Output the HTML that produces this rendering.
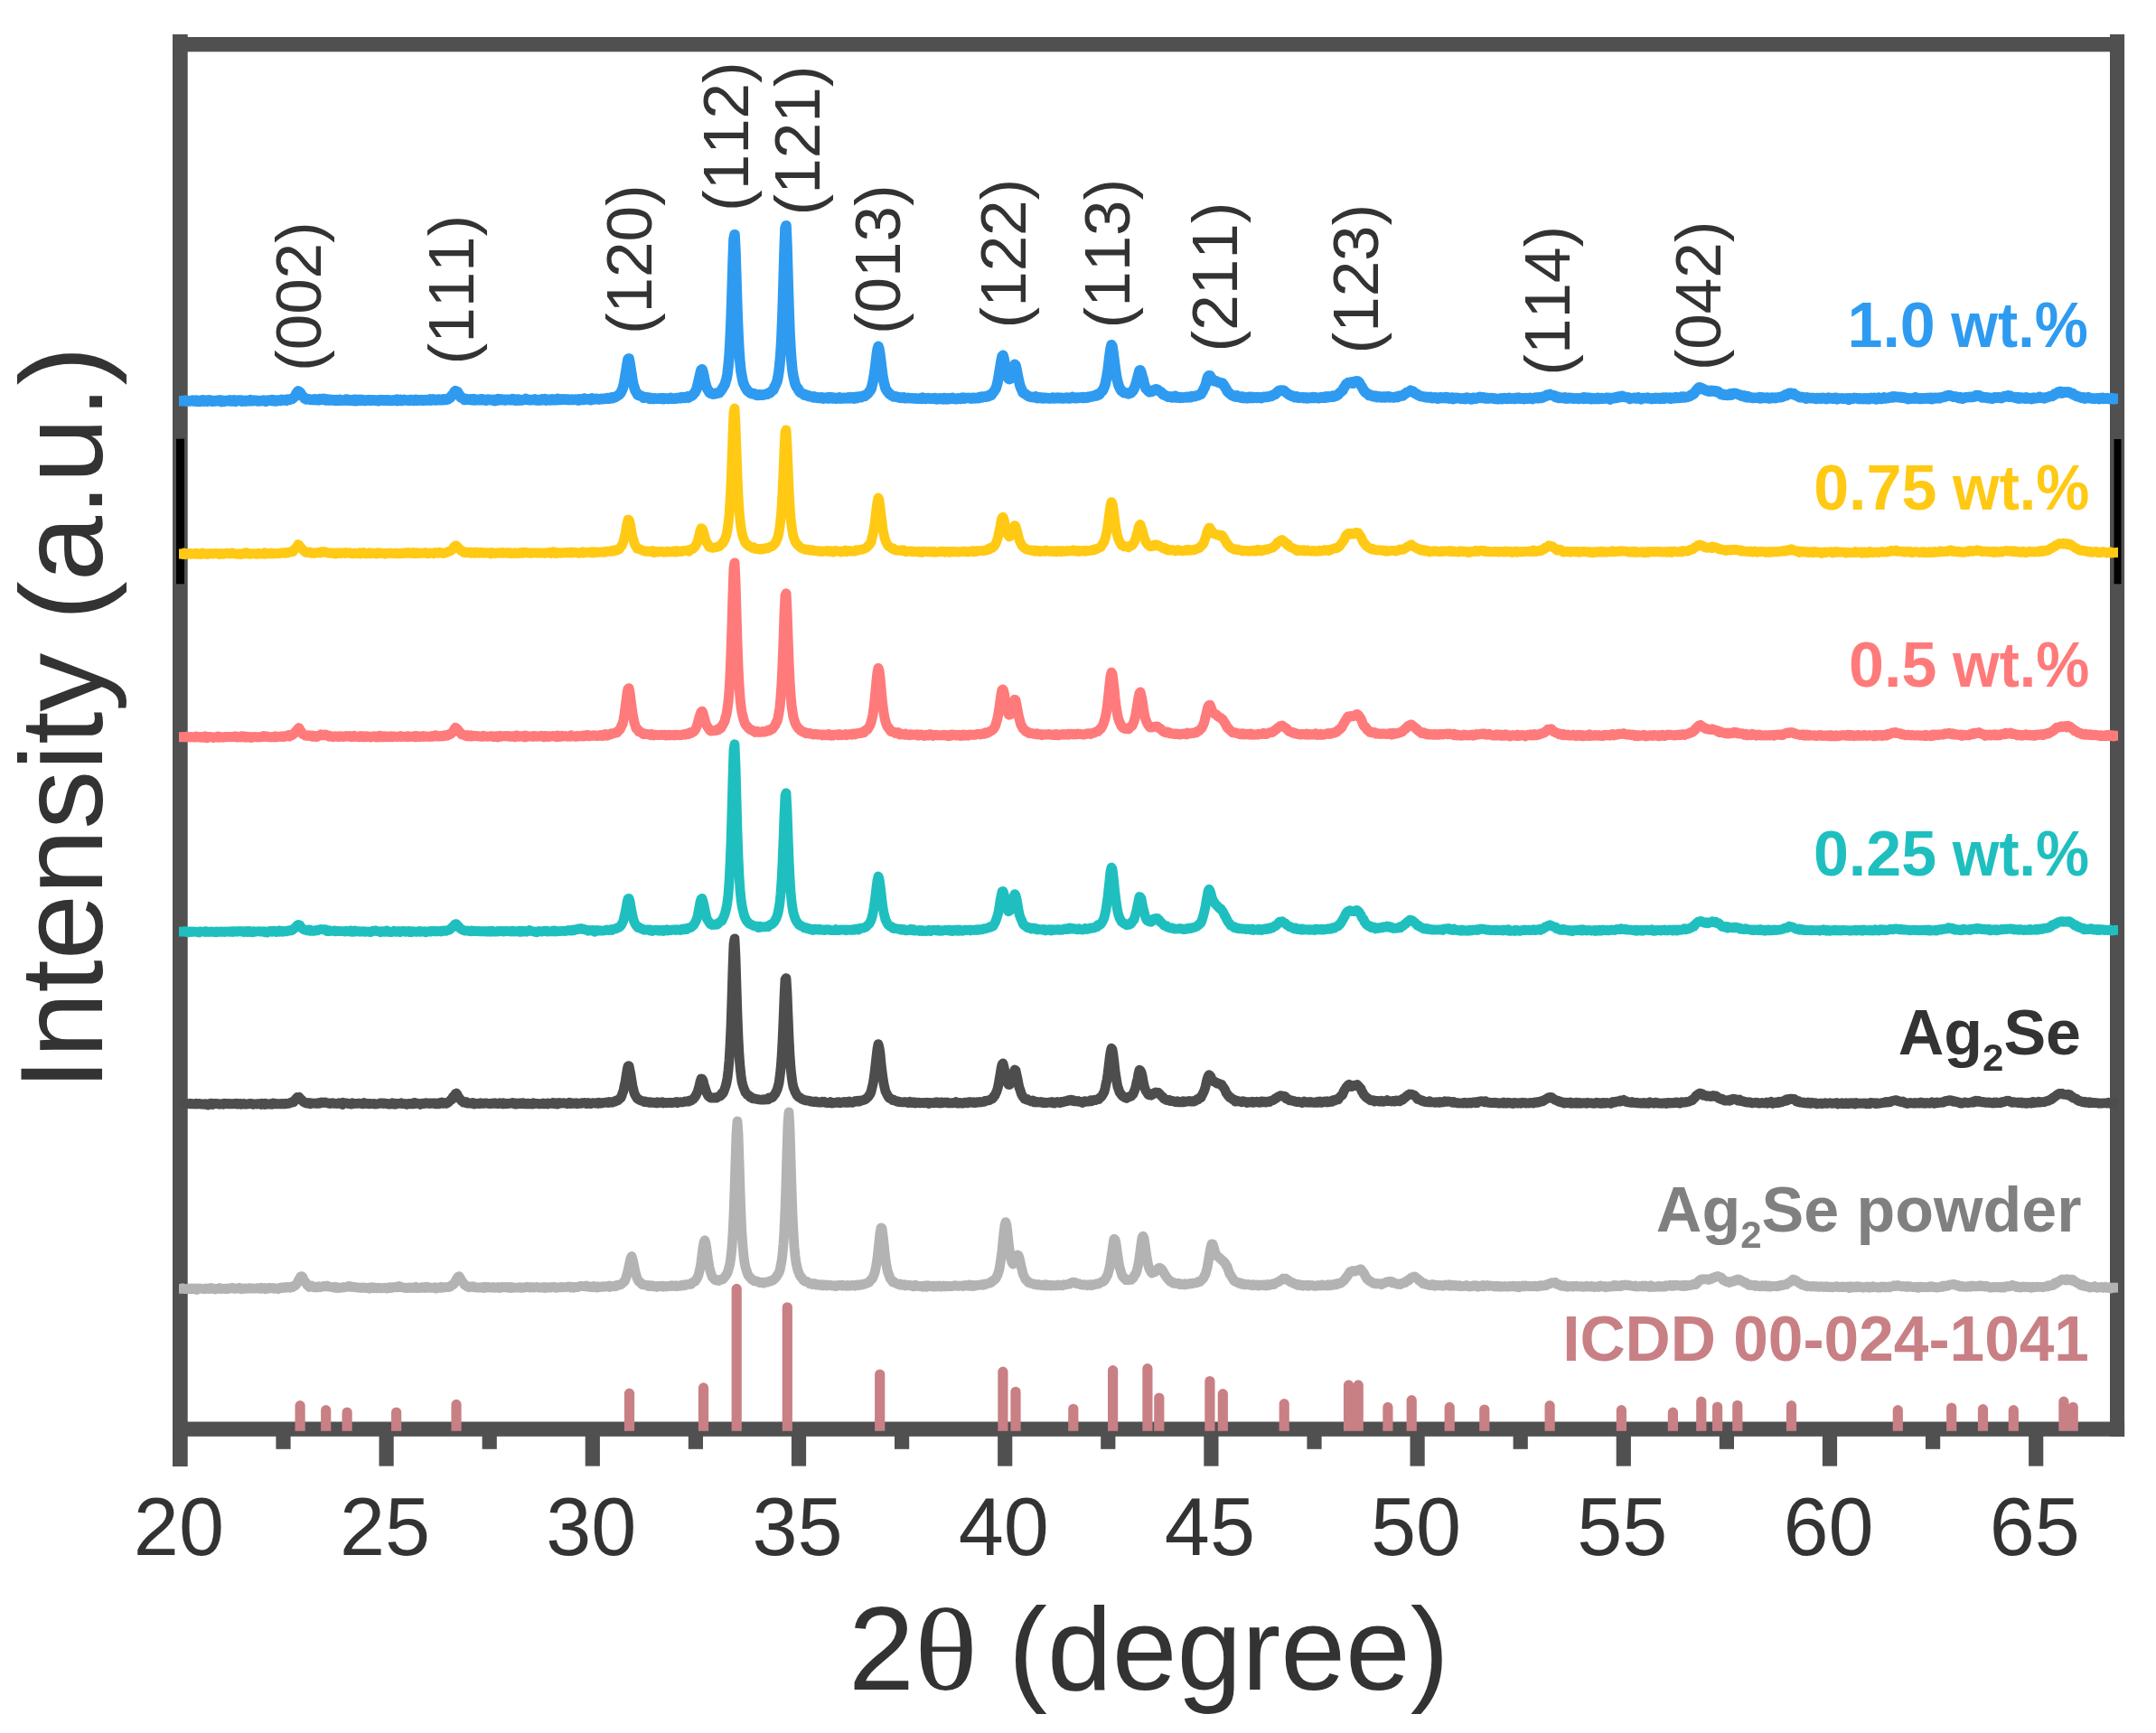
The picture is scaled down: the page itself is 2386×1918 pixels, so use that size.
<!DOCTYPE html>
<html><head><meta charset="utf-8"><title>XRD</title>
<style>html,body{margin:0;padding:0;background:#fff}svg{display:block;filter:blur(0.55px)}text{font-kerning:none}</style></head>
<body>
<svg width="2386" height="1918" viewBox="0 0 2386 1918">
<rect width="2386" height="1918" fill="#fff"/>
<rect x="191" y="38" width="16.7" height="1585" fill="#505050"/>
<rect x="2335" y="38" width="16.1" height="1552" fill="#505050"/>
<rect x="191" y="41" width="2160" height="16.3" fill="#505050"/>
<rect x="191" y="1573.5" width="2160.1" height="16.3" fill="#505050"/>
<rect x="419.5" y="1589" width="16.2" height="33.6" fill="#505050"/>
<rect x="647.7" y="1589" width="16.2" height="33.6" fill="#505050"/>
<rect x="875.9" y="1589" width="16.2" height="33.6" fill="#505050"/>
<rect x="1104.1" y="1589" width="16.2" height="33.6" fill="#505050"/>
<rect x="1332.3" y="1589" width="16.2" height="33.6" fill="#505050"/>
<rect x="1560.5" y="1589" width="16.2" height="33.6" fill="#505050"/>
<rect x="1788.7" y="1589" width="16.2" height="33.6" fill="#505050"/>
<rect x="2016.9" y="1589" width="16.2" height="33.6" fill="#505050"/>
<rect x="2245.1" y="1589" width="16.2" height="33.6" fill="#505050"/>
<rect x="305.4" y="1589" width="16.2" height="14.8" fill="#505050"/>
<rect x="533.6" y="1589" width="16.2" height="14.8" fill="#505050"/>
<rect x="761.8" y="1589" width="16.2" height="14.8" fill="#505050"/>
<rect x="990.0" y="1589" width="16.2" height="14.8" fill="#505050"/>
<rect x="1218.2" y="1589" width="16.2" height="14.8" fill="#505050"/>
<rect x="1446.4" y="1589" width="16.2" height="14.8" fill="#505050"/>
<rect x="1674.6" y="1589" width="16.2" height="14.8" fill="#505050"/>
<rect x="1902.8" y="1589" width="16.2" height="14.8" fill="#505050"/>
<rect x="2131.0" y="1589" width="16.2" height="14.8" fill="#505050"/>
<rect x="195" y="485.7" width="9" height="160.6" fill="#000"/>
<rect x="2339.5" y="486" width="8" height="160.3" fill="#000"/>
<path d="M326.5 1583.8 V1555.6 A5.6 5.6 0 0 1 337.7 1555.6 V1583.8 Z M355.1 1583.8 V1560.7 A5.6 5.6 0 0 1 366.3 1560.7 V1583.8 Z M378.5 1583.8 V1563.0 A5.6 5.6 0 0 1 389.7 1563.0 V1583.8 Z M433.0 1583.8 V1563.0 A5.6 5.6 0 0 1 444.2 1563.0 V1583.8 Z M499.4 1583.8 V1554.4 A5.6 5.6 0 0 1 510.6 1554.4 V1583.8 Z M690.9 1583.8 V1542.2 A5.6 5.6 0 0 1 702.1 1542.2 V1583.8 Z M772.9 1583.8 V1535.9 A5.6 5.6 0 0 1 784.1 1535.9 V1583.8 Z M809.6 1583.8 V1426.4 A5.6 5.6 0 0 1 820.8 1426.4 V1583.8 Z M865.7 1583.8 V1446.8 A5.6 5.6 0 0 1 876.9 1446.8 V1583.8 Z M968.1 1583.8 V1521.0 A5.6 5.6 0 0 1 979.3 1521.0 V1583.8 Z M1104.3 1583.8 V1518.1 A5.6 5.6 0 0 1 1115.5 1518.1 V1583.8 Z M1118.4 1583.8 V1540.3 A5.6 5.6 0 0 1 1129.6 1540.3 V1583.8 Z M1182.2 1583.8 V1559.3 A5.6 5.6 0 0 1 1193.4 1559.3 V1583.8 Z M1226.0 1583.8 V1516.6 A5.6 5.6 0 0 1 1237.2 1516.6 V1583.8 Z M1264.3 1583.8 V1514.7 A5.6 5.6 0 0 1 1275.5 1514.7 V1583.8 Z M1277.2 1583.8 V1547.0 A5.6 5.6 0 0 1 1288.4 1547.0 V1583.8 Z M1333.3 1583.8 V1528.5 A5.6 5.6 0 0 1 1344.5 1528.5 V1583.8 Z M1347.7 1583.8 V1542.6 A5.6 5.6 0 0 1 1358.9 1542.6 V1583.8 Z M1415.6 1583.8 V1553.7 A5.6 5.6 0 0 1 1426.8 1553.7 V1583.8 Z M1486.9 1583.8 V1532.9 A5.6 5.6 0 0 1 1498.1 1532.9 V1583.8 Z M1497.6 1583.8 V1532.9 A5.6 5.6 0 0 1 1508.8 1532.9 V1583.8 Z M1530.3 1583.8 V1557.4 A5.6 5.6 0 0 1 1541.5 1557.4 V1583.8 Z M1556.6 1583.8 V1549.6 A5.6 5.6 0 0 1 1567.8 1549.6 V1583.8 Z M1598.6 1583.8 V1557.4 A5.6 5.6 0 0 1 1609.8 1557.4 V1583.8 Z M1637.2 1583.8 V1560.0 A5.6 5.6 0 0 1 1648.4 1560.0 V1583.8 Z M1709.5 1583.8 V1555.6 A5.6 5.6 0 0 1 1720.7 1555.6 V1583.8 Z M1788.8 1583.8 V1560.7 A5.6 5.6 0 0 1 1800.0 1560.7 V1583.8 Z M1845.8 1583.8 V1563.1 A5.6 5.6 0 0 1 1857.0 1563.1 V1583.8 Z M1877.2 1583.8 V1551.2 A5.6 5.6 0 0 1 1888.4 1551.2 V1583.8 Z M1895.0 1583.8 V1557.0 A5.6 5.6 0 0 1 1906.2 1557.0 V1583.8 Z M1917.2 1583.8 V1555.3 A5.6 5.6 0 0 1 1928.4 1555.3 V1583.8 Z M1976.9 1583.8 V1555.6 A5.6 5.6 0 0 1 1988.1 1555.6 V1583.8 Z M2094.7 1583.8 V1560.7 A5.6 5.6 0 0 1 2105.9 1560.7 V1583.8 Z M2154.1 1583.8 V1558.0 A5.6 5.6 0 0 1 2165.3 1558.0 V1583.8 Z M2188.9 1583.8 V1559.7 A5.6 5.6 0 0 1 2200.1 1559.7 V1583.8 Z M2222.7 1583.8 V1560.7 A5.6 5.6 0 0 1 2233.9 1560.7 V1583.8 Z M2278.3 1583.8 V1551.2 A5.6 5.6 0 0 1 2289.5 1551.2 V1583.8 Z M2288.6 1583.8 V1557.3 A5.6 5.6 0 0 1 2299.8 1557.3 V1583.8 Z" fill="#C88085"/>
<path d="M198.0 1426.4 L199.0 1426.4 L200.0 1426.4 L201.0 1426.3 L202.0 1425.7 L203.0 1426.3 L204.0 1426.6 L205.0 1426.7 L206.0 1426.6 L207.0 1426.5 L208.0 1426.0 L209.0 1425.8 L210.0 1426.8 L211.0 1425.8 L212.0 1425.9 L213.0 1426.6 L214.0 1426.3 L215.0 1426.8 L216.0 1426.1 L217.0 1426.7 L218.0 1427.3 L219.0 1426.0 L220.0 1426.2 L221.0 1426.0 L222.0 1426.2 L223.0 1426.1 L224.0 1426.5 L225.0 1426.6 L226.0 1426.3 L227.0 1426.5 L228.0 1425.9 L229.0 1426.4 L230.0 1426.0 L231.0 1426.6 L232.0 1426.4 L233.0 1425.5 L234.0 1426.2 L235.0 1425.7 L236.0 1426.1 L237.0 1426.6 L238.0 1427.0 L239.0 1426.4 L240.0 1426.4 L241.0 1426.4 L242.0 1426.1 L243.0 1425.5 L244.0 1426.5 L245.0 1426.2 L246.0 1426.2 L247.0 1426.3 L248.0 1426.3 L249.0 1426.2 L250.0 1426.5 L251.0 1426.1 L252.0 1426.6 L253.0 1426.0 L254.0 1426.0 L255.0 1425.7 L256.0 1425.8 L257.0 1425.2 L258.0 1425.6 L259.0 1426.0 L260.0 1426.4 L261.0 1425.8 L262.0 1426.0 L263.0 1426.0 L264.0 1426.0 L265.0 1425.3 L266.0 1425.9 L267.0 1426.8 L268.0 1426.4 L269.0 1425.8 L270.0 1426.1 L271.0 1426.4 L272.0 1425.9 L273.0 1426.2 L274.0 1426.1 L275.0 1425.7 L276.0 1426.0 L277.0 1425.6 L278.0 1426.0 L279.0 1426.1 L280.0 1425.8 L281.0 1426.1 L282.0 1426.1 L283.0 1426.0 L284.0 1425.8 L285.0 1425.6 L286.0 1426.0 L287.0 1426.0 L288.0 1426.3 L289.0 1425.2 L290.0 1426.0 L291.0 1425.8 L292.0 1425.7 L293.0 1425.4 L294.0 1426.7 L295.0 1426.1 L296.0 1425.9 L297.0 1426.0 L298.0 1425.2 L299.0 1425.8 L300.0 1425.9 L301.0 1425.8 L302.0 1425.3 L303.0 1425.6 L304.0 1426.4 L305.0 1426.1 L306.0 1425.9 L307.0 1425.9 L308.0 1426.6 L309.0 1425.8 L310.0 1425.4 L311.0 1424.9 L312.0 1425.6 L313.0 1425.5 L314.0 1424.7 L315.0 1425.2 L316.0 1425.3 L317.0 1425.1 L318.0 1424.3 L319.0 1424.6 L320.0 1424.5 L321.0 1425.3 L322.0 1424.6 L323.0 1424.0 L324.0 1424.4 L325.0 1423.1 L326.0 1423.1 L327.0 1422.7 L328.0 1421.1 L329.0 1419.8 L330.0 1417.7 L331.0 1415.9 L332.0 1414.3 L333.0 1412.6 L334.0 1412.7 L335.0 1413.4 L336.0 1416.7 L337.0 1417.3 L338.0 1419.4 L339.0 1420.3 L340.0 1422.3 L341.0 1423.0 L342.0 1424.3 L343.0 1423.7 L344.0 1424.0 L345.0 1423.0 L346.0 1423.6 L347.0 1424.6 L348.0 1424.3 L349.0 1424.9 L350.0 1424.3 L351.0 1424.8 L352.0 1424.7 L353.0 1423.9 L354.0 1424.6 L355.0 1424.6 L356.0 1424.0 L357.0 1424.0 L358.0 1423.7 L359.0 1423.2 L360.0 1423.4 L361.0 1423.9 L362.0 1423.0 L363.0 1423.8 L364.0 1423.8 L365.0 1424.2 L366.0 1424.3 L367.0 1424.4 L368.0 1424.8 L369.0 1424.6 L370.0 1425.1 L371.0 1424.2 L372.0 1425.4 L373.0 1424.8 L374.0 1424.8 L375.0 1425.5 L376.0 1425.3 L377.0 1425.2 L378.0 1425.2 L379.0 1424.9 L380.0 1424.4 L381.0 1424.8 L382.0 1424.6 L383.0 1424.5 L384.0 1424.0 L385.0 1423.8 L386.0 1423.5 L387.0 1424.3 L388.0 1423.7 L389.0 1424.3 L390.0 1424.2 L391.0 1424.1 L392.0 1424.6 L393.0 1424.3 L394.0 1424.8 L395.0 1425.0 L396.0 1424.8 L397.0 1425.1 L398.0 1425.3 L399.0 1425.3 L400.0 1424.9 L401.0 1425.4 L402.0 1425.1 L403.0 1425.0 L404.0 1425.3 L405.0 1425.2 L406.0 1425.7 L407.0 1425.4 L408.0 1425.2 L409.0 1426.2 L410.0 1425.9 L411.0 1424.6 L412.0 1424.8 L413.0 1425.0 L414.0 1425.8 L415.0 1425.0 L416.0 1425.4 L417.0 1425.3 L418.0 1425.8 L419.0 1425.2 L420.0 1425.5 L421.0 1425.3 L422.0 1425.9 L423.0 1425.6 L424.0 1425.6 L425.0 1425.2 L426.0 1425.3 L427.0 1425.7 L428.0 1426.0 L429.0 1425.2 L430.0 1425.4 L431.0 1424.8 L432.0 1425.7 L433.0 1424.7 L434.0 1425.2 L435.0 1425.1 L436.0 1424.6 L437.0 1424.3 L438.0 1424.6 L439.0 1424.9 L440.0 1424.0 L441.0 1424.4 L442.0 1423.6 L443.0 1424.6 L444.0 1424.3 L445.0 1424.7 L446.0 1424.9 L447.0 1424.8 L448.0 1425.4 L449.0 1425.6 L450.0 1425.6 L451.0 1425.1 L452.0 1425.0 L453.0 1425.5 L454.0 1425.6 L455.0 1425.0 L456.0 1425.2 L457.0 1425.2 L458.0 1425.5 L459.0 1425.1 L460.0 1424.4 L461.0 1425.5 L462.0 1425.6 L463.0 1425.3 L464.0 1425.6 L465.0 1425.2 L466.0 1424.8 L467.0 1425.4 L468.0 1425.0 L469.0 1424.7 L470.0 1425.6 L471.0 1425.2 L472.0 1424.1 L473.0 1425.4 L474.0 1425.2 L475.0 1425.0 L476.0 1425.0 L477.0 1425.3 L478.0 1425.4 L479.0 1425.4 L480.0 1425.5 L481.0 1424.8 L482.0 1425.7 L483.0 1426.0 L484.0 1425.0 L485.0 1425.1 L486.0 1425.1 L487.0 1425.4 L488.0 1424.4 L489.0 1425.2 L490.0 1424.6 L491.0 1424.7 L492.0 1424.8 L493.0 1424.8 L494.0 1424.4 L495.0 1424.5 L496.0 1424.6 L497.0 1424.1 L498.0 1424.2 L499.0 1423.3 L500.0 1422.1 L501.0 1422.2 L502.0 1421.3 L503.0 1420.1 L504.0 1418.0 L505.0 1416.2 L506.0 1414.6 L507.0 1413.2 L508.0 1412.6 L509.0 1414.1 L510.0 1415.7 L511.0 1417.6 L512.0 1419.1 L513.0 1420.0 L514.0 1421.8 L515.0 1422.3 L516.0 1423.2 L517.0 1424.1 L518.0 1423.7 L519.0 1424.7 L520.0 1423.9 L521.0 1424.0 L522.0 1424.0 L523.0 1424.5 L524.0 1423.8 L525.0 1424.7 L526.0 1424.8 L527.0 1425.0 L528.0 1424.9 L529.0 1425.1 L530.0 1425.1 L531.0 1424.9 L532.0 1425.0 L533.0 1424.7 L534.0 1424.8 L535.0 1425.5 L536.0 1424.5 L537.0 1425.3 L538.0 1425.2 L539.0 1424.4 L540.0 1424.3 L541.0 1424.7 L542.0 1425.1 L543.0 1424.8 L544.0 1425.2 L545.0 1424.9 L546.0 1424.5 L547.0 1425.2 L548.0 1425.3 L549.0 1424.9 L550.0 1424.9 L551.0 1424.5 L552.0 1425.3 L553.0 1425.6 L554.0 1425.0 L555.0 1424.4 L556.0 1424.5 L557.0 1424.9 L558.0 1424.5 L559.0 1424.8 L560.0 1424.5 L561.0 1425.0 L562.0 1424.5 L563.0 1425.3 L564.0 1425.5 L565.0 1425.5 L566.0 1424.4 L567.0 1425.4 L568.0 1425.1 L569.0 1425.2 L570.0 1425.1 L571.0 1425.2 L572.0 1425.1 L573.0 1425.0 L574.0 1424.9 L575.0 1424.7 L576.0 1425.4 L577.0 1424.9 L578.0 1424.8 L579.0 1425.3 L580.0 1425.1 L581.0 1424.9 L582.0 1424.9 L583.0 1424.2 L584.0 1424.5 L585.0 1424.8 L586.0 1425.0 L587.0 1425.0 L588.0 1424.4 L589.0 1424.7 L590.0 1425.0 L591.0 1425.2 L592.0 1424.6 L593.0 1424.5 L594.0 1424.4 L595.0 1424.8 L596.0 1425.0 L597.0 1425.2 L598.0 1424.8 L599.0 1425.2 L600.0 1424.9 L601.0 1424.9 L602.0 1424.4 L603.0 1425.5 L604.0 1424.7 L605.0 1425.3 L606.0 1425.1 L607.0 1424.7 L608.0 1424.6 L609.0 1425.1 L610.0 1424.6 L611.0 1424.5 L612.0 1424.5 L613.0 1424.5 L614.0 1424.5 L615.0 1425.3 L616.0 1424.8 L617.0 1425.2 L618.0 1424.9 L619.0 1424.7 L620.0 1424.6 L621.0 1424.3 L622.0 1424.8 L623.0 1424.7 L624.0 1424.7 L625.0 1424.6 L626.0 1424.8 L627.0 1424.4 L628.0 1424.1 L629.0 1424.4 L630.0 1423.9 L631.0 1424.6 L632.0 1425.1 L633.0 1424.3 L634.0 1424.8 L635.0 1425.2 L636.0 1424.3 L637.0 1424.5 L638.0 1424.5 L639.0 1424.7 L640.0 1424.2 L641.0 1423.6 L642.0 1423.5 L643.0 1423.3 L644.0 1423.4 L645.0 1423.7 L646.0 1423.7 L647.0 1423.3 L648.0 1423.8 L649.0 1423.1 L650.0 1423.8 L651.0 1424.4 L652.0 1424.0 L653.0 1423.9 L654.0 1424.6 L655.0 1424.7 L656.0 1424.2 L657.0 1423.5 L658.0 1424.5 L659.0 1424.9 L660.0 1423.9 L661.0 1425.1 L662.0 1423.9 L663.0 1424.6 L664.0 1424.6 L665.0 1424.5 L666.0 1423.9 L667.0 1424.4 L668.0 1423.6 L669.0 1424.1 L670.0 1424.0 L671.0 1424.0 L672.0 1423.5 L673.0 1423.6 L674.0 1423.1 L675.0 1424.4 L676.0 1423.8 L677.0 1423.3 L678.0 1423.6 L679.0 1423.4 L680.0 1423.8 L681.0 1422.9 L682.0 1423.4 L683.0 1422.2 L684.0 1422.4 L685.0 1422.4 L686.0 1421.8 L687.0 1421.8 L688.0 1420.9 L689.0 1419.9 L690.0 1419.0 L691.0 1418.4 L692.0 1416.2 L693.0 1413.7 L694.0 1410.0 L695.0 1406.0 L696.0 1401.3 L697.0 1396.6 L698.0 1392.6 L699.0 1390.5 L700.0 1393.6 L701.0 1397.5 L702.0 1402.7 L703.0 1407.5 L704.0 1410.9 L705.0 1414.6 L706.0 1416.5 L707.0 1418.3 L708.0 1418.7 L709.0 1419.6 L710.0 1421.1 L711.0 1421.9 L712.0 1421.6 L713.0 1421.9 L714.0 1422.3 L715.0 1422.3 L716.0 1422.3 L717.0 1422.4 L718.0 1423.5 L719.0 1422.9 L720.0 1423.4 L721.0 1422.7 L722.0 1423.5 L723.0 1423.8 L724.0 1423.3 L725.0 1423.8 L726.0 1423.6 L727.0 1424.4 L728.0 1423.4 L729.0 1423.5 L730.0 1423.2 L731.0 1423.5 L732.0 1423.8 L733.0 1423.3 L734.0 1424.1 L735.0 1423.3 L736.0 1423.6 L737.0 1424.0 L738.0 1423.3 L739.0 1423.6 L740.0 1423.4 L741.0 1423.2 L742.0 1423.6 L743.0 1422.6 L744.0 1423.0 L745.0 1423.3 L746.0 1423.4 L747.0 1422.9 L748.0 1422.7 L749.0 1423.7 L750.0 1423.3 L751.0 1423.2 L752.0 1423.0 L753.0 1423.3 L754.0 1422.9 L755.0 1422.2 L756.0 1422.5 L757.0 1422.8 L758.0 1421.7 L759.0 1421.9 L760.0 1422.0 L761.0 1421.7 L762.0 1421.2 L763.0 1421.3 L764.0 1421.0 L765.0 1421.2 L766.0 1419.7 L767.0 1419.4 L768.0 1418.4 L769.0 1418.3 L770.0 1416.9 L771.0 1415.5 L772.0 1413.5 L773.0 1411.3 L774.0 1406.9 L775.0 1402.4 L776.0 1396.3 L777.0 1388.4 L778.0 1380.5 L779.0 1375.1 L780.0 1372.7 L781.0 1376.0 L782.0 1382.2 L783.0 1389.7 L784.0 1396.7 L785.0 1402.5 L786.0 1406.6 L787.0 1409.8 L788.0 1412.7 L789.0 1414.3 L790.0 1415.0 L791.0 1416.5 L792.0 1416.2 L793.0 1417.1 L794.0 1417.3 L795.0 1416.8 L796.0 1417.5 L797.0 1416.2 L798.0 1416.3 L799.0 1415.7 L800.0 1415.8 L801.0 1414.6 L802.0 1413.2 L803.0 1412.2 L804.0 1410.4 L805.0 1409.0 L806.0 1405.6 L807.0 1402.1 L808.0 1397.6 L809.0 1390.2 L810.0 1380.3 L811.0 1365.6 L812.0 1344.7 L813.0 1316.9 L814.0 1283.8 L815.0 1254.1 L816.0 1240.8 L817.0 1254.3 L818.0 1284.6 L819.0 1317.4 L820.0 1344.8 L821.0 1365.9 L822.0 1379.1 L823.0 1389.9 L824.0 1397.7 L825.0 1402.5 L826.0 1405.8 L827.0 1408.7 L828.0 1411.2 L829.0 1412.7 L830.0 1414.0 L831.0 1414.3 L832.0 1416.2 L833.0 1416.3 L834.0 1417.4 L835.0 1417.9 L836.0 1417.5 L837.0 1417.9 L838.0 1418.1 L839.0 1418.6 L840.0 1419.3 L841.0 1419.7 L842.0 1419.4 L843.0 1419.3 L844.0 1419.2 L845.0 1420.0 L846.0 1419.4 L847.0 1419.0 L848.0 1419.2 L849.0 1419.2 L850.0 1418.7 L851.0 1418.4 L852.0 1417.7 L853.0 1418.1 L854.0 1417.2 L855.0 1417.2 L856.0 1416.3 L857.0 1415.6 L858.0 1414.3 L859.0 1413.6 L860.0 1411.6 L861.0 1410.3 L862.0 1408.5 L863.0 1405.9 L864.0 1400.7 L865.0 1395.9 L866.0 1388.0 L867.0 1376.6 L868.0 1361.0 L869.0 1337.7 L870.0 1308.6 L871.0 1273.0 L872.0 1242.7 L873.0 1231.0 L874.0 1248.4 L875.0 1281.0 L876.0 1315.1 L877.0 1342.9 L878.0 1363.7 L879.0 1379.7 L880.0 1389.9 L881.0 1397.6 L882.0 1402.0 L883.0 1406.1 L884.0 1408.6 L885.0 1411.2 L886.0 1413.0 L887.0 1413.7 L888.0 1415.4 L889.0 1416.8 L890.0 1417.3 L891.0 1418.4 L892.0 1418.2 L893.0 1418.3 L894.0 1419.1 L895.0 1419.4 L896.0 1420.8 L897.0 1420.5 L898.0 1421.0 L899.0 1421.5 L900.0 1421.2 L901.0 1420.5 L902.0 1420.6 L903.0 1421.9 L904.0 1422.1 L905.0 1421.5 L906.0 1422.2 L907.0 1422.3 L908.0 1422.2 L909.0 1421.8 L910.0 1422.8 L911.0 1422.0 L912.0 1422.7 L913.0 1422.0 L914.0 1422.3 L915.0 1423.0 L916.0 1422.3 L917.0 1422.1 L918.0 1422.7 L919.0 1422.7 L920.0 1422.4 L921.0 1423.0 L922.0 1423.1 L923.0 1423.0 L924.0 1423.5 L925.0 1422.7 L926.0 1423.4 L927.0 1422.9 L928.0 1422.4 L929.0 1422.5 L930.0 1422.4 L931.0 1422.2 L932.0 1423.1 L933.0 1422.3 L934.0 1422.8 L935.0 1423.0 L936.0 1422.8 L937.0 1423.2 L938.0 1422.4 L939.0 1422.5 L940.0 1423.2 L941.0 1423.2 L942.0 1422.7 L943.0 1422.3 L944.0 1422.3 L945.0 1422.8 L946.0 1423.2 L947.0 1422.2 L948.0 1422.3 L949.0 1421.9 L950.0 1422.6 L951.0 1422.1 L952.0 1422.1 L953.0 1421.5 L954.0 1422.0 L955.0 1421.6 L956.0 1421.5 L957.0 1420.8 L958.0 1420.3 L959.0 1420.3 L960.0 1419.8 L961.0 1419.7 L962.0 1419.0 L963.0 1417.3 L964.0 1416.1 L965.0 1415.9 L966.0 1413.6 L967.0 1411.4 L968.0 1408.7 L969.0 1404.4 L970.0 1398.9 L971.0 1392.0 L972.0 1383.0 L973.0 1373.3 L974.0 1364.1 L975.0 1358.9 L976.0 1359.3 L977.0 1366.5 L978.0 1375.5 L979.0 1385.0 L980.0 1393.7 L981.0 1400.2 L982.0 1405.6 L983.0 1409.4 L984.0 1411.6 L985.0 1414.7 L986.0 1416.2 L987.0 1416.9 L988.0 1419.0 L989.0 1418.3 L990.0 1419.8 L991.0 1419.8 L992.0 1420.3 L993.0 1421.1 L994.0 1421.4 L995.0 1421.6 L996.0 1421.0 L997.0 1422.2 L998.0 1421.7 L999.0 1422.0 L1000.0 1422.3 L1001.0 1421.8 L1002.0 1422.9 L1003.0 1422.5 L1004.0 1422.2 L1005.0 1422.5 L1006.0 1422.3 L1007.0 1422.4 L1008.0 1423.0 L1009.0 1423.1 L1010.0 1423.5 L1011.0 1423.9 L1012.0 1423.4 L1013.0 1422.2 L1014.0 1423.4 L1015.0 1423.3 L1016.0 1423.5 L1017.0 1423.6 L1018.0 1423.4 L1019.0 1423.7 L1020.0 1423.6 L1021.0 1424.2 L1022.0 1423.1 L1023.0 1423.0 L1024.0 1423.3 L1025.0 1424.4 L1026.0 1422.7 L1027.0 1423.3 L1028.0 1423.0 L1029.0 1423.4 L1030.0 1423.6 L1031.0 1423.1 L1032.0 1423.9 L1033.0 1424.2 L1034.0 1423.3 L1035.0 1423.8 L1036.0 1423.1 L1037.0 1423.1 L1038.0 1423.8 L1039.0 1423.8 L1040.0 1423.1 L1041.0 1423.7 L1042.0 1424.0 L1043.0 1423.3 L1044.0 1422.9 L1045.0 1423.6 L1046.0 1423.9 L1047.0 1423.5 L1048.0 1423.7 L1049.0 1423.2 L1050.0 1423.5 L1051.0 1423.3 L1052.0 1423.5 L1053.0 1423.7 L1054.0 1423.4 L1055.0 1423.4 L1056.0 1422.8 L1057.0 1422.7 L1058.0 1423.1 L1059.0 1423.3 L1060.0 1423.2 L1061.0 1423.3 L1062.0 1423.2 L1063.0 1423.1 L1064.0 1423.0 L1065.0 1423.2 L1066.0 1423.5 L1067.0 1423.1 L1068.0 1422.5 L1069.0 1422.8 L1070.0 1422.8 L1071.0 1423.1 L1072.0 1423.4 L1073.0 1421.9 L1074.0 1422.7 L1075.0 1422.6 L1076.0 1423.7 L1077.0 1422.5 L1078.0 1422.9 L1079.0 1423.3 L1080.0 1422.4 L1081.0 1422.5 L1082.0 1422.4 L1083.0 1422.4 L1084.0 1422.0 L1085.0 1422.2 L1086.0 1421.8 L1087.0 1421.6 L1088.0 1422.3 L1089.0 1421.0 L1090.0 1421.8 L1091.0 1421.1 L1092.0 1421.0 L1093.0 1420.5 L1094.0 1420.5 L1095.0 1420.3 L1096.0 1419.2 L1097.0 1419.4 L1098.0 1417.8 L1099.0 1417.6 L1100.0 1416.6 L1101.0 1416.0 L1102.0 1415.0 L1103.0 1412.8 L1104.0 1411.0 L1105.0 1407.9 L1106.0 1404.6 L1107.0 1398.2 L1108.0 1391.6 L1109.0 1383.7 L1110.0 1373.3 L1111.0 1363.9 L1112.0 1355.9 L1113.0 1352.6 L1114.0 1356.1 L1115.0 1364.5 L1116.0 1374.0 L1117.0 1382.5 L1118.0 1389.7 L1119.0 1394.1 L1120.0 1397.4 L1121.0 1399.0 L1122.0 1398.6 L1123.0 1396.1 L1124.0 1393.4 L1125.0 1390.4 L1126.0 1388.9 L1127.0 1389.5 L1128.0 1391.8 L1129.0 1396.3 L1130.0 1401.6 L1131.0 1404.9 L1132.0 1409.6 L1133.0 1412.0 L1134.0 1413.8 L1135.0 1416.1 L1136.0 1417.0 L1137.0 1417.7 L1138.0 1419.5 L1139.0 1419.3 L1140.0 1419.8 L1141.0 1420.3 L1142.0 1420.5 L1143.0 1421.0 L1144.0 1420.8 L1145.0 1421.6 L1146.0 1421.5 L1147.0 1421.6 L1148.0 1422.1 L1149.0 1421.4 L1150.0 1422.0 L1151.0 1422.3 L1152.0 1422.5 L1153.0 1422.1 L1154.0 1422.1 L1155.0 1422.7 L1156.0 1421.7 L1157.0 1422.9 L1158.0 1421.8 L1159.0 1422.2 L1160.0 1422.9 L1161.0 1422.6 L1162.0 1422.3 L1163.0 1423.1 L1164.0 1422.8 L1165.0 1422.4 L1166.0 1422.9 L1167.0 1422.8 L1168.0 1422.6 L1169.0 1422.9 L1170.0 1422.8 L1171.0 1422.1 L1172.0 1422.7 L1173.0 1422.7 L1174.0 1422.7 L1175.0 1422.1 L1176.0 1422.7 L1177.0 1421.7 L1178.0 1421.9 L1179.0 1421.8 L1180.0 1421.7 L1181.0 1421.3 L1182.0 1421.2 L1183.0 1420.9 L1184.0 1421.1 L1185.0 1419.8 L1186.0 1419.8 L1187.0 1419.2 L1188.0 1419.2 L1189.0 1419.1 L1190.0 1419.5 L1191.0 1420.5 L1192.0 1420.4 L1193.0 1420.8 L1194.0 1420.6 L1195.0 1421.5 L1196.0 1421.7 L1197.0 1421.8 L1198.0 1422.2 L1199.0 1421.9 L1200.0 1421.7 L1201.0 1422.2 L1202.0 1422.2 L1203.0 1422.7 L1204.0 1421.8 L1205.0 1422.0 L1206.0 1422.4 L1207.0 1421.8 L1208.0 1422.6 L1209.0 1422.5 L1210.0 1421.6 L1211.0 1421.7 L1212.0 1421.6 L1213.0 1420.9 L1214.0 1420.6 L1215.0 1421.1 L1216.0 1420.8 L1217.0 1419.9 L1218.0 1419.5 L1219.0 1418.8 L1220.0 1418.2 L1221.0 1418.4 L1222.0 1417.3 L1223.0 1416.1 L1224.0 1414.2 L1225.0 1412.6 L1226.0 1410.5 L1227.0 1406.7 L1228.0 1402.9 L1229.0 1397.2 L1230.0 1389.8 L1231.0 1383.6 L1232.0 1376.1 L1233.0 1371.2 L1234.0 1371.8 L1235.0 1375.7 L1236.0 1383.4 L1237.0 1390.1 L1238.0 1396.7 L1239.0 1402.5 L1240.0 1405.6 L1241.0 1409.4 L1242.0 1412.0 L1243.0 1413.5 L1244.0 1414.1 L1245.0 1415.4 L1246.0 1416.5 L1247.0 1415.9 L1248.0 1416.2 L1249.0 1416.7 L1250.0 1416.4 L1251.0 1416.1 L1252.0 1416.4 L1253.0 1414.9 L1254.0 1414.7 L1255.0 1412.7 L1256.0 1410.6 L1257.0 1409.5 L1258.0 1406.9 L1259.0 1402.6 L1260.0 1398.3 L1261.0 1391.4 L1262.0 1384.3 L1263.0 1376.5 L1264.0 1369.8 L1265.0 1368.1 L1266.0 1370.4 L1267.0 1376.4 L1268.0 1383.7 L1269.0 1390.8 L1270.0 1396.5 L1271.0 1401.3 L1272.0 1404.3 L1273.0 1406.1 L1274.0 1408.0 L1275.0 1408.9 L1276.0 1408.3 L1277.0 1408.2 L1278.0 1407.9 L1279.0 1406.3 L1280.0 1406.3 L1281.0 1404.3 L1282.0 1403.7 L1283.0 1403.1 L1284.0 1403.5 L1285.0 1404.1 L1286.0 1405.2 L1287.0 1406.7 L1288.0 1408.5 L1289.0 1410.5 L1290.0 1411.7 L1291.0 1413.8 L1292.0 1414.8 L1293.0 1416.0 L1294.0 1416.8 L1295.0 1418.1 L1296.0 1418.2 L1297.0 1418.6 L1298.0 1420.0 L1299.0 1419.6 L1300.0 1420.5 L1301.0 1420.1 L1302.0 1420.4 L1303.0 1420.7 L1304.0 1420.2 L1305.0 1421.4 L1306.0 1421.6 L1307.0 1420.9 L1308.0 1421.5 L1309.0 1421.2 L1310.0 1421.0 L1311.0 1421.8 L1312.0 1420.8 L1313.0 1421.1 L1314.0 1421.5 L1315.0 1421.0 L1316.0 1421.2 L1317.0 1420.5 L1318.0 1420.8 L1319.0 1420.8 L1320.0 1420.1 L1321.0 1420.1 L1322.0 1420.0 L1323.0 1419.9 L1324.0 1419.8 L1325.0 1419.3 L1326.0 1418.4 L1327.0 1418.6 L1328.0 1418.6 L1329.0 1417.4 L1330.0 1416.4 L1331.0 1415.5 L1332.0 1414.3 L1333.0 1411.7 L1334.0 1410.4 L1335.0 1406.6 L1336.0 1403.4 L1337.0 1397.4 L1338.0 1391.3 L1339.0 1385.4 L1340.0 1380.2 L1341.0 1376.8 L1342.0 1376.8 L1343.0 1379.6 L1344.0 1383.2 L1345.0 1386.8 L1346.0 1388.7 L1347.0 1390.3 L1348.0 1390.7 L1349.0 1391.6 L1350.0 1392.3 L1351.0 1393.6 L1352.0 1394.5 L1353.0 1394.9 L1354.0 1396.4 L1355.0 1397.0 L1356.0 1398.2 L1357.0 1400.7 L1358.0 1401.3 L1359.0 1404.8 L1360.0 1407.3 L1361.0 1410.0 L1362.0 1411.4 L1363.0 1413.2 L1364.0 1414.5 L1365.0 1416.4 L1366.0 1417.8 L1367.0 1417.7 L1368.0 1418.7 L1369.0 1419.3 L1370.0 1419.4 L1371.0 1419.3 L1372.0 1420.7 L1373.0 1420.0 L1374.0 1421.3 L1375.0 1420.6 L1376.0 1421.6 L1377.0 1421.9 L1378.0 1421.4 L1379.0 1421.2 L1380.0 1421.7 L1381.0 1421.9 L1382.0 1421.5 L1383.0 1421.9 L1384.0 1422.4 L1385.0 1422.4 L1386.0 1422.7 L1387.0 1421.7 L1388.0 1422.0 L1389.0 1422.3 L1390.0 1422.3 L1391.0 1422.7 L1392.0 1421.9 L1393.0 1423.0 L1394.0 1422.8 L1395.0 1422.7 L1396.0 1422.3 L1397.0 1421.8 L1398.0 1421.8 L1399.0 1422.7 L1400.0 1422.2 L1401.0 1422.9 L1402.0 1422.3 L1403.0 1421.6 L1404.0 1422.5 L1405.0 1421.9 L1406.0 1421.8 L1407.0 1421.9 L1408.0 1420.9 L1409.0 1420.8 L1410.0 1421.5 L1411.0 1420.1 L1412.0 1419.8 L1413.0 1419.3 L1414.0 1418.8 L1415.0 1418.6 L1416.0 1417.9 L1417.0 1417.1 L1418.0 1416.6 L1419.0 1416.4 L1420.0 1415.0 L1421.0 1415.4 L1422.0 1415.4 L1423.0 1415.0 L1424.0 1416.5 L1425.0 1416.7 L1426.0 1417.2 L1427.0 1418.1 L1428.0 1418.7 L1429.0 1419.1 L1430.0 1419.6 L1431.0 1419.7 L1432.0 1420.7 L1433.0 1421.0 L1434.0 1420.8 L1435.0 1421.7 L1436.0 1422.3 L1437.0 1421.4 L1438.0 1422.7 L1439.0 1422.6 L1440.0 1422.7 L1441.0 1422.3 L1442.0 1423.1 L1443.0 1422.4 L1444.0 1422.8 L1445.0 1422.4 L1446.0 1422.2 L1447.0 1423.0 L1448.0 1423.3 L1449.0 1422.3 L1450.0 1422.8 L1451.0 1422.6 L1452.0 1422.5 L1453.0 1422.7 L1454.0 1423.2 L1455.0 1423.4 L1456.0 1423.0 L1457.0 1422.9 L1458.0 1423.1 L1459.0 1422.5 L1460.0 1422.9 L1461.0 1422.6 L1462.0 1422.9 L1463.0 1422.1 L1464.0 1422.9 L1465.0 1422.6 L1466.0 1422.7 L1467.0 1422.7 L1468.0 1423.1 L1469.0 1422.4 L1470.0 1421.8 L1471.0 1422.8 L1472.0 1422.6 L1473.0 1422.0 L1474.0 1422.5 L1475.0 1422.4 L1476.0 1421.4 L1477.0 1421.3 L1478.0 1421.0 L1479.0 1421.9 L1480.0 1420.4 L1481.0 1420.4 L1482.0 1420.6 L1483.0 1420.4 L1484.0 1419.9 L1485.0 1419.0 L1486.0 1418.4 L1487.0 1417.7 L1488.0 1416.4 L1489.0 1414.9 L1490.0 1413.7 L1491.0 1412.4 L1492.0 1410.9 L1493.0 1409.3 L1494.0 1407.7 L1495.0 1407.2 L1496.0 1407.0 L1497.0 1406.3 L1498.0 1406.5 L1499.0 1407.0 L1500.0 1407.0 L1501.0 1406.5 L1502.0 1406.1 L1503.0 1405.8 L1504.0 1405.2 L1505.0 1404.9 L1506.0 1404.6 L1507.0 1405.9 L1508.0 1407.8 L1509.0 1408.4 L1510.0 1410.2 L1511.0 1412.3 L1512.0 1413.9 L1513.0 1415.9 L1514.0 1416.0 L1515.0 1417.4 L1516.0 1417.6 L1517.0 1418.4 L1518.0 1419.0 L1519.0 1419.7 L1520.0 1420.3 L1521.0 1420.5 L1522.0 1420.3 L1523.0 1420.8 L1524.0 1420.5 L1525.0 1420.8 L1526.0 1420.6 L1527.0 1420.9 L1528.0 1421.1 L1529.0 1421.6 L1530.0 1420.4 L1531.0 1420.6 L1532.0 1420.2 L1533.0 1419.7 L1534.0 1419.2 L1535.0 1418.6 L1536.0 1418.8 L1537.0 1418.2 L1538.0 1418.4 L1539.0 1418.9 L1540.0 1418.2 L1541.0 1419.7 L1542.0 1419.3 L1543.0 1420.2 L1544.0 1420.4 L1545.0 1420.4 L1546.0 1420.8 L1547.0 1421.3 L1548.0 1420.8 L1549.0 1421.2 L1550.0 1421.5 L1551.0 1420.6 L1552.0 1420.1 L1553.0 1419.9 L1554.0 1419.9 L1555.0 1419.6 L1556.0 1418.0 L1557.0 1418.0 L1558.0 1417.1 L1559.0 1417.2 L1560.0 1415.3 L1561.0 1415.0 L1562.0 1414.0 L1563.0 1413.7 L1564.0 1413.6 L1565.0 1412.9 L1566.0 1412.8 L1567.0 1414.4 L1568.0 1414.5 L1569.0 1415.7 L1570.0 1416.8 L1571.0 1416.9 L1572.0 1418.0 L1573.0 1419.1 L1574.0 1419.4 L1575.0 1420.8 L1576.0 1420.1 L1577.0 1421.3 L1578.0 1421.1 L1579.0 1421.6 L1580.0 1421.6 L1581.0 1422.2 L1582.0 1422.6 L1583.0 1422.5 L1584.0 1422.4 L1585.0 1421.7 L1586.0 1422.7 L1587.0 1422.0 L1588.0 1423.1 L1589.0 1422.4 L1590.0 1422.2 L1591.0 1422.3 L1592.0 1422.9 L1593.0 1422.6 L1594.0 1422.9 L1595.0 1422.4 L1596.0 1423.1 L1597.0 1423.3 L1598.0 1422.7 L1599.0 1422.2 L1600.0 1422.0 L1601.0 1422.1 L1602.0 1422.7 L1603.0 1421.9 L1604.0 1421.6 L1605.0 1423.2 L1606.0 1422.9 L1607.0 1423.0 L1608.0 1422.3 L1609.0 1423.0 L1610.0 1422.5 L1611.0 1422.8 L1612.0 1423.3 L1613.0 1422.7 L1614.0 1423.2 L1615.0 1422.8 L1616.0 1423.7 L1617.0 1423.2 L1618.0 1423.5 L1619.0 1423.5 L1620.0 1423.2 L1621.0 1423.3 L1622.0 1423.2 L1623.0 1422.6 L1624.0 1423.6 L1625.0 1423.9 L1626.0 1424.0 L1627.0 1423.5 L1628.0 1423.8 L1629.0 1423.2 L1630.0 1423.4 L1631.0 1422.8 L1632.0 1423.2 L1633.0 1423.6 L1634.0 1422.8 L1635.0 1423.3 L1636.0 1424.2 L1637.0 1423.5 L1638.0 1423.1 L1639.0 1423.5 L1640.0 1423.2 L1641.0 1422.6 L1642.0 1423.8 L1643.0 1423.0 L1644.0 1423.0 L1645.0 1423.1 L1646.0 1422.4 L1647.0 1422.8 L1648.0 1423.3 L1649.0 1423.0 L1650.0 1423.2 L1651.0 1423.1 L1652.0 1423.2 L1653.0 1423.9 L1654.0 1423.4 L1655.0 1424.1 L1656.0 1423.9 L1657.0 1423.1 L1658.0 1423.4 L1659.0 1423.4 L1660.0 1424.2 L1661.0 1423.6 L1662.0 1424.1 L1663.0 1424.2 L1664.0 1423.9 L1665.0 1423.5 L1666.0 1423.8 L1667.0 1424.1 L1668.0 1423.8 L1669.0 1424.1 L1670.0 1423.6 L1671.0 1423.3 L1672.0 1423.6 L1673.0 1423.9 L1674.0 1423.2 L1675.0 1423.9 L1676.0 1423.6 L1677.0 1423.3 L1678.0 1423.9 L1679.0 1424.4 L1680.0 1423.3 L1681.0 1424.8 L1682.0 1423.9 L1683.0 1423.5 L1684.0 1423.9 L1685.0 1423.1 L1686.0 1423.9 L1687.0 1423.8 L1688.0 1422.9 L1689.0 1423.0 L1690.0 1423.3 L1691.0 1423.6 L1692.0 1423.8 L1693.0 1423.6 L1694.0 1423.3 L1695.0 1423.9 L1696.0 1423.8 L1697.0 1423.6 L1698.0 1423.4 L1699.0 1423.1 L1700.0 1423.5 L1701.0 1424.1 L1702.0 1423.7 L1703.0 1423.8 L1704.0 1422.8 L1705.0 1423.3 L1706.0 1422.7 L1707.0 1423.2 L1708.0 1423.0 L1709.0 1422.8 L1710.0 1422.9 L1711.0 1422.0 L1712.0 1422.3 L1713.0 1421.5 L1714.0 1420.8 L1715.0 1420.5 L1716.0 1420.5 L1717.0 1419.7 L1718.0 1419.9 L1719.0 1419.8 L1720.0 1419.6 L1721.0 1419.2 L1722.0 1420.6 L1723.0 1421.4 L1724.0 1421.2 L1725.0 1422.1 L1726.0 1421.8 L1727.0 1422.9 L1728.0 1423.3 L1729.0 1423.0 L1730.0 1423.2 L1731.0 1422.7 L1732.0 1423.9 L1733.0 1423.1 L1734.0 1423.7 L1735.0 1424.3 L1736.0 1423.7 L1737.0 1423.7 L1738.0 1423.9 L1739.0 1423.5 L1740.0 1423.5 L1741.0 1424.2 L1742.0 1423.5 L1743.0 1423.7 L1744.0 1423.3 L1745.0 1423.9 L1746.0 1423.5 L1747.0 1423.8 L1748.0 1423.8 L1749.0 1423.9 L1750.0 1423.6 L1751.0 1423.8 L1752.0 1424.3 L1753.0 1424.3 L1754.0 1424.1 L1755.0 1424.1 L1756.0 1423.3 L1757.0 1423.9 L1758.0 1424.0 L1759.0 1424.0 L1760.0 1424.2 L1761.0 1423.5 L1762.0 1424.1 L1763.0 1423.7 L1764.0 1424.1 L1765.0 1424.6 L1766.0 1424.2 L1767.0 1423.9 L1768.0 1423.6 L1769.0 1424.3 L1770.0 1423.2 L1771.0 1423.6 L1772.0 1423.0 L1773.0 1423.9 L1774.0 1423.6 L1775.0 1423.7 L1776.0 1423.5 L1777.0 1424.7 L1778.0 1424.2 L1779.0 1424.2 L1780.0 1423.6 L1781.0 1424.2 L1782.0 1423.8 L1783.0 1423.7 L1784.0 1423.2 L1785.0 1423.8 L1786.0 1422.7 L1787.0 1423.4 L1788.0 1422.7 L1789.0 1423.7 L1790.0 1423.6 L1791.0 1423.6 L1792.0 1422.7 L1793.0 1423.4 L1794.0 1423.6 L1795.0 1422.5 L1796.0 1422.2 L1797.0 1422.1 L1798.0 1422.0 L1799.0 1422.6 L1800.0 1422.1 L1801.0 1422.6 L1802.0 1422.6 L1803.0 1422.4 L1804.0 1422.9 L1805.0 1423.1 L1806.0 1423.3 L1807.0 1423.5 L1808.0 1423.3 L1809.0 1423.7 L1810.0 1422.9 L1811.0 1423.5 L1812.0 1424.2 L1813.0 1423.9 L1814.0 1423.7 L1815.0 1423.5 L1816.0 1423.6 L1817.0 1423.8 L1818.0 1423.1 L1819.0 1423.7 L1820.0 1423.8 L1821.0 1423.0 L1822.0 1423.2 L1823.0 1423.8 L1824.0 1423.7 L1825.0 1424.6 L1826.0 1424.6 L1827.0 1422.7 L1828.0 1423.6 L1829.0 1424.3 L1830.0 1424.0 L1831.0 1424.4 L1832.0 1424.3 L1833.0 1423.8 L1834.0 1424.2 L1835.0 1423.8 L1836.0 1423.3 L1837.0 1423.8 L1838.0 1424.2 L1839.0 1424.0 L1840.0 1423.5 L1841.0 1424.2 L1842.0 1424.1 L1843.0 1424.1 L1844.0 1422.8 L1845.0 1423.1 L1846.0 1423.1 L1847.0 1422.9 L1848.0 1422.3 L1849.0 1422.7 L1850.0 1423.3 L1851.0 1422.3 L1852.0 1423.4 L1853.0 1422.2 L1854.0 1422.7 L1855.0 1422.5 L1856.0 1422.2 L1857.0 1422.8 L1858.0 1422.9 L1859.0 1422.8 L1860.0 1423.4 L1861.0 1423.3 L1862.0 1422.4 L1863.0 1423.5 L1864.0 1422.7 L1865.0 1422.2 L1866.0 1423.2 L1867.0 1423.3 L1868.0 1422.4 L1869.0 1422.7 L1870.0 1422.3 L1871.0 1422.6 L1872.0 1422.0 L1873.0 1422.1 L1874.0 1421.2 L1875.0 1421.6 L1876.0 1420.9 L1877.0 1421.4 L1878.0 1420.3 L1879.0 1418.8 L1880.0 1417.7 L1881.0 1417.6 L1882.0 1416.1 L1883.0 1416.0 L1884.0 1415.6 L1885.0 1415.6 L1886.0 1415.8 L1887.0 1415.9 L1888.0 1415.7 L1889.0 1415.9 L1890.0 1416.0 L1891.0 1416.5 L1892.0 1415.6 L1893.0 1415.5 L1894.0 1415.5 L1895.0 1414.4 L1896.0 1414.3 L1897.0 1414.0 L1898.0 1413.3 L1899.0 1412.9 L1900.0 1413.0 L1901.0 1412.4 L1902.0 1413.2 L1903.0 1413.4 L1904.0 1413.6 L1905.0 1413.9 L1906.0 1415.3 L1907.0 1416.6 L1908.0 1417.1 L1909.0 1417.5 L1910.0 1418.2 L1911.0 1418.7 L1912.0 1418.7 L1913.0 1418.5 L1914.0 1419.4 L1915.0 1418.8 L1916.0 1418.9 L1917.0 1418.2 L1918.0 1418.1 L1919.0 1418.1 L1920.0 1416.9 L1921.0 1416.8 L1922.0 1416.4 L1923.0 1415.9 L1924.0 1417.0 L1925.0 1416.1 L1926.0 1417.2 L1927.0 1417.2 L1928.0 1418.0 L1929.0 1418.5 L1930.0 1419.1 L1931.0 1419.9 L1932.0 1419.5 L1933.0 1420.5 L1934.0 1421.3 L1935.0 1422.2 L1936.0 1421.9 L1937.0 1421.8 L1938.0 1422.7 L1939.0 1422.7 L1940.0 1422.3 L1941.0 1422.5 L1942.0 1422.5 L1943.0 1423.4 L1944.0 1422.7 L1945.0 1422.7 L1946.0 1423.3 L1947.0 1423.7 L1948.0 1423.1 L1949.0 1423.7 L1950.0 1422.9 L1951.0 1423.7 L1952.0 1423.5 L1953.0 1423.5 L1954.0 1422.7 L1955.0 1423.9 L1956.0 1423.5 L1957.0 1423.6 L1958.0 1423.1 L1959.0 1424.1 L1960.0 1423.4 L1961.0 1423.7 L1962.0 1423.4 L1963.0 1423.4 L1964.0 1423.7 L1965.0 1423.6 L1966.0 1423.8 L1967.0 1423.1 L1968.0 1423.5 L1969.0 1422.8 L1970.0 1423.1 L1971.0 1422.3 L1972.0 1422.7 L1973.0 1422.5 L1974.0 1422.0 L1975.0 1421.7 L1976.0 1421.5 L1977.0 1421.6 L1978.0 1420.6 L1979.0 1420.0 L1980.0 1419.4 L1981.0 1419.0 L1982.0 1418.2 L1983.0 1417.3 L1984.0 1416.0 L1985.0 1416.7 L1986.0 1416.4 L1987.0 1417.2 L1988.0 1417.4 L1989.0 1418.7 L1990.0 1419.1 L1991.0 1419.8 L1992.0 1420.7 L1993.0 1420.6 L1994.0 1422.1 L1995.0 1422.0 L1996.0 1422.3 L1997.0 1422.3 L1998.0 1423.2 L1999.0 1422.7 L2000.0 1423.7 L2001.0 1423.1 L2002.0 1423.5 L2003.0 1423.3 L2004.0 1423.7 L2005.0 1424.0 L2006.0 1423.6 L2007.0 1423.4 L2008.0 1423.8 L2009.0 1423.6 L2010.0 1424.1 L2011.0 1423.6 L2012.0 1423.9 L2013.0 1424.4 L2014.0 1424.2 L2015.0 1423.7 L2016.0 1424.0 L2017.0 1424.3 L2018.0 1424.5 L2019.0 1423.9 L2020.0 1424.3 L2021.0 1423.9 L2022.0 1423.7 L2023.0 1424.7 L2024.0 1424.5 L2025.0 1424.6 L2026.0 1424.7 L2027.0 1424.2 L2028.0 1424.8 L2029.0 1424.7 L2030.0 1424.1 L2031.0 1424.2 L2032.0 1423.8 L2033.0 1423.6 L2034.0 1424.6 L2035.0 1424.6 L2036.0 1424.1 L2037.0 1424.6 L2038.0 1424.4 L2039.0 1423.9 L2040.0 1424.7 L2041.0 1424.6 L2042.0 1424.7 L2043.0 1424.2 L2044.0 1423.9 L2045.0 1424.6 L2046.0 1424.9 L2047.0 1425.7 L2048.0 1423.7 L2049.0 1424.3 L2050.0 1424.8 L2051.0 1424.7 L2052.0 1424.9 L2053.0 1424.0 L2054.0 1424.0 L2055.0 1424.8 L2056.0 1423.7 L2057.0 1424.3 L2058.0 1423.9 L2059.0 1424.6 L2060.0 1424.4 L2061.0 1425.1 L2062.0 1424.4 L2063.0 1425.0 L2064.0 1424.6 L2065.0 1424.4 L2066.0 1424.0 L2067.0 1424.7 L2068.0 1424.3 L2069.0 1425.2 L2070.0 1424.5 L2071.0 1424.7 L2072.0 1424.8 L2073.0 1423.6 L2074.0 1424.3 L2075.0 1424.6 L2076.0 1424.7 L2077.0 1424.5 L2078.0 1425.1 L2079.0 1424.9 L2080.0 1424.8 L2081.0 1425.0 L2082.0 1423.9 L2083.0 1424.8 L2084.0 1424.4 L2085.0 1423.9 L2086.0 1424.7 L2087.0 1424.9 L2088.0 1424.7 L2089.0 1424.5 L2090.0 1424.0 L2091.0 1424.8 L2092.0 1424.2 L2093.0 1423.8 L2094.0 1423.4 L2095.0 1423.6 L2096.0 1422.8 L2097.0 1423.6 L2098.0 1423.5 L2099.0 1422.8 L2100.0 1422.3 L2101.0 1422.6 L2102.0 1423.5 L2103.0 1423.6 L2104.0 1423.4 L2105.0 1424.0 L2106.0 1423.9 L2107.0 1423.5 L2108.0 1423.6 L2109.0 1424.2 L2110.0 1424.5 L2111.0 1423.4 L2112.0 1424.3 L2113.0 1423.9 L2114.0 1423.7 L2115.0 1424.1 L2116.0 1424.5 L2117.0 1424.6 L2118.0 1424.5 L2119.0 1424.7 L2120.0 1424.4 L2121.0 1424.1 L2122.0 1425.3 L2123.0 1425.4 L2124.0 1424.1 L2125.0 1424.2 L2126.0 1424.1 L2127.0 1424.6 L2128.0 1424.6 L2129.0 1424.3 L2130.0 1424.6 L2131.0 1424.7 L2132.0 1424.8 L2133.0 1424.6 L2134.0 1424.4 L2135.0 1424.6 L2136.0 1423.8 L2137.0 1424.4 L2138.0 1423.8 L2139.0 1424.6 L2140.0 1424.7 L2141.0 1424.5 L2142.0 1424.3 L2143.0 1425.1 L2144.0 1424.9 L2145.0 1424.8 L2146.0 1424.3 L2147.0 1424.6 L2148.0 1424.1 L2149.0 1424.4 L2150.0 1423.2 L2151.0 1424.0 L2152.0 1423.0 L2153.0 1423.4 L2154.0 1423.2 L2155.0 1423.4 L2156.0 1422.5 L2157.0 1422.0 L2158.0 1422.2 L2159.0 1422.0 L2160.0 1421.7 L2161.0 1421.4 L2162.0 1421.8 L2163.0 1421.4 L2164.0 1422.1 L2165.0 1422.1 L2166.0 1423.0 L2167.0 1422.6 L2168.0 1423.7 L2169.0 1424.1 L2170.0 1423.6 L2171.0 1423.3 L2172.0 1424.1 L2173.0 1423.9 L2174.0 1424.1 L2175.0 1424.3 L2176.0 1424.4 L2177.0 1424.3 L2178.0 1423.6 L2179.0 1424.2 L2180.0 1423.9 L2181.0 1424.3 L2182.0 1423.1 L2183.0 1423.7 L2184.0 1423.7 L2185.0 1423.2 L2186.0 1423.8 L2187.0 1423.8 L2188.0 1423.7 L2189.0 1423.2 L2190.0 1422.9 L2191.0 1423.5 L2192.0 1422.8 L2193.0 1423.7 L2194.0 1423.5 L2195.0 1423.2 L2196.0 1424.1 L2197.0 1424.2 L2198.0 1423.1 L2199.0 1424.0 L2200.0 1424.0 L2201.0 1424.1 L2202.0 1425.0 L2203.0 1424.8 L2204.0 1425.2 L2205.0 1424.8 L2206.0 1424.5 L2207.0 1424.2 L2208.0 1424.7 L2209.0 1424.8 L2210.0 1424.4 L2211.0 1424.3 L2212.0 1424.8 L2213.0 1424.5 L2214.0 1425.2 L2215.0 1424.2 L2216.0 1424.5 L2217.0 1424.3 L2218.0 1425.0 L2219.0 1423.9 L2220.0 1423.7 L2221.0 1423.8 L2222.0 1423.5 L2223.0 1423.9 L2224.0 1423.6 L2225.0 1423.4 L2226.0 1423.2 L2227.0 1422.3 L2228.0 1422.9 L2229.0 1423.3 L2230.0 1423.2 L2231.0 1424.1 L2232.0 1424.6 L2233.0 1423.8 L2234.0 1423.8 L2235.0 1424.3 L2236.0 1425.0 L2237.0 1424.3 L2238.0 1424.1 L2239.0 1424.6 L2240.0 1424.0 L2241.0 1424.1 L2242.0 1424.7 L2243.0 1424.1 L2244.0 1424.5 L2245.0 1424.5 L2246.0 1424.1 L2247.0 1424.8 L2248.0 1425.3 L2249.0 1424.8 L2250.0 1424.2 L2251.0 1424.3 L2252.0 1424.7 L2253.0 1424.3 L2254.0 1424.2 L2255.0 1424.1 L2256.0 1424.4 L2257.0 1424.4 L2258.0 1424.2 L2259.0 1424.4 L2260.0 1424.4 L2261.0 1424.6 L2262.0 1424.1 L2263.0 1424.0 L2264.0 1423.9 L2265.0 1423.5 L2266.0 1423.8 L2267.0 1422.6 L2268.0 1423.3 L2269.0 1422.6 L2270.0 1422.6 L2271.0 1422.7 L2272.0 1422.3 L2273.0 1422.1 L2274.0 1419.8 L2275.0 1420.7 L2276.0 1419.7 L2277.0 1419.6 L2278.0 1418.2 L2279.0 1418.0 L2280.0 1417.0 L2281.0 1416.6 L2282.0 1415.9 L2283.0 1416.3 L2284.0 1416.0 L2285.0 1416.1 L2286.0 1417.0 L2287.0 1416.0 L2288.0 1416.8 L2289.0 1416.2 L2290.0 1416.2 L2291.0 1416.3 L2292.0 1416.2 L2293.0 1417.5 L2294.0 1416.4 L2295.0 1417.1 L2296.0 1417.8 L2297.0 1418.9 L2298.0 1419.4 L2299.0 1420.0 L2300.0 1420.3 L2301.0 1421.0 L2302.0 1421.9 L2303.0 1422.5 L2304.0 1422.0 L2305.0 1421.8 L2306.0 1423.4 L2307.0 1423.3 L2308.0 1423.6 L2309.0 1423.3 L2310.0 1424.0 L2311.0 1424.1 L2312.0 1424.6 L2313.0 1425.1 L2314.0 1424.4 L2315.0 1424.5 L2316.0 1424.5 L2317.0 1424.6 L2318.0 1423.7 L2319.0 1424.5 L2320.0 1424.5 L2321.0 1425.4 L2322.0 1425.1 L2323.0 1424.6 L2324.0 1424.6 L2325.0 1424.6 L2326.0 1424.4 L2327.0 1425.2 L2328.0 1425.3 L2329.0 1424.9 L2330.0 1424.3 L2331.0 1425.0 L2332.0 1425.4 L2333.0 1425.0 L2334.0 1424.6 L2335.0 1425.0 L2336.0 1426.0 L2337.0 1425.3 L2338.0 1425.4 L2339.0 1424.9 L2340.0 1425.3 L2341.0 1425.2 L2342.0 1425.2 L2343.0 1425.2 L2344.0 1425.2" fill="none" stroke="#B3B3B3" stroke-width="10.8" stroke-linejoin="round" stroke-linecap="butt"/>
<path d="M198.0 1221.8 L199.0 1221.8 L200.0 1221.8 L201.0 1221.8 L202.0 1221.4 L203.0 1221.8 L204.0 1221.7 L205.0 1221.9 L206.0 1221.6 L207.0 1221.6 L208.0 1221.6 L209.0 1221.6 L210.0 1221.2 L211.0 1221.9 L212.0 1221.5 L213.0 1221.9 L214.0 1221.7 L215.0 1221.9 L216.0 1222.0 L217.0 1221.3 L218.0 1221.7 L219.0 1221.8 L220.0 1221.5 L221.0 1221.5 L222.0 1221.9 L223.0 1222.2 L224.0 1221.9 L225.0 1222.0 L226.0 1221.9 L227.0 1222.4 L228.0 1221.7 L229.0 1222.1 L230.0 1223.0 L231.0 1221.9 L232.0 1221.7 L233.0 1221.1 L234.0 1221.1 L235.0 1222.5 L236.0 1221.7 L237.0 1221.4 L238.0 1221.5 L239.0 1221.3 L240.0 1221.7 L241.0 1221.5 L242.0 1221.9 L243.0 1222.3 L244.0 1221.9 L245.0 1221.7 L246.0 1221.7 L247.0 1222.2 L248.0 1221.2 L249.0 1221.3 L250.0 1221.5 L251.0 1221.3 L252.0 1221.9 L253.0 1221.6 L254.0 1221.3 L255.0 1221.9 L256.0 1221.7 L257.0 1221.8 L258.0 1221.7 L259.0 1221.5 L260.0 1221.3 L261.0 1221.9 L262.0 1221.3 L263.0 1222.1 L264.0 1221.8 L265.0 1221.7 L266.0 1221.4 L267.0 1222.3 L268.0 1221.6 L269.0 1221.9 L270.0 1221.4 L271.0 1222.1 L272.0 1221.8 L273.0 1222.1 L274.0 1222.0 L275.0 1221.6 L276.0 1221.3 L277.0 1221.7 L278.0 1221.4 L279.0 1221.5 L280.0 1222.3 L281.0 1222.0 L282.0 1221.8 L283.0 1221.9 L284.0 1222.0 L285.0 1221.7 L286.0 1221.6 L287.0 1221.7 L288.0 1221.8 L289.0 1222.4 L290.0 1221.2 L291.0 1221.7 L292.0 1221.4 L293.0 1222.5 L294.0 1221.4 L295.0 1222.1 L296.0 1221.9 L297.0 1221.8 L298.0 1222.0 L299.0 1221.8 L300.0 1221.5 L301.0 1222.3 L302.0 1221.1 L303.0 1220.9 L304.0 1221.3 L305.0 1221.8 L306.0 1221.3 L307.0 1221.6 L308.0 1221.9 L309.0 1221.7 L310.0 1221.6 L311.0 1221.9 L312.0 1221.4 L313.0 1221.8 L314.0 1221.4 L315.0 1221.9 L316.0 1221.7 L317.0 1221.2 L318.0 1221.5 L319.0 1221.4 L320.0 1221.2 L321.0 1220.9 L322.0 1220.1 L323.0 1220.0 L324.0 1220.1 L325.0 1219.7 L326.0 1217.8 L327.0 1217.0 L328.0 1215.4 L329.0 1214.5 L330.0 1214.6 L331.0 1214.3 L332.0 1215.6 L333.0 1217.2 L334.0 1217.1 L335.0 1218.7 L336.0 1219.5 L337.0 1220.1 L338.0 1220.7 L339.0 1221.0 L340.0 1220.9 L341.0 1220.5 L342.0 1221.4 L343.0 1221.8 L344.0 1220.7 L345.0 1221.1 L346.0 1221.2 L347.0 1221.0 L348.0 1221.2 L349.0 1221.2 L350.0 1221.4 L351.0 1220.8 L352.0 1220.7 L353.0 1221.4 L354.0 1220.9 L355.0 1220.2 L356.0 1219.8 L357.0 1220.2 L358.0 1220.5 L359.0 1220.3 L360.0 1220.0 L361.0 1220.3 L362.0 1220.6 L363.0 1221.0 L364.0 1221.2 L365.0 1221.6 L366.0 1221.0 L367.0 1221.0 L368.0 1220.7 L369.0 1221.0 L370.0 1221.3 L371.0 1221.3 L372.0 1221.3 L373.0 1221.5 L374.0 1221.3 L375.0 1220.8 L376.0 1221.4 L377.0 1221.5 L378.0 1221.0 L379.0 1222.5 L380.0 1220.3 L381.0 1220.6 L382.0 1221.0 L383.0 1220.9 L384.0 1220.8 L385.0 1221.3 L386.0 1221.7 L387.0 1221.5 L388.0 1221.4 L389.0 1222.0 L390.0 1220.8 L391.0 1221.4 L392.0 1221.5 L393.0 1221.4 L394.0 1221.4 L395.0 1221.4 L396.0 1221.3 L397.0 1221.1 L398.0 1221.1 L399.0 1221.4 L400.0 1221.7 L401.0 1221.7 L402.0 1221.8 L403.0 1220.6 L404.0 1221.2 L405.0 1221.1 L406.0 1221.5 L407.0 1221.5 L408.0 1221.4 L409.0 1221.9 L410.0 1221.3 L411.0 1221.6 L412.0 1221.7 L413.0 1221.7 L414.0 1221.4 L415.0 1222.0 L416.0 1221.8 L417.0 1221.9 L418.0 1221.6 L419.0 1221.6 L420.0 1221.2 L421.0 1220.8 L422.0 1221.1 L423.0 1220.9 L424.0 1221.5 L425.0 1221.0 L426.0 1221.3 L427.0 1221.2 L428.0 1221.5 L429.0 1221.4 L430.0 1222.0 L431.0 1221.8 L432.0 1222.1 L433.0 1221.5 L434.0 1220.8 L435.0 1221.9 L436.0 1222.2 L437.0 1221.3 L438.0 1222.0 L439.0 1221.4 L440.0 1221.5 L441.0 1221.4 L442.0 1221.3 L443.0 1221.3 L444.0 1220.8 L445.0 1221.5 L446.0 1221.5 L447.0 1221.7 L448.0 1221.5 L449.0 1221.6 L450.0 1222.3 L451.0 1221.8 L452.0 1221.4 L453.0 1221.6 L454.0 1221.5 L455.0 1221.9 L456.0 1221.3 L457.0 1221.9 L458.0 1221.6 L459.0 1220.4 L460.0 1221.6 L461.0 1221.2 L462.0 1221.1 L463.0 1221.4 L464.0 1221.5 L465.0 1222.3 L466.0 1221.4 L467.0 1221.1 L468.0 1221.4 L469.0 1221.6 L470.0 1221.0 L471.0 1221.3 L472.0 1220.7 L473.0 1220.9 L474.0 1221.2 L475.0 1221.6 L476.0 1221.0 L477.0 1221.0 L478.0 1221.3 L479.0 1220.9 L480.0 1221.0 L481.0 1220.9 L482.0 1221.9 L483.0 1221.0 L484.0 1221.7 L485.0 1221.2 L486.0 1221.7 L487.0 1220.6 L488.0 1221.0 L489.0 1220.0 L490.0 1221.3 L491.0 1221.0 L492.0 1220.5 L493.0 1221.2 L494.0 1221.4 L495.0 1220.6 L496.0 1220.3 L497.0 1219.3 L498.0 1218.3 L499.0 1217.2 L500.0 1217.0 L501.0 1214.4 L502.0 1213.4 L503.0 1212.4 L504.0 1210.7 L505.0 1210.1 L506.0 1211.4 L507.0 1213.9 L508.0 1214.8 L509.0 1216.4 L510.0 1217.2 L511.0 1218.6 L512.0 1219.0 L513.0 1220.1 L514.0 1219.6 L515.0 1220.1 L516.0 1219.5 L517.0 1221.1 L518.0 1221.1 L519.0 1220.7 L520.0 1220.9 L521.0 1221.1 L522.0 1221.4 L523.0 1220.4 L524.0 1220.7 L525.0 1222.0 L526.0 1221.6 L527.0 1221.4 L528.0 1221.2 L529.0 1221.5 L530.0 1221.6 L531.0 1221.6 L532.0 1220.8 L533.0 1221.3 L534.0 1221.4 L535.0 1221.4 L536.0 1220.9 L537.0 1221.2 L538.0 1220.9 L539.0 1221.1 L540.0 1221.4 L541.0 1221.5 L542.0 1221.5 L543.0 1221.7 L544.0 1221.4 L545.0 1220.9 L546.0 1221.4 L547.0 1221.2 L548.0 1220.7 L549.0 1221.1 L550.0 1221.5 L551.0 1221.7 L552.0 1221.3 L553.0 1220.8 L554.0 1221.3 L555.0 1221.1 L556.0 1221.8 L557.0 1220.9 L558.0 1221.7 L559.0 1221.3 L560.0 1221.5 L561.0 1221.1 L562.0 1221.5 L563.0 1221.3 L564.0 1221.3 L565.0 1220.9 L566.0 1221.1 L567.0 1220.6 L568.0 1221.5 L569.0 1221.2 L570.0 1221.9 L571.0 1220.8 L572.0 1221.9 L573.0 1221.5 L574.0 1221.2 L575.0 1221.5 L576.0 1220.9 L577.0 1220.8 L578.0 1221.8 L579.0 1220.6 L580.0 1221.3 L581.0 1221.9 L582.0 1221.4 L583.0 1221.8 L584.0 1221.2 L585.0 1221.1 L586.0 1221.8 L587.0 1221.7 L588.0 1221.3 L589.0 1221.9 L590.0 1220.9 L591.0 1221.7 L592.0 1221.2 L593.0 1221.4 L594.0 1221.4 L595.0 1221.4 L596.0 1221.5 L597.0 1221.9 L598.0 1221.8 L599.0 1221.3 L600.0 1221.3 L601.0 1220.9 L602.0 1221.9 L603.0 1221.7 L604.0 1221.1 L605.0 1221.4 L606.0 1221.9 L607.0 1221.0 L608.0 1221.4 L609.0 1221.3 L610.0 1221.2 L611.0 1221.3 L612.0 1220.5 L613.0 1221.6 L614.0 1221.1 L615.0 1221.3 L616.0 1220.7 L617.0 1222.1 L618.0 1221.5 L619.0 1220.5 L620.0 1221.0 L621.0 1221.1 L622.0 1220.9 L623.0 1220.7 L624.0 1220.7 L625.0 1220.9 L626.0 1221.3 L627.0 1221.3 L628.0 1221.7 L629.0 1221.1 L630.0 1220.3 L631.0 1221.1 L632.0 1221.6 L633.0 1220.7 L634.0 1221.2 L635.0 1221.3 L636.0 1220.8 L637.0 1221.1 L638.0 1220.7 L639.0 1221.7 L640.0 1221.4 L641.0 1221.1 L642.0 1221.4 L643.0 1221.3 L644.0 1220.7 L645.0 1220.6 L646.0 1220.5 L647.0 1220.5 L648.0 1221.3 L649.0 1221.4 L650.0 1221.6 L651.0 1220.5 L652.0 1221.0 L653.0 1221.4 L654.0 1221.6 L655.0 1220.8 L656.0 1220.7 L657.0 1220.7 L658.0 1221.0 L659.0 1221.1 L660.0 1221.2 L661.0 1220.6 L662.0 1221.3 L663.0 1220.3 L664.0 1220.9 L665.0 1221.1 L666.0 1221.0 L667.0 1220.7 L668.0 1220.3 L669.0 1220.4 L670.0 1220.1 L671.0 1220.0 L672.0 1219.8 L673.0 1220.5 L674.0 1219.5 L675.0 1219.6 L676.0 1220.2 L677.0 1219.7 L678.0 1220.0 L679.0 1219.7 L680.0 1219.0 L681.0 1219.0 L682.0 1217.8 L683.0 1217.8 L684.0 1217.8 L685.0 1216.6 L686.0 1215.6 L687.0 1215.3 L688.0 1212.8 L689.0 1209.6 L690.0 1207.3 L691.0 1201.7 L692.0 1197.5 L693.0 1191.1 L694.0 1184.5 L695.0 1180.0 L696.0 1179.6 L697.0 1184.6 L698.0 1189.2 L699.0 1195.8 L700.0 1201.6 L701.0 1205.9 L702.0 1210.1 L703.0 1212.1 L704.0 1213.8 L705.0 1215.5 L706.0 1216.3 L707.0 1216.9 L708.0 1217.4 L709.0 1217.9 L710.0 1218.3 L711.0 1218.5 L712.0 1218.9 L713.0 1219.6 L714.0 1218.9 L715.0 1219.6 L716.0 1219.9 L717.0 1219.7 L718.0 1219.8 L719.0 1220.4 L720.0 1219.8 L721.0 1220.3 L722.0 1220.3 L723.0 1220.2 L724.0 1220.3 L725.0 1220.6 L726.0 1220.8 L727.0 1219.9 L728.0 1220.7 L729.0 1220.1 L730.0 1220.0 L731.0 1220.4 L732.0 1220.4 L733.0 1219.7 L734.0 1221.0 L735.0 1220.2 L736.0 1220.6 L737.0 1220.5 L738.0 1220.6 L739.0 1220.4 L740.0 1220.5 L741.0 1220.4 L742.0 1220.2 L743.0 1220.7 L744.0 1220.3 L745.0 1220.4 L746.0 1220.0 L747.0 1219.9 L748.0 1220.2 L749.0 1219.6 L750.0 1220.6 L751.0 1219.9 L752.0 1219.8 L753.0 1219.7 L754.0 1219.8 L755.0 1219.9 L756.0 1219.9 L757.0 1219.3 L758.0 1219.0 L759.0 1219.2 L760.0 1219.0 L761.0 1218.6 L762.0 1219.1 L763.0 1218.0 L764.0 1217.8 L765.0 1218.0 L766.0 1217.0 L767.0 1216.5 L768.0 1215.4 L769.0 1214.1 L770.0 1212.7 L771.0 1210.3 L772.0 1208.5 L773.0 1204.9 L774.0 1201.6 L775.0 1196.9 L776.0 1193.9 L777.0 1194.2 L778.0 1195.8 L779.0 1200.0 L780.0 1203.3 L781.0 1206.2 L782.0 1209.4 L783.0 1211.4 L784.0 1213.2 L785.0 1213.8 L786.0 1214.7 L787.0 1215.2 L788.0 1215.0 L789.0 1215.0 L790.0 1215.2 L791.0 1214.7 L792.0 1215.2 L793.0 1215.1 L794.0 1214.4 L795.0 1213.8 L796.0 1213.0 L797.0 1213.0 L798.0 1212.2 L799.0 1209.9 L800.0 1210.1 L801.0 1208.1 L802.0 1205.1 L803.0 1202.3 L804.0 1198.4 L805.0 1193.0 L806.0 1184.8 L807.0 1173.7 L808.0 1157.4 L809.0 1135.4 L810.0 1104.9 L811.0 1071.2 L812.0 1044.8 L813.0 1038.9 L814.0 1059.1 L815.0 1091.7 L816.0 1123.3 L817.0 1148.8 L818.0 1167.5 L819.0 1180.6 L820.0 1189.9 L821.0 1197.1 L822.0 1200.9 L823.0 1203.9 L824.0 1206.4 L825.0 1209.1 L826.0 1210.0 L827.0 1211.6 L828.0 1211.9 L829.0 1212.6 L830.0 1214.2 L831.0 1214.0 L832.0 1215.2 L833.0 1215.9 L834.0 1215.6 L835.0 1216.0 L836.0 1216.2 L837.0 1216.3 L838.0 1216.6 L839.0 1216.7 L840.0 1216.9 L841.0 1217.0 L842.0 1217.2 L843.0 1217.2 L844.0 1217.0 L845.0 1216.7 L846.0 1217.0 L847.0 1217.0 L848.0 1216.6 L849.0 1216.2 L850.0 1216.9 L851.0 1214.9 L852.0 1215.6 L853.0 1215.0 L854.0 1214.9 L855.0 1214.3 L856.0 1213.0 L857.0 1211.5 L858.0 1210.5 L859.0 1208.1 L860.0 1206.2 L861.0 1202.8 L862.0 1198.9 L863.0 1191.8 L864.0 1183.2 L865.0 1170.5 L866.0 1152.4 L867.0 1129.2 L868.0 1103.5 L869.0 1084.1 L870.0 1082.6 L871.0 1098.8 L872.0 1123.9 L873.0 1148.0 L874.0 1167.2 L875.0 1181.6 L876.0 1191.0 L877.0 1198.2 L878.0 1203.2 L879.0 1205.7 L880.0 1208.6 L881.0 1210.3 L882.0 1212.2 L883.0 1213.4 L884.0 1214.2 L885.0 1214.5 L886.0 1215.4 L887.0 1216.1 L888.0 1216.6 L889.0 1216.8 L890.0 1217.4 L891.0 1217.8 L892.0 1218.0 L893.0 1217.9 L894.0 1218.2 L895.0 1218.1 L896.0 1218.4 L897.0 1219.1 L898.0 1218.9 L899.0 1219.0 L900.0 1219.6 L901.0 1219.1 L902.0 1219.4 L903.0 1218.9 L904.0 1219.9 L905.0 1219.5 L906.0 1220.0 L907.0 1220.0 L908.0 1219.8 L909.0 1220.0 L910.0 1219.3 L911.0 1219.7 L912.0 1219.2 L913.0 1220.3 L914.0 1220.2 L915.0 1220.5 L916.0 1220.5 L917.0 1220.6 L918.0 1220.0 L919.0 1219.5 L920.0 1220.0 L921.0 1220.9 L922.0 1220.3 L923.0 1220.6 L924.0 1220.4 L925.0 1220.3 L926.0 1220.0 L927.0 1219.7 L928.0 1220.4 L929.0 1219.8 L930.0 1220.7 L931.0 1220.3 L932.0 1220.3 L933.0 1220.1 L934.0 1219.4 L935.0 1219.7 L936.0 1220.3 L937.0 1219.5 L938.0 1219.5 L939.0 1220.4 L940.0 1219.1 L941.0 1219.7 L942.0 1219.8 L943.0 1220.4 L944.0 1220.0 L945.0 1219.6 L946.0 1218.7 L947.0 1219.2 L948.0 1218.5 L949.0 1219.1 L950.0 1218.3 L951.0 1219.0 L952.0 1218.7 L953.0 1218.0 L954.0 1218.1 L955.0 1217.7 L956.0 1217.3 L957.0 1216.8 L958.0 1216.5 L959.0 1215.6 L960.0 1214.6 L961.0 1213.8 L962.0 1212.0 L963.0 1210.9 L964.0 1208.3 L965.0 1203.9 L966.0 1200.2 L967.0 1194.4 L968.0 1186.9 L969.0 1178.2 L970.0 1168.8 L971.0 1160.6 L972.0 1155.6 L973.0 1159.2 L974.0 1165.8 L975.0 1176.5 L976.0 1185.5 L977.0 1192.8 L978.0 1199.1 L979.0 1203.8 L980.0 1207.9 L981.0 1209.8 L982.0 1211.8 L983.0 1213.6 L984.0 1215.2 L985.0 1215.2 L986.0 1216.3 L987.0 1216.5 L988.0 1217.6 L989.0 1217.2 L990.0 1218.1 L991.0 1218.4 L992.0 1218.4 L993.0 1219.2 L994.0 1219.6 L995.0 1219.1 L996.0 1219.4 L997.0 1219.5 L998.0 1219.9 L999.0 1219.9 L1000.0 1219.7 L1001.0 1219.8 L1002.0 1219.6 L1003.0 1219.8 L1004.0 1220.0 L1005.0 1220.7 L1006.0 1220.4 L1007.0 1219.4 L1008.0 1220.0 L1009.0 1220.7 L1010.0 1220.7 L1011.0 1219.7 L1012.0 1220.3 L1013.0 1220.9 L1014.0 1220.1 L1015.0 1220.3 L1016.0 1220.5 L1017.0 1220.1 L1018.0 1220.9 L1019.0 1220.6 L1020.0 1220.6 L1021.0 1220.3 L1022.0 1220.9 L1023.0 1220.4 L1024.0 1220.3 L1025.0 1220.5 L1026.0 1220.1 L1027.0 1220.4 L1028.0 1221.5 L1029.0 1220.3 L1030.0 1220.3 L1031.0 1220.6 L1032.0 1220.7 L1033.0 1220.8 L1034.0 1220.7 L1035.0 1220.0 L1036.0 1220.5 L1037.0 1219.8 L1038.0 1220.9 L1039.0 1220.8 L1040.0 1221.0 L1041.0 1220.1 L1042.0 1219.9 L1043.0 1220.7 L1044.0 1220.3 L1045.0 1220.2 L1046.0 1220.3 L1047.0 1220.1 L1048.0 1220.0 L1049.0 1220.8 L1050.0 1220.7 L1051.0 1220.9 L1052.0 1220.7 L1053.0 1220.6 L1054.0 1220.8 L1055.0 1220.5 L1056.0 1220.6 L1057.0 1220.5 L1058.0 1219.7 L1059.0 1220.7 L1060.0 1221.2 L1061.0 1221.1 L1062.0 1220.4 L1063.0 1220.6 L1064.0 1220.6 L1065.0 1221.1 L1066.0 1221.1 L1067.0 1220.1 L1068.0 1220.1 L1069.0 1220.2 L1070.0 1220.1 L1071.0 1220.9 L1072.0 1219.6 L1073.0 1219.8 L1074.0 1219.7 L1075.0 1219.9 L1076.0 1220.4 L1077.0 1219.7 L1078.0 1220.4 L1079.0 1220.6 L1080.0 1220.0 L1081.0 1220.3 L1082.0 1219.7 L1083.0 1219.9 L1084.0 1219.5 L1085.0 1220.0 L1086.0 1219.6 L1087.0 1219.6 L1088.0 1219.5 L1089.0 1219.4 L1090.0 1218.5 L1091.0 1218.7 L1092.0 1218.1 L1093.0 1218.0 L1094.0 1217.8 L1095.0 1217.7 L1096.0 1217.0 L1097.0 1216.3 L1098.0 1216.2 L1099.0 1215.1 L1100.0 1213.0 L1101.0 1212.5 L1102.0 1210.2 L1103.0 1208.0 L1104.0 1204.7 L1105.0 1200.6 L1106.0 1194.5 L1107.0 1188.9 L1108.0 1182.5 L1109.0 1178.1 L1110.0 1177.0 L1111.0 1180.6 L1112.0 1186.0 L1113.0 1190.6 L1114.0 1195.6 L1115.0 1198.4 L1116.0 1200.4 L1117.0 1200.5 L1118.0 1199.8 L1119.0 1197.0 L1120.0 1194.2 L1121.0 1190.6 L1122.0 1186.5 L1123.0 1184.0 L1124.0 1184.5 L1125.0 1189.1 L1126.0 1193.6 L1127.0 1199.0 L1128.0 1203.9 L1129.0 1206.2 L1130.0 1209.7 L1131.0 1211.9 L1132.0 1213.8 L1133.0 1214.9 L1134.0 1216.3 L1135.0 1216.5 L1136.0 1217.2 L1137.0 1216.6 L1138.0 1217.7 L1139.0 1217.9 L1140.0 1218.3 L1141.0 1218.9 L1142.0 1218.3 L1143.0 1218.0 L1144.0 1219.8 L1145.0 1219.1 L1146.0 1219.2 L1147.0 1220.0 L1148.0 1219.8 L1149.0 1219.7 L1150.0 1219.8 L1151.0 1220.0 L1152.0 1219.4 L1153.0 1219.9 L1154.0 1220.6 L1155.0 1220.1 L1156.0 1220.1 L1157.0 1220.7 L1158.0 1220.1 L1159.0 1220.6 L1160.0 1220.2 L1161.0 1220.0 L1162.0 1220.2 L1163.0 1220.2 L1164.0 1219.6 L1165.0 1220.8 L1166.0 1220.3 L1167.0 1220.9 L1168.0 1219.8 L1169.0 1219.9 L1170.0 1219.5 L1171.0 1219.9 L1172.0 1220.1 L1173.0 1220.6 L1174.0 1219.5 L1175.0 1219.5 L1176.0 1219.8 L1177.0 1219.5 L1178.0 1218.8 L1179.0 1218.7 L1180.0 1218.3 L1181.0 1218.7 L1182.0 1217.8 L1183.0 1217.6 L1184.0 1218.0 L1185.0 1217.3 L1186.0 1218.1 L1187.0 1217.4 L1188.0 1217.9 L1189.0 1218.9 L1190.0 1218.9 L1191.0 1218.5 L1192.0 1218.6 L1193.0 1218.5 L1194.0 1219.4 L1195.0 1219.2 L1196.0 1219.5 L1197.0 1219.3 L1198.0 1220.4 L1199.0 1219.8 L1200.0 1218.8 L1201.0 1219.4 L1202.0 1218.8 L1203.0 1219.2 L1204.0 1219.0 L1205.0 1219.1 L1206.0 1218.7 L1207.0 1217.9 L1208.0 1218.8 L1209.0 1217.7 L1210.0 1217.8 L1211.0 1217.6 L1212.0 1217.7 L1213.0 1216.9 L1214.0 1216.9 L1215.0 1216.5 L1216.0 1216.6 L1217.0 1215.0 L1218.0 1214.5 L1219.0 1213.6 L1220.0 1212.0 L1221.0 1210.3 L1222.0 1208.3 L1223.0 1204.5 L1224.0 1199.5 L1225.0 1195.1 L1226.0 1188.5 L1227.0 1180.4 L1228.0 1171.7 L1229.0 1164.4 L1230.0 1160.2 L1231.0 1161.6 L1232.0 1167.7 L1233.0 1176.0 L1234.0 1185.3 L1235.0 1192.0 L1236.0 1197.8 L1237.0 1203.2 L1238.0 1205.5 L1239.0 1208.9 L1240.0 1210.0 L1241.0 1211.6 L1242.0 1212.6 L1243.0 1213.6 L1244.0 1213.9 L1245.0 1214.7 L1246.0 1214.4 L1247.0 1215.4 L1248.0 1214.6 L1249.0 1213.9 L1250.0 1213.9 L1251.0 1213.4 L1252.0 1213.1 L1253.0 1211.5 L1254.0 1211.0 L1255.0 1208.2 L1256.0 1205.7 L1257.0 1202.8 L1258.0 1197.3 L1259.0 1194.0 L1260.0 1188.0 L1261.0 1184.2 L1262.0 1184.8 L1263.0 1186.6 L1264.0 1190.3 L1265.0 1196.1 L1266.0 1201.0 L1267.0 1204.6 L1268.0 1207.1 L1269.0 1208.5 L1270.0 1210.1 L1271.0 1211.5 L1272.0 1211.8 L1273.0 1211.6 L1274.0 1212.1 L1275.0 1210.7 L1276.0 1211.3 L1277.0 1209.6 L1278.0 1209.3 L1279.0 1209.0 L1280.0 1209.3 L1281.0 1209.7 L1282.0 1209.3 L1283.0 1210.4 L1284.0 1211.5 L1285.0 1212.8 L1286.0 1213.5 L1287.0 1214.3 L1288.0 1216.0 L1289.0 1216.4 L1290.0 1216.7 L1291.0 1217.5 L1292.0 1217.5 L1293.0 1217.3 L1294.0 1217.4 L1295.0 1218.6 L1296.0 1218.5 L1297.0 1218.7 L1298.0 1218.4 L1299.0 1219.0 L1300.0 1219.1 L1301.0 1219.6 L1302.0 1219.6 L1303.0 1218.9 L1304.0 1219.9 L1305.0 1219.6 L1306.0 1219.9 L1307.0 1219.2 L1308.0 1219.7 L1309.0 1218.7 L1310.0 1219.7 L1311.0 1218.9 L1312.0 1219.4 L1313.0 1218.9 L1314.0 1219.1 L1315.0 1219.0 L1316.0 1218.4 L1317.0 1218.9 L1318.0 1219.1 L1319.0 1218.6 L1320.0 1218.9 L1321.0 1219.1 L1322.0 1218.1 L1323.0 1218.3 L1324.0 1217.5 L1325.0 1216.6 L1326.0 1216.9 L1327.0 1215.5 L1328.0 1215.2 L1329.0 1215.1 L1330.0 1212.6 L1331.0 1210.7 L1332.0 1208.8 L1333.0 1206.3 L1334.0 1202.9 L1335.0 1198.3 L1336.0 1194.2 L1337.0 1191.4 L1338.0 1189.6 L1339.0 1190.5 L1340.0 1191.7 L1341.0 1194.8 L1342.0 1196.1 L1343.0 1197.0 L1344.0 1196.9 L1345.0 1197.7 L1346.0 1198.1 L1347.0 1199.1 L1348.0 1199.3 L1349.0 1199.3 L1350.0 1199.5 L1351.0 1200.7 L1352.0 1200.5 L1353.0 1202.5 L1354.0 1203.4 L1355.0 1204.9 L1356.0 1206.8 L1357.0 1209.5 L1358.0 1210.7 L1359.0 1212.3 L1360.0 1212.8 L1361.0 1214.7 L1362.0 1215.1 L1363.0 1215.3 L1364.0 1216.7 L1365.0 1217.2 L1366.0 1217.2 L1367.0 1219.1 L1368.0 1217.8 L1369.0 1218.1 L1370.0 1218.8 L1371.0 1219.0 L1372.0 1219.1 L1373.0 1219.0 L1374.0 1219.8 L1375.0 1219.0 L1376.0 1218.7 L1377.0 1219.1 L1378.0 1219.5 L1379.0 1219.7 L1380.0 1220.5 L1381.0 1219.7 L1382.0 1219.6 L1383.0 1219.6 L1384.0 1219.5 L1385.0 1220.1 L1386.0 1219.4 L1387.0 1220.4 L1388.0 1219.5 L1389.0 1219.6 L1390.0 1219.9 L1391.0 1219.2 L1392.0 1219.9 L1393.0 1219.8 L1394.0 1220.3 L1395.0 1220.1 L1396.0 1218.8 L1397.0 1219.8 L1398.0 1219.2 L1399.0 1219.2 L1400.0 1219.2 L1401.0 1220.2 L1402.0 1219.1 L1403.0 1219.1 L1404.0 1219.3 L1405.0 1219.5 L1406.0 1218.3 L1407.0 1218.2 L1408.0 1217.9 L1409.0 1217.5 L1410.0 1216.9 L1411.0 1216.0 L1412.0 1215.7 L1413.0 1214.9 L1414.0 1214.2 L1415.0 1213.7 L1416.0 1213.3 L1417.0 1212.7 L1418.0 1212.6 L1419.0 1213.1 L1420.0 1213.3 L1421.0 1213.1 L1422.0 1213.4 L1423.0 1215.7 L1424.0 1215.3 L1425.0 1216.7 L1426.0 1216.6 L1427.0 1217.8 L1428.0 1217.7 L1429.0 1217.9 L1430.0 1218.1 L1431.0 1218.5 L1432.0 1218.5 L1433.0 1219.2 L1434.0 1219.2 L1435.0 1219.6 L1436.0 1219.7 L1437.0 1219.2 L1438.0 1219.8 L1439.0 1219.8 L1440.0 1220.2 L1441.0 1220.5 L1442.0 1219.7 L1443.0 1219.1 L1444.0 1219.9 L1445.0 1220.0 L1446.0 1219.6 L1447.0 1220.2 L1448.0 1219.9 L1449.0 1220.3 L1450.0 1219.6 L1451.0 1220.2 L1452.0 1220.0 L1453.0 1220.0 L1454.0 1220.4 L1455.0 1219.8 L1456.0 1219.8 L1457.0 1220.3 L1458.0 1219.4 L1459.0 1220.2 L1460.0 1219.6 L1461.0 1219.0 L1462.0 1220.4 L1463.0 1220.4 L1464.0 1219.7 L1465.0 1219.2 L1466.0 1218.9 L1467.0 1219.6 L1468.0 1220.0 L1469.0 1218.7 L1470.0 1219.2 L1471.0 1219.7 L1472.0 1219.2 L1473.0 1218.7 L1474.0 1219.4 L1475.0 1217.8 L1476.0 1218.3 L1477.0 1218.2 L1478.0 1216.9 L1479.0 1216.8 L1480.0 1216.3 L1481.0 1216.9 L1482.0 1215.0 L1483.0 1214.0 L1484.0 1212.7 L1485.0 1212.6 L1486.0 1210.9 L1487.0 1208.1 L1488.0 1206.3 L1489.0 1205.0 L1490.0 1203.2 L1491.0 1202.1 L1492.0 1200.9 L1493.0 1200.3 L1494.0 1201.2 L1495.0 1201.0 L1496.0 1202.7 L1497.0 1201.9 L1498.0 1201.9 L1499.0 1201.7 L1500.0 1201.0 L1501.0 1201.1 L1502.0 1200.6 L1503.0 1201.5 L1504.0 1202.7 L1505.0 1203.9 L1506.0 1204.6 L1507.0 1207.7 L1508.0 1208.9 L1509.0 1211.2 L1510.0 1212.3 L1511.0 1213.4 L1512.0 1214.6 L1513.0 1215.0 L1514.0 1216.0 L1515.0 1216.4 L1516.0 1217.3 L1517.0 1217.8 L1518.0 1217.4 L1519.0 1217.8 L1520.0 1217.9 L1521.0 1219.1 L1522.0 1218.2 L1523.0 1218.6 L1524.0 1218.6 L1525.0 1218.4 L1526.0 1219.0 L1527.0 1218.7 L1528.0 1219.1 L1529.0 1218.3 L1530.0 1218.7 L1531.0 1219.3 L1532.0 1218.7 L1533.0 1218.3 L1534.0 1218.6 L1535.0 1217.7 L1536.0 1218.5 L1537.0 1218.5 L1538.0 1218.7 L1539.0 1218.8 L1540.0 1219.0 L1541.0 1218.5 L1542.0 1218.6 L1543.0 1218.4 L1544.0 1219.0 L1545.0 1218.0 L1546.0 1218.5 L1547.0 1218.1 L1548.0 1218.3 L1549.0 1218.8 L1550.0 1217.4 L1551.0 1217.6 L1552.0 1217.3 L1553.0 1215.7 L1554.0 1215.5 L1555.0 1214.9 L1556.0 1213.7 L1557.0 1213.0 L1558.0 1212.2 L1559.0 1211.7 L1560.0 1210.9 L1561.0 1211.3 L1562.0 1211.1 L1563.0 1211.3 L1564.0 1212.1 L1565.0 1212.1 L1566.0 1213.0 L1567.0 1213.9 L1568.0 1215.3 L1569.0 1216.6 L1570.0 1216.5 L1571.0 1216.8 L1572.0 1217.3 L1573.0 1218.2 L1574.0 1217.9 L1575.0 1218.4 L1576.0 1219.2 L1577.0 1219.6 L1578.0 1219.4 L1579.0 1219.5 L1580.0 1219.5 L1581.0 1219.9 L1582.0 1218.7 L1583.0 1219.9 L1584.0 1220.0 L1585.0 1219.8 L1586.0 1219.9 L1587.0 1220.2 L1588.0 1219.8 L1589.0 1220.3 L1590.0 1219.7 L1591.0 1220.1 L1592.0 1220.3 L1593.0 1219.5 L1594.0 1220.2 L1595.0 1219.8 L1596.0 1219.6 L1597.0 1219.9 L1598.0 1219.4 L1599.0 1218.8 L1600.0 1219.3 L1601.0 1219.4 L1602.0 1218.9 L1603.0 1219.1 L1604.0 1219.2 L1605.0 1219.3 L1606.0 1219.4 L1607.0 1220.1 L1608.0 1220.4 L1609.0 1219.6 L1610.0 1220.2 L1611.0 1220.2 L1612.0 1220.7 L1613.0 1220.8 L1614.0 1220.6 L1615.0 1221.0 L1616.0 1220.9 L1617.0 1220.8 L1618.0 1220.8 L1619.0 1221.0 L1620.0 1220.4 L1621.0 1220.2 L1622.0 1220.9 L1623.0 1221.0 L1624.0 1221.2 L1625.0 1220.6 L1626.0 1220.1 L1627.0 1220.7 L1628.0 1221.1 L1629.0 1220.2 L1630.0 1220.3 L1631.0 1220.1 L1632.0 1219.7 L1633.0 1220.6 L1634.0 1219.8 L1635.0 1220.4 L1636.0 1219.5 L1637.0 1218.8 L1638.0 1218.9 L1639.0 1218.7 L1640.0 1218.8 L1641.0 1218.9 L1642.0 1219.0 L1643.0 1219.9 L1644.0 1218.6 L1645.0 1219.3 L1646.0 1219.9 L1647.0 1220.3 L1648.0 1220.2 L1649.0 1220.3 L1650.0 1220.6 L1651.0 1220.4 L1652.0 1220.4 L1653.0 1220.7 L1654.0 1220.1 L1655.0 1220.7 L1656.0 1220.4 L1657.0 1220.8 L1658.0 1220.7 L1659.0 1221.2 L1660.0 1221.0 L1661.0 1220.9 L1662.0 1220.5 L1663.0 1221.0 L1664.0 1220.0 L1665.0 1221.2 L1666.0 1221.2 L1667.0 1220.9 L1668.0 1221.1 L1669.0 1220.3 L1670.0 1220.7 L1671.0 1220.5 L1672.0 1221.1 L1673.0 1221.1 L1674.0 1221.5 L1675.0 1220.5 L1676.0 1220.5 L1677.0 1221.0 L1678.0 1220.6 L1679.0 1220.6 L1680.0 1221.1 L1681.0 1220.8 L1682.0 1220.6 L1683.0 1221.2 L1684.0 1220.7 L1685.0 1220.2 L1686.0 1220.7 L1687.0 1220.7 L1688.0 1220.5 L1689.0 1221.1 L1690.0 1220.8 L1691.0 1220.9 L1692.0 1221.0 L1693.0 1220.5 L1694.0 1220.5 L1695.0 1220.6 L1696.0 1220.3 L1697.0 1221.0 L1698.0 1220.0 L1699.0 1219.8 L1700.0 1220.4 L1701.0 1220.0 L1702.0 1219.4 L1703.0 1220.0 L1704.0 1219.8 L1705.0 1218.9 L1706.0 1218.5 L1707.0 1218.8 L1708.0 1218.3 L1709.0 1217.8 L1710.0 1216.8 L1711.0 1216.5 L1712.0 1216.1 L1713.0 1215.1 L1714.0 1214.6 L1715.0 1214.5 L1716.0 1214.3 L1717.0 1214.5 L1718.0 1215.2 L1719.0 1216.1 L1720.0 1216.6 L1721.0 1217.4 L1722.0 1217.6 L1723.0 1218.2 L1724.0 1218.2 L1725.0 1219.4 L1726.0 1219.5 L1727.0 1219.2 L1728.0 1220.0 L1729.0 1219.7 L1730.0 1220.3 L1731.0 1221.0 L1732.0 1220.4 L1733.0 1220.1 L1734.0 1220.3 L1735.0 1220.6 L1736.0 1220.4 L1737.0 1220.9 L1738.0 1220.0 L1739.0 1221.2 L1740.0 1220.7 L1741.0 1220.7 L1742.0 1221.2 L1743.0 1221.1 L1744.0 1220.1 L1745.0 1220.3 L1746.0 1221.2 L1747.0 1220.7 L1748.0 1220.5 L1749.0 1221.2 L1750.0 1220.8 L1751.0 1221.0 L1752.0 1220.6 L1753.0 1220.7 L1754.0 1220.8 L1755.0 1221.0 L1756.0 1221.3 L1757.0 1220.3 L1758.0 1220.6 L1759.0 1220.6 L1760.0 1220.9 L1761.0 1220.6 L1762.0 1220.9 L1763.0 1221.3 L1764.0 1220.9 L1765.0 1221.3 L1766.0 1220.9 L1767.0 1220.2 L1768.0 1220.9 L1769.0 1221.0 L1770.0 1220.6 L1771.0 1220.8 L1772.0 1221.3 L1773.0 1221.0 L1774.0 1220.4 L1775.0 1220.3 L1776.0 1221.0 L1777.0 1221.0 L1778.0 1220.3 L1779.0 1220.6 L1780.0 1220.6 L1781.0 1220.9 L1782.0 1220.8 L1783.0 1221.3 L1784.0 1220.1 L1785.0 1219.5 L1786.0 1220.0 L1787.0 1220.2 L1788.0 1219.2 L1789.0 1219.0 L1790.0 1219.2 L1791.0 1218.8 L1792.0 1219.0 L1793.0 1218.0 L1794.0 1218.9 L1795.0 1218.1 L1796.0 1218.1 L1797.0 1217.4 L1798.0 1218.3 L1799.0 1219.2 L1800.0 1218.7 L1801.0 1219.8 L1802.0 1219.7 L1803.0 1220.1 L1804.0 1220.0 L1805.0 1220.4 L1806.0 1219.5 L1807.0 1220.3 L1808.0 1220.2 L1809.0 1220.5 L1810.0 1220.4 L1811.0 1220.1 L1812.0 1220.8 L1813.0 1220.8 L1814.0 1220.7 L1815.0 1221.1 L1816.0 1220.6 L1817.0 1221.1 L1818.0 1221.1 L1819.0 1220.5 L1820.0 1221.1 L1821.0 1220.7 L1822.0 1221.0 L1823.0 1220.7 L1824.0 1221.4 L1825.0 1221.0 L1826.0 1219.9 L1827.0 1220.5 L1828.0 1220.4 L1829.0 1220.8 L1830.0 1221.1 L1831.0 1220.9 L1832.0 1220.2 L1833.0 1220.1 L1834.0 1220.9 L1835.0 1220.7 L1836.0 1221.2 L1837.0 1221.0 L1838.0 1220.9 L1839.0 1221.3 L1840.0 1220.9 L1841.0 1221.1 L1842.0 1220.6 L1843.0 1220.9 L1844.0 1221.4 L1845.0 1220.3 L1846.0 1220.3 L1847.0 1220.5 L1848.0 1221.1 L1849.0 1220.7 L1850.0 1220.4 L1851.0 1220.9 L1852.0 1220.6 L1853.0 1220.6 L1854.0 1220.0 L1855.0 1219.8 L1856.0 1220.6 L1857.0 1220.2 L1858.0 1220.6 L1859.0 1221.1 L1860.0 1220.6 L1861.0 1219.7 L1862.0 1220.2 L1863.0 1219.8 L1864.0 1220.0 L1865.0 1220.1 L1866.0 1219.5 L1867.0 1219.6 L1868.0 1219.3 L1869.0 1219.1 L1870.0 1218.9 L1871.0 1218.2 L1872.0 1218.2 L1873.0 1217.6 L1874.0 1216.1 L1875.0 1215.5 L1876.0 1214.5 L1877.0 1212.7 L1878.0 1211.9 L1879.0 1211.6 L1880.0 1210.5 L1881.0 1210.0 L1882.0 1210.1 L1883.0 1210.9 L1884.0 1210.7 L1885.0 1212.3 L1886.0 1212.1 L1887.0 1212.5 L1888.0 1212.6 L1889.0 1213.3 L1890.0 1212.9 L1891.0 1213.3 L1892.0 1213.0 L1893.0 1213.7 L1894.0 1213.7 L1895.0 1212.8 L1896.0 1212.5 L1897.0 1212.6 L1898.0 1213.5 L1899.0 1213.0 L1900.0 1213.6 L1901.0 1214.4 L1902.0 1215.6 L1903.0 1215.6 L1904.0 1216.0 L1905.0 1216.8 L1906.0 1216.3 L1907.0 1216.8 L1908.0 1217.9 L1909.0 1218.1 L1910.0 1218.0 L1911.0 1218.0 L1912.0 1217.7 L1913.0 1217.6 L1914.0 1218.3 L1915.0 1217.1 L1916.0 1217.7 L1917.0 1217.0 L1918.0 1216.3 L1919.0 1216.9 L1920.0 1216.4 L1921.0 1216.9 L1922.0 1217.0 L1923.0 1218.0 L1924.0 1217.2 L1925.0 1217.0 L1926.0 1218.3 L1927.0 1218.7 L1928.0 1218.7 L1929.0 1218.7 L1930.0 1219.4 L1931.0 1219.7 L1932.0 1219.5 L1933.0 1220.1 L1934.0 1220.0 L1935.0 1220.0 L1936.0 1219.7 L1937.0 1220.0 L1938.0 1220.5 L1939.0 1220.8 L1940.0 1220.8 L1941.0 1220.4 L1942.0 1220.4 L1943.0 1220.2 L1944.0 1220.3 L1945.0 1220.4 L1946.0 1221.0 L1947.0 1221.1 L1948.0 1220.8 L1949.0 1220.9 L1950.0 1220.3 L1951.0 1220.6 L1952.0 1220.9 L1953.0 1220.7 L1954.0 1220.9 L1955.0 1220.2 L1956.0 1221.2 L1957.0 1220.5 L1958.0 1220.4 L1959.0 1220.7 L1960.0 1219.2 L1961.0 1220.5 L1962.0 1221.3 L1963.0 1220.3 L1964.0 1220.8 L1965.0 1219.8 L1966.0 1219.8 L1967.0 1219.7 L1968.0 1220.7 L1969.0 1219.4 L1970.0 1220.0 L1971.0 1219.4 L1972.0 1219.8 L1973.0 1218.9 L1974.0 1218.7 L1975.0 1218.7 L1976.0 1217.5 L1977.0 1216.9 L1978.0 1218.0 L1979.0 1216.8 L1980.0 1216.5 L1981.0 1216.1 L1982.0 1216.1 L1983.0 1216.2 L1984.0 1216.7 L1985.0 1216.5 L1986.0 1216.5 L1987.0 1217.7 L1988.0 1219.0 L1989.0 1218.6 L1990.0 1218.5 L1991.0 1220.0 L1992.0 1220.1 L1993.0 1219.7 L1994.0 1220.4 L1995.0 1220.4 L1996.0 1219.9 L1997.0 1220.9 L1998.0 1220.8 L1999.0 1220.8 L2000.0 1221.1 L2001.0 1220.0 L2002.0 1220.7 L2003.0 1221.4 L2004.0 1221.3 L2005.0 1220.3 L2006.0 1221.1 L2007.0 1220.7 L2008.0 1221.1 L2009.0 1220.7 L2010.0 1221.5 L2011.0 1221.8 L2012.0 1221.4 L2013.0 1221.4 L2014.0 1221.1 L2015.0 1221.0 L2016.0 1221.6 L2017.0 1221.4 L2018.0 1221.2 L2019.0 1220.8 L2020.0 1220.7 L2021.0 1221.4 L2022.0 1221.4 L2023.0 1221.1 L2024.0 1221.2 L2025.0 1220.6 L2026.0 1220.9 L2027.0 1220.8 L2028.0 1221.3 L2029.0 1221.1 L2030.0 1221.1 L2031.0 1220.9 L2032.0 1221.2 L2033.0 1220.5 L2034.0 1221.8 L2035.0 1221.2 L2036.0 1221.3 L2037.0 1221.3 L2038.0 1220.8 L2039.0 1221.7 L2040.0 1221.2 L2041.0 1221.1 L2042.0 1221.6 L2043.0 1220.8 L2044.0 1221.4 L2045.0 1221.8 L2046.0 1221.0 L2047.0 1221.3 L2048.0 1220.7 L2049.0 1221.3 L2050.0 1221.3 L2051.0 1220.6 L2052.0 1221.8 L2053.0 1222.0 L2054.0 1220.5 L2055.0 1221.3 L2056.0 1221.0 L2057.0 1221.1 L2058.0 1221.3 L2059.0 1221.2 L2060.0 1221.1 L2061.0 1221.3 L2062.0 1221.0 L2063.0 1221.2 L2064.0 1220.9 L2065.0 1221.5 L2066.0 1221.9 L2067.0 1221.1 L2068.0 1221.0 L2069.0 1221.6 L2070.0 1220.3 L2071.0 1221.0 L2072.0 1220.6 L2073.0 1220.8 L2074.0 1220.6 L2075.0 1220.9 L2076.0 1221.5 L2077.0 1220.7 L2078.0 1220.9 L2079.0 1221.3 L2080.0 1221.1 L2081.0 1221.1 L2082.0 1220.7 L2083.0 1220.5 L2084.0 1220.5 L2085.0 1220.4 L2086.0 1220.0 L2087.0 1219.4 L2088.0 1220.0 L2089.0 1220.1 L2090.0 1219.5 L2091.0 1219.9 L2092.0 1219.6 L2093.0 1218.9 L2094.0 1218.4 L2095.0 1218.4 L2096.0 1217.8 L2097.0 1217.8 L2098.0 1217.6 L2099.0 1217.8 L2100.0 1218.5 L2101.0 1218.4 L2102.0 1219.1 L2103.0 1219.2 L2104.0 1219.5 L2105.0 1219.9 L2106.0 1219.1 L2107.0 1220.0 L2108.0 1220.4 L2109.0 1221.0 L2110.0 1220.7 L2111.0 1221.6 L2112.0 1221.2 L2113.0 1220.8 L2114.0 1220.3 L2115.0 1220.7 L2116.0 1220.8 L2117.0 1220.9 L2118.0 1221.1 L2119.0 1220.4 L2120.0 1221.1 L2121.0 1220.9 L2122.0 1220.7 L2123.0 1220.5 L2124.0 1221.1 L2125.0 1220.8 L2126.0 1220.1 L2127.0 1221.0 L2128.0 1220.9 L2129.0 1220.4 L2130.0 1221.2 L2131.0 1220.9 L2132.0 1221.1 L2133.0 1220.5 L2134.0 1220.7 L2135.0 1221.1 L2136.0 1221.2 L2137.0 1220.6 L2138.0 1219.9 L2139.0 1220.9 L2140.0 1220.7 L2141.0 1221.3 L2142.0 1220.3 L2143.0 1220.8 L2144.0 1220.0 L2145.0 1220.6 L2146.0 1220.3 L2147.0 1220.4 L2148.0 1220.1 L2149.0 1219.9 L2150.0 1220.3 L2151.0 1219.9 L2152.0 1219.2 L2153.0 1218.5 L2154.0 1218.3 L2155.0 1218.7 L2156.0 1218.1 L2157.0 1217.6 L2158.0 1217.6 L2159.0 1218.5 L2160.0 1218.3 L2161.0 1218.2 L2162.0 1219.4 L2163.0 1219.3 L2164.0 1218.9 L2165.0 1219.2 L2166.0 1219.9 L2167.0 1219.7 L2168.0 1220.0 L2169.0 1220.9 L2170.0 1221.1 L2171.0 1221.1 L2172.0 1220.6 L2173.0 1220.5 L2174.0 1220.0 L2175.0 1220.0 L2176.0 1220.4 L2177.0 1220.4 L2178.0 1220.6 L2179.0 1220.5 L2180.0 1220.2 L2181.0 1220.2 L2182.0 1219.8 L2183.0 1220.0 L2184.0 1218.9 L2185.0 1219.9 L2186.0 1219.1 L2187.0 1218.2 L2188.0 1218.7 L2189.0 1219.3 L2190.0 1218.5 L2191.0 1219.1 L2192.0 1219.1 L2193.0 1219.9 L2194.0 1219.7 L2195.0 1219.5 L2196.0 1220.1 L2197.0 1220.3 L2198.0 1220.3 L2199.0 1220.1 L2200.0 1219.9 L2201.0 1220.5 L2202.0 1219.9 L2203.0 1220.3 L2204.0 1220.6 L2205.0 1221.0 L2206.0 1220.9 L2207.0 1219.9 L2208.0 1220.9 L2209.0 1219.8 L2210.0 1220.6 L2211.0 1220.5 L2212.0 1220.7 L2213.0 1220.3 L2214.0 1220.5 L2215.0 1219.7 L2216.0 1219.7 L2217.0 1219.9 L2218.0 1219.2 L2219.0 1218.9 L2220.0 1218.9 L2221.0 1218.2 L2222.0 1218.6 L2223.0 1218.3 L2224.0 1219.3 L2225.0 1219.4 L2226.0 1219.4 L2227.0 1220.2 L2228.0 1219.6 L2229.0 1219.6 L2230.0 1220.1 L2231.0 1220.2 L2232.0 1220.1 L2233.0 1220.5 L2234.0 1220.0 L2235.0 1220.1 L2236.0 1220.6 L2237.0 1220.1 L2238.0 1221.0 L2239.0 1220.8 L2240.0 1220.4 L2241.0 1221.1 L2242.0 1220.7 L2243.0 1221.3 L2244.0 1220.6 L2245.0 1220.4 L2246.0 1220.8 L2247.0 1220.2 L2248.0 1221.0 L2249.0 1220.7 L2250.0 1219.3 L2251.0 1220.5 L2252.0 1220.5 L2253.0 1219.9 L2254.0 1220.2 L2255.0 1220.1 L2256.0 1219.4 L2257.0 1220.2 L2258.0 1220.0 L2259.0 1219.6 L2260.0 1219.6 L2261.0 1219.6 L2262.0 1219.8 L2263.0 1219.4 L2264.0 1218.9 L2265.0 1218.6 L2266.0 1218.2 L2267.0 1218.4 L2268.0 1217.7 L2269.0 1216.9 L2270.0 1217.1 L2271.0 1216.2 L2272.0 1214.9 L2273.0 1214.7 L2274.0 1213.8 L2275.0 1213.0 L2276.0 1212.4 L2277.0 1211.4 L2278.0 1210.8 L2279.0 1210.3 L2280.0 1210.8 L2281.0 1210.7 L2282.0 1210.2 L2283.0 1211.1 L2284.0 1211.3 L2285.0 1211.4 L2286.0 1211.3 L2287.0 1211.7 L2288.0 1211.3 L2289.0 1211.1 L2290.0 1212.5 L2291.0 1211.9 L2292.0 1213.1 L2293.0 1214.3 L2294.0 1214.1 L2295.0 1215.5 L2296.0 1215.6 L2297.0 1216.2 L2298.0 1216.2 L2299.0 1217.7 L2300.0 1217.6 L2301.0 1218.6 L2302.0 1218.3 L2303.0 1219.0 L2304.0 1219.3 L2305.0 1219.9 L2306.0 1219.9 L2307.0 1219.3 L2308.0 1220.3 L2309.0 1220.0 L2310.0 1219.9 L2311.0 1220.1 L2312.0 1220.7 L2313.0 1219.8 L2314.0 1220.3 L2315.0 1220.1 L2316.0 1220.6 L2317.0 1220.6 L2318.0 1220.3 L2319.0 1220.7 L2320.0 1220.7 L2321.0 1220.7 L2322.0 1220.9 L2323.0 1221.3 L2324.0 1220.9 L2325.0 1221.0 L2326.0 1221.2 L2327.0 1220.9 L2328.0 1220.9 L2329.0 1220.8 L2330.0 1220.8 L2331.0 1220.8 L2332.0 1221.1 L2333.0 1220.2 L2334.0 1220.9 L2335.0 1221.2 L2336.0 1221.5 L2337.0 1221.7 L2338.0 1220.6 L2339.0 1220.9 L2340.0 1221.1 L2341.0 1221.2 L2342.0 1221.2 L2343.0 1221.2 L2344.0 1221.2" fill="none" stroke="#4D4D4D" stroke-width="10.8" stroke-linejoin="round" stroke-linecap="butt"/>
<path d="M198.0 1031.2 L199.0 1031.2 L200.0 1031.2 L201.0 1031.2 L202.0 1031.0 L203.0 1031.0 L204.0 1030.7 L205.0 1031.3 L206.0 1031.1 L207.0 1030.9 L208.0 1031.8 L209.0 1031.2 L210.0 1031.1 L211.0 1030.9 L212.0 1031.5 L213.0 1031.2 L214.0 1030.8 L215.0 1031.1 L216.0 1031.4 L217.0 1031.2 L218.0 1031.6 L219.0 1031.5 L220.0 1032.0 L221.0 1030.9 L222.0 1031.1 L223.0 1031.1 L224.0 1031.1 L225.0 1031.2 L226.0 1031.0 L227.0 1031.5 L228.0 1030.7 L229.0 1031.2 L230.0 1031.4 L231.0 1031.5 L232.0 1031.1 L233.0 1031.3 L234.0 1031.2 L235.0 1031.3 L236.0 1031.1 L237.0 1031.4 L238.0 1031.6 L239.0 1031.9 L240.0 1031.0 L241.0 1031.4 L242.0 1031.2 L243.0 1031.3 L244.0 1031.0 L245.0 1031.2 L246.0 1031.3 L247.0 1031.1 L248.0 1031.0 L249.0 1031.6 L250.0 1031.2 L251.0 1031.0 L252.0 1031.1 L253.0 1031.0 L254.0 1030.8 L255.0 1031.3 L256.0 1031.0 L257.0 1030.6 L258.0 1031.5 L259.0 1031.0 L260.0 1030.6 L261.0 1031.1 L262.0 1030.8 L263.0 1031.2 L264.0 1030.6 L265.0 1030.9 L266.0 1030.5 L267.0 1030.6 L268.0 1031.1 L269.0 1030.9 L270.0 1031.6 L271.0 1030.8 L272.0 1031.1 L273.0 1030.6 L274.0 1031.6 L275.0 1031.1 L276.0 1030.5 L277.0 1031.1 L278.0 1030.9 L279.0 1031.9 L280.0 1031.5 L281.0 1030.7 L282.0 1031.3 L283.0 1031.2 L284.0 1030.9 L285.0 1030.9 L286.0 1030.9 L287.0 1030.7 L288.0 1031.1 L289.0 1030.8 L290.0 1031.0 L291.0 1030.9 L292.0 1030.7 L293.0 1031.7 L294.0 1031.1 L295.0 1031.2 L296.0 1032.0 L297.0 1031.0 L298.0 1030.7 L299.0 1030.3 L300.0 1030.4 L301.0 1031.2 L302.0 1030.4 L303.0 1030.1 L304.0 1030.9 L305.0 1030.9 L306.0 1031.5 L307.0 1030.3 L308.0 1031.2 L309.0 1029.9 L310.0 1031.3 L311.0 1030.9 L312.0 1030.4 L313.0 1031.2 L314.0 1030.7 L315.0 1030.8 L316.0 1030.6 L317.0 1030.9 L318.0 1030.6 L319.0 1029.9 L320.0 1029.8 L321.0 1029.6 L322.0 1030.0 L323.0 1029.6 L324.0 1029.0 L325.0 1028.1 L326.0 1027.1 L327.0 1026.4 L328.0 1025.2 L329.0 1024.0 L330.0 1023.5 L331.0 1023.8 L332.0 1024.0 L333.0 1026.4 L334.0 1027.2 L335.0 1027.8 L336.0 1028.6 L337.0 1029.2 L338.0 1029.2 L339.0 1029.4 L340.0 1029.9 L341.0 1029.9 L342.0 1029.0 L343.0 1030.4 L344.0 1029.5 L345.0 1030.4 L346.0 1030.1 L347.0 1030.0 L348.0 1030.4 L349.0 1029.7 L350.0 1029.5 L351.0 1029.9 L352.0 1029.6 L353.0 1029.0 L354.0 1028.7 L355.0 1028.5 L356.0 1028.7 L357.0 1028.6 L358.0 1028.9 L359.0 1028.7 L360.0 1028.7 L361.0 1029.6 L362.0 1030.6 L363.0 1030.5 L364.0 1029.7 L365.0 1030.5 L366.0 1030.3 L367.0 1030.4 L368.0 1030.4 L369.0 1030.3 L370.0 1030.0 L371.0 1030.8 L372.0 1030.3 L373.0 1030.5 L374.0 1030.5 L375.0 1030.7 L376.0 1030.5 L377.0 1030.6 L378.0 1030.5 L379.0 1030.7 L380.0 1030.7 L381.0 1031.1 L382.0 1030.8 L383.0 1030.3 L384.0 1030.8 L385.0 1030.9 L386.0 1030.4 L387.0 1030.5 L388.0 1029.9 L389.0 1031.3 L390.0 1030.8 L391.0 1031.3 L392.0 1030.3 L393.0 1030.0 L394.0 1031.0 L395.0 1030.6 L396.0 1030.9 L397.0 1030.6 L398.0 1031.2 L399.0 1030.8 L400.0 1030.8 L401.0 1031.1 L402.0 1030.7 L403.0 1030.8 L404.0 1031.4 L405.0 1030.9 L406.0 1031.0 L407.0 1031.1 L408.0 1031.0 L409.0 1031.1 L410.0 1031.6 L411.0 1031.3 L412.0 1030.4 L413.0 1030.1 L414.0 1030.6 L415.0 1030.0 L416.0 1029.9 L417.0 1030.5 L418.0 1030.6 L419.0 1031.0 L420.0 1031.1 L421.0 1031.7 L422.0 1030.7 L423.0 1030.7 L424.0 1031.0 L425.0 1031.3 L426.0 1030.8 L427.0 1030.6 L428.0 1029.9 L429.0 1031.2 L430.0 1030.8 L431.0 1031.5 L432.0 1031.6 L433.0 1031.6 L434.0 1031.1 L435.0 1031.2 L436.0 1030.4 L437.0 1031.1 L438.0 1030.8 L439.0 1031.3 L440.0 1030.7 L441.0 1030.8 L442.0 1030.6 L443.0 1031.6 L444.0 1030.9 L445.0 1030.5 L446.0 1030.7 L447.0 1030.4 L448.0 1031.3 L449.0 1031.3 L450.0 1030.9 L451.0 1031.0 L452.0 1030.3 L453.0 1031.5 L454.0 1030.9 L455.0 1031.6 L456.0 1030.6 L457.0 1031.0 L458.0 1031.2 L459.0 1031.2 L460.0 1030.8 L461.0 1031.3 L462.0 1031.0 L463.0 1030.9 L464.0 1030.4 L465.0 1031.3 L466.0 1030.8 L467.0 1031.0 L468.0 1030.8 L469.0 1030.9 L470.0 1030.7 L471.0 1031.8 L472.0 1031.5 L473.0 1031.0 L474.0 1030.9 L475.0 1031.0 L476.0 1030.4 L477.0 1031.0 L478.0 1030.7 L479.0 1030.6 L480.0 1030.4 L481.0 1030.4 L482.0 1030.9 L483.0 1030.7 L484.0 1030.3 L485.0 1030.8 L486.0 1030.6 L487.0 1030.5 L488.0 1031.0 L489.0 1030.3 L490.0 1029.9 L491.0 1030.4 L492.0 1029.9 L493.0 1030.4 L494.0 1030.2 L495.0 1029.7 L496.0 1029.7 L497.0 1029.1 L498.0 1028.6 L499.0 1027.5 L500.0 1026.5 L501.0 1026.1 L502.0 1025.6 L503.0 1023.2 L504.0 1022.8 L505.0 1022.6 L506.0 1023.9 L507.0 1024.6 L508.0 1026.2 L509.0 1027.4 L510.0 1027.9 L511.0 1028.7 L512.0 1029.1 L513.0 1029.7 L514.0 1030.0 L515.0 1030.2 L516.0 1030.2 L517.0 1029.8 L518.0 1030.1 L519.0 1030.5 L520.0 1030.4 L521.0 1030.8 L522.0 1030.0 L523.0 1030.2 L524.0 1030.2 L525.0 1030.7 L526.0 1030.4 L527.0 1030.3 L528.0 1030.7 L529.0 1030.5 L530.0 1030.3 L531.0 1030.8 L532.0 1030.6 L533.0 1030.9 L534.0 1030.9 L535.0 1030.5 L536.0 1030.6 L537.0 1030.7 L538.0 1031.0 L539.0 1030.7 L540.0 1031.1 L541.0 1030.5 L542.0 1030.7 L543.0 1031.2 L544.0 1030.2 L545.0 1030.3 L546.0 1031.0 L547.0 1031.0 L548.0 1031.1 L549.0 1031.0 L550.0 1031.1 L551.0 1030.5 L552.0 1030.7 L553.0 1030.9 L554.0 1030.3 L555.0 1030.3 L556.0 1030.5 L557.0 1031.1 L558.0 1031.0 L559.0 1030.3 L560.0 1030.5 L561.0 1030.5 L562.0 1030.7 L563.0 1030.8 L564.0 1030.7 L565.0 1030.4 L566.0 1031.1 L567.0 1031.1 L568.0 1030.3 L569.0 1030.7 L570.0 1031.1 L571.0 1030.8 L572.0 1030.9 L573.0 1030.5 L574.0 1031.2 L575.0 1030.3 L576.0 1031.0 L577.0 1031.3 L578.0 1030.4 L579.0 1031.2 L580.0 1031.0 L581.0 1030.5 L582.0 1030.7 L583.0 1031.2 L584.0 1030.5 L585.0 1030.5 L586.0 1029.6 L587.0 1030.1 L588.0 1030.5 L589.0 1030.6 L590.0 1030.9 L591.0 1031.0 L592.0 1031.4 L593.0 1030.9 L594.0 1031.7 L595.0 1030.9 L596.0 1031.1 L597.0 1030.4 L598.0 1030.8 L599.0 1031.0 L600.0 1031.0 L601.0 1030.5 L602.0 1030.6 L603.0 1030.2 L604.0 1030.7 L605.0 1030.2 L606.0 1031.0 L607.0 1030.7 L608.0 1030.9 L609.0 1030.8 L610.0 1030.7 L611.0 1030.9 L612.0 1030.6 L613.0 1030.0 L614.0 1031.0 L615.0 1030.3 L616.0 1030.9 L617.0 1030.7 L618.0 1030.6 L619.0 1030.5 L620.0 1030.6 L621.0 1030.5 L622.0 1030.4 L623.0 1030.4 L624.0 1030.5 L625.0 1030.6 L626.0 1030.2 L627.0 1030.4 L628.0 1029.7 L629.0 1029.9 L630.0 1029.5 L631.0 1029.9 L632.0 1030.1 L633.0 1030.0 L634.0 1029.1 L635.0 1029.7 L636.0 1028.8 L637.0 1028.7 L638.0 1028.4 L639.0 1028.8 L640.0 1027.9 L641.0 1028.4 L642.0 1027.9 L643.0 1027.5 L644.0 1028.0 L645.0 1028.6 L646.0 1028.2 L647.0 1028.6 L648.0 1029.1 L649.0 1029.2 L650.0 1029.4 L651.0 1030.2 L652.0 1029.8 L653.0 1029.7 L654.0 1029.7 L655.0 1029.4 L656.0 1030.2 L657.0 1029.7 L658.0 1031.3 L659.0 1030.2 L660.0 1029.8 L661.0 1029.5 L662.0 1029.8 L663.0 1030.1 L664.0 1029.7 L665.0 1030.1 L666.0 1030.1 L667.0 1030.0 L668.0 1030.0 L669.0 1029.8 L670.0 1029.5 L671.0 1029.2 L672.0 1029.0 L673.0 1029.3 L674.0 1029.6 L675.0 1029.3 L676.0 1028.8 L677.0 1029.4 L678.0 1028.5 L679.0 1028.3 L680.0 1028.1 L681.0 1027.9 L682.0 1027.8 L683.0 1027.0 L684.0 1026.4 L685.0 1026.5 L686.0 1025.6 L687.0 1024.6 L688.0 1023.1 L689.0 1020.8 L690.0 1018.7 L691.0 1014.2 L692.0 1009.6 L693.0 1004.6 L694.0 998.8 L695.0 994.7 L696.0 994.4 L697.0 997.2 L698.0 1003.2 L699.0 1008.5 L700.0 1013.6 L701.0 1017.8 L702.0 1020.5 L703.0 1022.5 L704.0 1024.2 L705.0 1025.3 L706.0 1026.7 L707.0 1026.0 L708.0 1027.1 L709.0 1027.4 L710.0 1028.1 L711.0 1028.2 L712.0 1028.5 L713.0 1029.3 L714.0 1028.9 L715.0 1029.2 L716.0 1028.9 L717.0 1028.9 L718.0 1028.9 L719.0 1029.8 L720.0 1029.0 L721.0 1029.2 L722.0 1030.3 L723.0 1029.6 L724.0 1029.5 L725.0 1029.5 L726.0 1029.2 L727.0 1029.7 L728.0 1030.0 L729.0 1029.3 L730.0 1029.5 L731.0 1030.2 L732.0 1029.5 L733.0 1029.9 L734.0 1030.4 L735.0 1029.3 L736.0 1029.6 L737.0 1029.3 L738.0 1028.8 L739.0 1030.0 L740.0 1029.8 L741.0 1029.4 L742.0 1029.7 L743.0 1029.3 L744.0 1028.9 L745.0 1029.2 L746.0 1029.1 L747.0 1028.9 L748.0 1029.6 L749.0 1028.9 L750.0 1028.7 L751.0 1029.1 L752.0 1029.2 L753.0 1029.5 L754.0 1028.9 L755.0 1028.2 L756.0 1028.2 L757.0 1028.8 L758.0 1028.0 L759.0 1028.3 L760.0 1028.5 L761.0 1027.1 L762.0 1026.8 L763.0 1026.9 L764.0 1026.6 L765.0 1026.4 L766.0 1024.8 L767.0 1024.7 L768.0 1023.3 L769.0 1021.3 L770.0 1019.7 L771.0 1017.3 L772.0 1014.1 L773.0 1008.7 L774.0 1003.9 L775.0 997.9 L776.0 995.1 L777.0 994.3 L778.0 997.8 L779.0 1001.6 L780.0 1006.9 L781.0 1011.2 L782.0 1016.0 L783.0 1017.9 L784.0 1019.4 L785.0 1021.1 L786.0 1022.6 L787.0 1023.2 L788.0 1023.5 L789.0 1023.1 L790.0 1023.5 L791.0 1022.8 L792.0 1022.8 L793.0 1023.3 L794.0 1023.0 L795.0 1022.1 L796.0 1020.9 L797.0 1020.4 L798.0 1019.6 L799.0 1019.0 L800.0 1016.6 L801.0 1014.4 L802.0 1011.9 L803.0 1008.7 L804.0 1004.3 L805.0 998.2 L806.0 990.1 L807.0 976.2 L808.0 957.0 L809.0 932.4 L810.0 898.2 L811.0 860.3 L812.0 829.6 L813.0 823.7 L814.0 846.5 L815.0 883.6 L816.0 919.4 L817.0 948.5 L818.0 969.4 L819.0 984.4 L820.0 994.9 L821.0 1002.2 L822.0 1006.9 L823.0 1010.8 L824.0 1014.5 L825.0 1016.7 L826.0 1018.7 L827.0 1019.9 L828.0 1021.0 L829.0 1022.3 L830.0 1022.7 L831.0 1023.0 L832.0 1023.5 L833.0 1024.2 L834.0 1024.7 L835.0 1024.8 L836.0 1025.0 L837.0 1025.3 L838.0 1025.2 L839.0 1026.5 L840.0 1025.9 L841.0 1025.1 L842.0 1026.2 L843.0 1025.6 L844.0 1025.8 L845.0 1025.8 L846.0 1026.0 L847.0 1025.5 L848.0 1025.5 L849.0 1025.1 L850.0 1025.7 L851.0 1024.5 L852.0 1023.7 L853.0 1023.1 L854.0 1022.9 L855.0 1022.0 L856.0 1021.2 L857.0 1020.1 L858.0 1018.0 L859.0 1016.6 L860.0 1013.7 L861.0 1010.3 L862.0 1005.4 L863.0 998.8 L864.0 988.7 L865.0 974.5 L866.0 954.9 L867.0 929.2 L868.0 902.1 L869.0 880.4 L870.0 877.7 L871.0 896.5 L872.0 923.9 L873.0 950.6 L874.0 970.9 L875.0 986.7 L876.0 997.5 L877.0 1004.8 L878.0 1010.4 L879.0 1013.5 L880.0 1016.6 L881.0 1018.9 L882.0 1020.5 L883.0 1021.6 L884.0 1023.3 L885.0 1023.8 L886.0 1024.5 L887.0 1024.6 L888.0 1025.5 L889.0 1025.7 L890.0 1027.0 L891.0 1026.8 L892.0 1026.6 L893.0 1027.5 L894.0 1027.8 L895.0 1027.4 L896.0 1027.8 L897.0 1028.9 L898.0 1028.1 L899.0 1028.4 L900.0 1029.5 L901.0 1028.4 L902.0 1028.1 L903.0 1028.3 L904.0 1028.8 L905.0 1029.1 L906.0 1028.5 L907.0 1028.2 L908.0 1029.2 L909.0 1028.9 L910.0 1028.9 L911.0 1028.8 L912.0 1029.6 L913.0 1029.1 L914.0 1028.7 L915.0 1028.9 L916.0 1029.1 L917.0 1028.7 L918.0 1029.1 L919.0 1029.7 L920.0 1029.6 L921.0 1029.7 L922.0 1029.7 L923.0 1029.4 L924.0 1029.5 L925.0 1028.7 L926.0 1029.7 L927.0 1029.6 L928.0 1029.5 L929.0 1029.5 L930.0 1029.0 L931.0 1029.2 L932.0 1028.8 L933.0 1029.2 L934.0 1029.2 L935.0 1029.0 L936.0 1029.7 L937.0 1028.9 L938.0 1029.3 L939.0 1029.2 L940.0 1029.1 L941.0 1029.3 L942.0 1029.2 L943.0 1028.8 L944.0 1029.4 L945.0 1028.8 L946.0 1029.0 L947.0 1028.2 L948.0 1028.2 L949.0 1028.4 L950.0 1029.1 L951.0 1027.6 L952.0 1027.4 L953.0 1027.4 L954.0 1027.2 L955.0 1027.1 L956.0 1027.1 L957.0 1026.2 L958.0 1026.0 L959.0 1025.2 L960.0 1024.2 L961.0 1023.2 L962.0 1022.3 L963.0 1020.5 L964.0 1018.6 L965.0 1015.2 L966.0 1010.9 L967.0 1005.1 L968.0 998.3 L969.0 990.4 L970.0 981.4 L971.0 974.2 L972.0 969.9 L973.0 972.7 L974.0 979.5 L975.0 987.7 L976.0 996.6 L977.0 1004.4 L978.0 1009.9 L979.0 1014.1 L980.0 1018.1 L981.0 1020.0 L982.0 1022.0 L983.0 1023.5 L984.0 1024.1 L985.0 1025.3 L986.0 1025.4 L987.0 1025.8 L988.0 1027.1 L989.0 1027.6 L990.0 1027.7 L991.0 1027.4 L992.0 1027.8 L993.0 1027.8 L994.0 1028.0 L995.0 1028.5 L996.0 1028.5 L997.0 1029.2 L998.0 1028.3 L999.0 1028.8 L1000.0 1028.6 L1001.0 1028.6 L1002.0 1029.9 L1003.0 1029.8 L1004.0 1029.5 L1005.0 1029.6 L1006.0 1029.6 L1007.0 1029.5 L1008.0 1028.3 L1009.0 1028.7 L1010.0 1029.8 L1011.0 1028.6 L1012.0 1030.1 L1013.0 1029.9 L1014.0 1029.8 L1015.0 1029.8 L1016.0 1030.0 L1017.0 1029.5 L1018.0 1030.4 L1019.0 1029.7 L1020.0 1029.4 L1021.0 1030.5 L1022.0 1029.9 L1023.0 1029.9 L1024.0 1030.3 L1025.0 1030.6 L1026.0 1029.8 L1027.0 1029.9 L1028.0 1029.3 L1029.0 1029.9 L1030.0 1030.5 L1031.0 1029.6 L1032.0 1029.5 L1033.0 1029.3 L1034.0 1029.4 L1035.0 1029.4 L1036.0 1029.9 L1037.0 1030.0 L1038.0 1029.1 L1039.0 1030.0 L1040.0 1030.4 L1041.0 1030.2 L1042.0 1029.6 L1043.0 1030.2 L1044.0 1029.7 L1045.0 1029.5 L1046.0 1029.4 L1047.0 1029.3 L1048.0 1029.7 L1049.0 1030.1 L1050.0 1029.2 L1051.0 1029.1 L1052.0 1030.3 L1053.0 1029.5 L1054.0 1030.7 L1055.0 1030.0 L1056.0 1029.3 L1057.0 1030.1 L1058.0 1030.2 L1059.0 1029.1 L1060.0 1029.7 L1061.0 1030.3 L1062.0 1029.2 L1063.0 1029.9 L1064.0 1029.8 L1065.0 1030.4 L1066.0 1030.1 L1067.0 1029.5 L1068.0 1029.1 L1069.0 1029.5 L1070.0 1029.6 L1071.0 1029.5 L1072.0 1029.3 L1073.0 1029.1 L1074.0 1029.9 L1075.0 1029.2 L1076.0 1029.1 L1077.0 1029.4 L1078.0 1029.3 L1079.0 1029.2 L1080.0 1029.6 L1081.0 1028.7 L1082.0 1029.1 L1083.0 1029.3 L1084.0 1028.6 L1085.0 1028.8 L1086.0 1028.8 L1087.0 1028.7 L1088.0 1028.3 L1089.0 1027.7 L1090.0 1027.7 L1091.0 1027.8 L1092.0 1027.4 L1093.0 1027.1 L1094.0 1026.7 L1095.0 1025.9 L1096.0 1026.3 L1097.0 1025.1 L1098.0 1025.4 L1099.0 1025.0 L1100.0 1023.1 L1101.0 1021.5 L1102.0 1019.1 L1103.0 1016.4 L1104.0 1013.2 L1105.0 1009.3 L1106.0 1003.5 L1107.0 996.6 L1108.0 991.5 L1109.0 986.7 L1110.0 986.4 L1111.0 989.0 L1112.0 993.7 L1113.0 999.0 L1114.0 1003.9 L1115.0 1006.5 L1116.0 1008.8 L1117.0 1008.2 L1118.0 1007.8 L1119.0 1004.1 L1120.0 1000.3 L1121.0 996.3 L1122.0 992.4 L1123.0 989.6 L1124.0 991.1 L1125.0 994.6 L1126.0 1000.2 L1127.0 1006.1 L1128.0 1011.8 L1129.0 1014.8 L1130.0 1017.3 L1131.0 1019.3 L1132.0 1022.0 L1133.0 1023.6 L1134.0 1024.2 L1135.0 1025.2 L1136.0 1025.5 L1137.0 1026.7 L1138.0 1026.8 L1139.0 1026.5 L1140.0 1027.1 L1141.0 1028.0 L1142.0 1027.7 L1143.0 1027.1 L1144.0 1028.0 L1145.0 1028.1 L1146.0 1027.4 L1147.0 1028.7 L1148.0 1029.1 L1149.0 1028.5 L1150.0 1028.4 L1151.0 1028.7 L1152.0 1028.7 L1153.0 1028.9 L1154.0 1029.2 L1155.0 1028.4 L1156.0 1028.9 L1157.0 1029.8 L1158.0 1029.0 L1159.0 1029.2 L1160.0 1029.3 L1161.0 1028.8 L1162.0 1028.6 L1163.0 1030.0 L1164.0 1029.2 L1165.0 1028.8 L1166.0 1029.5 L1167.0 1029.0 L1168.0 1028.8 L1169.0 1029.0 L1170.0 1028.6 L1171.0 1028.7 L1172.0 1029.4 L1173.0 1029.0 L1174.0 1028.8 L1175.0 1029.3 L1176.0 1029.0 L1177.0 1028.5 L1178.0 1027.9 L1179.0 1028.1 L1180.0 1028.6 L1181.0 1027.6 L1182.0 1028.5 L1183.0 1027.4 L1184.0 1026.9 L1185.0 1027.2 L1186.0 1028.0 L1187.0 1027.4 L1188.0 1027.9 L1189.0 1028.2 L1190.0 1027.9 L1191.0 1028.6 L1192.0 1028.8 L1193.0 1028.7 L1194.0 1027.8 L1195.0 1028.6 L1196.0 1028.7 L1197.0 1028.8 L1198.0 1029.1 L1199.0 1028.5 L1200.0 1028.4 L1201.0 1027.5 L1202.0 1027.8 L1203.0 1028.5 L1204.0 1027.6 L1205.0 1027.8 L1206.0 1027.1 L1207.0 1027.5 L1208.0 1026.9 L1209.0 1027.3 L1210.0 1026.9 L1211.0 1026.8 L1212.0 1025.7 L1213.0 1025.8 L1214.0 1025.8 L1215.0 1023.8 L1216.0 1024.1 L1217.0 1023.5 L1218.0 1022.9 L1219.0 1021.6 L1220.0 1020.0 L1221.0 1017.9 L1222.0 1015.4 L1223.0 1011.4 L1224.0 1006.6 L1225.0 1000.0 L1226.0 992.4 L1227.0 983.1 L1228.0 973.7 L1229.0 964.0 L1230.0 960.1 L1231.0 961.8 L1232.0 969.2 L1233.0 979.3 L1234.0 988.6 L1235.0 996.7 L1236.0 1003.8 L1237.0 1009.4 L1238.0 1013.1 L1239.0 1016.2 L1240.0 1017.6 L1241.0 1020.0 L1242.0 1020.6 L1243.0 1021.2 L1244.0 1022.4 L1245.0 1022.2 L1246.0 1023.2 L1247.0 1023.8 L1248.0 1023.0 L1249.0 1022.8 L1250.0 1023.3 L1251.0 1022.6 L1252.0 1022.0 L1253.0 1019.9 L1254.0 1018.9 L1255.0 1017.9 L1256.0 1014.2 L1257.0 1010.8 L1258.0 1006.7 L1259.0 1001.8 L1260.0 996.8 L1261.0 992.4 L1262.0 992.9 L1263.0 994.6 L1264.0 999.9 L1265.0 1004.9 L1266.0 1008.5 L1267.0 1012.6 L1268.0 1016.0 L1269.0 1018.1 L1270.0 1019.1 L1271.0 1019.4 L1272.0 1020.1 L1273.0 1019.6 L1274.0 1020.3 L1275.0 1019.4 L1276.0 1019.1 L1277.0 1016.9 L1278.0 1017.0 L1279.0 1016.5 L1280.0 1016.5 L1281.0 1016.4 L1282.0 1017.8 L1283.0 1018.3 L1284.0 1020.4 L1285.0 1020.8 L1286.0 1021.8 L1287.0 1022.7 L1288.0 1024.1 L1289.0 1024.7 L1290.0 1024.8 L1291.0 1024.6 L1292.0 1026.0 L1293.0 1026.2 L1294.0 1026.8 L1295.0 1026.7 L1296.0 1027.4 L1297.0 1027.0 L1298.0 1027.7 L1299.0 1027.6 L1300.0 1028.1 L1301.0 1027.8 L1302.0 1028.1 L1303.0 1027.8 L1304.0 1027.9 L1305.0 1027.7 L1306.0 1027.5 L1307.0 1028.1 L1308.0 1028.0 L1309.0 1028.5 L1310.0 1028.1 L1311.0 1028.6 L1312.0 1028.5 L1313.0 1027.8 L1314.0 1027.3 L1315.0 1027.5 L1316.0 1027.8 L1317.0 1027.2 L1318.0 1027.5 L1319.0 1026.8 L1320.0 1026.7 L1321.0 1026.7 L1322.0 1026.3 L1323.0 1025.8 L1324.0 1025.3 L1325.0 1024.9 L1326.0 1023.9 L1327.0 1023.5 L1328.0 1021.7 L1329.0 1021.6 L1330.0 1018.7 L1331.0 1015.7 L1332.0 1012.1 L1333.0 1008.2 L1334.0 1003.6 L1335.0 997.3 L1336.0 991.9 L1337.0 986.5 L1338.0 984.2 L1339.0 985.6 L1340.0 988.8 L1341.0 992.7 L1342.0 995.5 L1343.0 998.0 L1344.0 998.8 L1345.0 1000.5 L1346.0 1001.4 L1347.0 1002.5 L1348.0 1003.4 L1349.0 1004.7 L1350.0 1005.7 L1351.0 1005.6 L1352.0 1007.5 L1353.0 1008.4 L1354.0 1010.3 L1355.0 1012.8 L1356.0 1014.0 L1357.0 1016.2 L1358.0 1018.1 L1359.0 1020.2 L1360.0 1021.2 L1361.0 1022.4 L1362.0 1024.4 L1363.0 1024.4 L1364.0 1025.3 L1365.0 1026.1 L1366.0 1026.7 L1367.0 1026.0 L1368.0 1027.0 L1369.0 1027.4 L1370.0 1027.8 L1371.0 1027.3 L1372.0 1027.5 L1373.0 1027.9 L1374.0 1028.0 L1375.0 1028.0 L1376.0 1027.9 L1377.0 1028.2 L1378.0 1028.2 L1379.0 1028.5 L1380.0 1028.2 L1381.0 1028.1 L1382.0 1028.4 L1383.0 1028.5 L1384.0 1029.0 L1385.0 1028.5 L1386.0 1027.9 L1387.0 1029.5 L1388.0 1029.2 L1389.0 1028.9 L1390.0 1028.9 L1391.0 1028.7 L1392.0 1029.4 L1393.0 1028.2 L1394.0 1028.9 L1395.0 1028.9 L1396.0 1029.5 L1397.0 1028.5 L1398.0 1029.0 L1399.0 1028.5 L1400.0 1027.9 L1401.0 1027.7 L1402.0 1028.5 L1403.0 1027.4 L1404.0 1027.5 L1405.0 1028.0 L1406.0 1026.7 L1407.0 1027.0 L1408.0 1027.1 L1409.0 1026.4 L1410.0 1025.6 L1411.0 1024.4 L1412.0 1024.7 L1413.0 1023.4 L1414.0 1022.5 L1415.0 1021.3 L1416.0 1020.2 L1417.0 1020.7 L1418.0 1020.1 L1419.0 1019.7 L1420.0 1021.0 L1421.0 1021.3 L1422.0 1021.6 L1423.0 1022.5 L1424.0 1023.6 L1425.0 1024.4 L1426.0 1024.5 L1427.0 1025.8 L1428.0 1025.9 L1429.0 1026.1 L1430.0 1026.8 L1431.0 1027.2 L1432.0 1027.9 L1433.0 1028.0 L1434.0 1027.1 L1435.0 1027.6 L1436.0 1028.6 L1437.0 1028.5 L1438.0 1028.1 L1439.0 1028.4 L1440.0 1029.3 L1441.0 1027.8 L1442.0 1029.2 L1443.0 1029.2 L1444.0 1028.6 L1445.0 1028.8 L1446.0 1029.0 L1447.0 1028.9 L1448.0 1029.1 L1449.0 1029.4 L1450.0 1028.7 L1451.0 1028.9 L1452.0 1029.1 L1453.0 1028.8 L1454.0 1028.9 L1455.0 1029.5 L1456.0 1028.1 L1457.0 1029.0 L1458.0 1028.6 L1459.0 1028.4 L1460.0 1028.7 L1461.0 1028.9 L1462.0 1029.0 L1463.0 1028.3 L1464.0 1028.8 L1465.0 1029.1 L1466.0 1028.5 L1467.0 1028.6 L1468.0 1028.4 L1469.0 1028.4 L1470.0 1027.7 L1471.0 1028.4 L1472.0 1027.9 L1473.0 1028.2 L1474.0 1027.7 L1475.0 1026.8 L1476.0 1027.3 L1477.0 1027.0 L1478.0 1026.5 L1479.0 1025.5 L1480.0 1024.8 L1481.0 1024.8 L1482.0 1023.2 L1483.0 1022.8 L1484.0 1021.3 L1485.0 1019.5 L1486.0 1018.0 L1487.0 1016.1 L1488.0 1014.5 L1489.0 1012.1 L1490.0 1010.6 L1491.0 1009.1 L1492.0 1008.5 L1493.0 1008.5 L1494.0 1007.6 L1495.0 1008.6 L1496.0 1008.3 L1497.0 1008.6 L1498.0 1008.4 L1499.0 1008.8 L1500.0 1008.4 L1501.0 1007.4 L1502.0 1007.4 L1503.0 1008.5 L1504.0 1009.2 L1505.0 1011.3 L1506.0 1012.3 L1507.0 1015.1 L1508.0 1016.4 L1509.0 1017.3 L1510.0 1020.3 L1511.0 1021.0 L1512.0 1022.8 L1513.0 1023.4 L1514.0 1024.7 L1515.0 1024.4 L1516.0 1024.8 L1517.0 1026.4 L1518.0 1026.6 L1519.0 1026.5 L1520.0 1026.1 L1521.0 1027.2 L1522.0 1027.9 L1523.0 1026.9 L1524.0 1027.0 L1525.0 1026.8 L1526.0 1027.3 L1527.0 1027.0 L1528.0 1026.3 L1529.0 1026.4 L1530.0 1026.8 L1531.0 1025.8 L1532.0 1026.1 L1533.0 1026.2 L1534.0 1026.0 L1535.0 1025.0 L1536.0 1026.0 L1537.0 1025.6 L1538.0 1025.5 L1539.0 1026.6 L1540.0 1026.1 L1541.0 1026.8 L1542.0 1027.5 L1543.0 1027.3 L1544.0 1027.1 L1545.0 1027.4 L1546.0 1027.0 L1547.0 1027.1 L1548.0 1027.0 L1549.0 1025.9 L1550.0 1026.6 L1551.0 1025.5 L1552.0 1025.0 L1553.0 1024.4 L1554.0 1023.5 L1555.0 1022.6 L1556.0 1022.1 L1557.0 1020.7 L1558.0 1020.2 L1559.0 1019.4 L1560.0 1018.3 L1561.0 1018.1 L1562.0 1018.6 L1563.0 1018.8 L1564.0 1019.8 L1565.0 1020.5 L1566.0 1021.3 L1567.0 1022.4 L1568.0 1023.5 L1569.0 1024.6 L1570.0 1024.3 L1571.0 1025.4 L1572.0 1026.0 L1573.0 1026.3 L1574.0 1026.8 L1575.0 1027.8 L1576.0 1028.0 L1577.0 1027.6 L1578.0 1027.5 L1579.0 1028.4 L1580.0 1028.5 L1581.0 1028.0 L1582.0 1028.7 L1583.0 1028.8 L1584.0 1029.0 L1585.0 1028.6 L1586.0 1029.0 L1587.0 1028.8 L1588.0 1029.2 L1589.0 1029.0 L1590.0 1029.2 L1591.0 1028.9 L1592.0 1028.8 L1593.0 1028.9 L1594.0 1029.1 L1595.0 1028.6 L1596.0 1028.8 L1597.0 1029.4 L1598.0 1028.2 L1599.0 1027.8 L1600.0 1027.9 L1601.0 1028.1 L1602.0 1028.3 L1603.0 1027.5 L1604.0 1027.8 L1605.0 1028.9 L1606.0 1028.3 L1607.0 1029.2 L1608.0 1029.5 L1609.0 1028.0 L1610.0 1029.4 L1611.0 1029.3 L1612.0 1029.2 L1613.0 1029.5 L1614.0 1029.4 L1615.0 1029.7 L1616.0 1030.2 L1617.0 1029.6 L1618.0 1029.1 L1619.0 1030.1 L1620.0 1030.0 L1621.0 1030.1 L1622.0 1029.7 L1623.0 1029.9 L1624.0 1030.3 L1625.0 1029.5 L1626.0 1029.3 L1627.0 1030.0 L1628.0 1029.3 L1629.0 1029.8 L1630.0 1029.2 L1631.0 1029.1 L1632.0 1029.3 L1633.0 1029.2 L1634.0 1028.7 L1635.0 1029.5 L1636.0 1028.6 L1637.0 1028.8 L1638.0 1028.1 L1639.0 1028.1 L1640.0 1028.0 L1641.0 1028.3 L1642.0 1028.4 L1643.0 1028.5 L1644.0 1028.6 L1645.0 1029.1 L1646.0 1029.3 L1647.0 1028.9 L1648.0 1029.2 L1649.0 1029.5 L1650.0 1029.6 L1651.0 1029.6 L1652.0 1029.4 L1653.0 1029.4 L1654.0 1029.6 L1655.0 1029.8 L1656.0 1029.2 L1657.0 1029.3 L1658.0 1029.5 L1659.0 1029.7 L1660.0 1029.5 L1661.0 1029.6 L1662.0 1029.4 L1663.0 1029.9 L1664.0 1029.0 L1665.0 1029.7 L1666.0 1029.5 L1667.0 1029.8 L1668.0 1029.8 L1669.0 1028.6 L1670.0 1030.2 L1671.0 1030.0 L1672.0 1030.4 L1673.0 1030.1 L1674.0 1030.1 L1675.0 1030.0 L1676.0 1030.4 L1677.0 1029.3 L1678.0 1029.7 L1679.0 1029.4 L1680.0 1030.1 L1681.0 1029.8 L1682.0 1030.3 L1683.0 1029.8 L1684.0 1029.6 L1685.0 1029.6 L1686.0 1029.4 L1687.0 1028.9 L1688.0 1029.6 L1689.0 1029.5 L1690.0 1029.4 L1691.0 1029.2 L1692.0 1029.6 L1693.0 1029.1 L1694.0 1029.6 L1695.0 1029.4 L1696.0 1029.3 L1697.0 1028.8 L1698.0 1029.4 L1699.0 1029.6 L1700.0 1029.1 L1701.0 1028.8 L1702.0 1029.2 L1703.0 1029.1 L1704.0 1028.4 L1705.0 1029.4 L1706.0 1028.6 L1707.0 1028.3 L1708.0 1027.6 L1709.0 1027.1 L1710.0 1026.0 L1711.0 1025.7 L1712.0 1025.3 L1713.0 1025.0 L1714.0 1024.1 L1715.0 1023.8 L1716.0 1024.6 L1717.0 1024.5 L1718.0 1025.3 L1719.0 1025.5 L1720.0 1025.8 L1721.0 1026.6 L1722.0 1026.2 L1723.0 1027.9 L1724.0 1028.1 L1725.0 1028.7 L1726.0 1028.4 L1727.0 1029.4 L1728.0 1029.3 L1729.0 1028.3 L1730.0 1028.4 L1731.0 1029.3 L1732.0 1028.7 L1733.0 1029.3 L1734.0 1029.3 L1735.0 1029.3 L1736.0 1030.0 L1737.0 1029.7 L1738.0 1029.8 L1739.0 1029.7 L1740.0 1030.7 L1741.0 1030.1 L1742.0 1029.4 L1743.0 1029.9 L1744.0 1029.4 L1745.0 1029.6 L1746.0 1029.7 L1747.0 1029.2 L1748.0 1029.0 L1749.0 1029.3 L1750.0 1029.9 L1751.0 1028.7 L1752.0 1030.0 L1753.0 1028.9 L1754.0 1029.4 L1755.0 1029.5 L1756.0 1030.0 L1757.0 1029.8 L1758.0 1029.3 L1759.0 1029.5 L1760.0 1029.9 L1761.0 1030.2 L1762.0 1029.9 L1763.0 1029.7 L1764.0 1029.7 L1765.0 1030.4 L1766.0 1029.5 L1767.0 1029.6 L1768.0 1029.9 L1769.0 1030.2 L1770.0 1029.1 L1771.0 1030.1 L1772.0 1030.2 L1773.0 1029.8 L1774.0 1029.0 L1775.0 1029.4 L1776.0 1029.6 L1777.0 1029.8 L1778.0 1029.2 L1779.0 1029.6 L1780.0 1029.9 L1781.0 1029.4 L1782.0 1029.5 L1783.0 1029.4 L1784.0 1028.9 L1785.0 1029.3 L1786.0 1029.3 L1787.0 1029.5 L1788.0 1028.8 L1789.0 1028.5 L1790.0 1028.7 L1791.0 1028.4 L1792.0 1028.8 L1793.0 1028.2 L1794.0 1027.7 L1795.0 1028.5 L1796.0 1028.2 L1797.0 1028.4 L1798.0 1028.6 L1799.0 1029.0 L1800.0 1028.4 L1801.0 1029.1 L1802.0 1029.0 L1803.0 1029.2 L1804.0 1029.2 L1805.0 1029.1 L1806.0 1029.5 L1807.0 1029.5 L1808.0 1029.7 L1809.0 1030.1 L1810.0 1029.2 L1811.0 1030.3 L1812.0 1030.0 L1813.0 1029.2 L1814.0 1029.6 L1815.0 1029.6 L1816.0 1030.1 L1817.0 1029.3 L1818.0 1030.3 L1819.0 1029.3 L1820.0 1029.5 L1821.0 1029.4 L1822.0 1029.2 L1823.0 1029.2 L1824.0 1029.4 L1825.0 1029.6 L1826.0 1029.4 L1827.0 1029.3 L1828.0 1028.7 L1829.0 1029.5 L1830.0 1030.4 L1831.0 1030.3 L1832.0 1030.1 L1833.0 1029.5 L1834.0 1029.8 L1835.0 1029.4 L1836.0 1029.4 L1837.0 1029.7 L1838.0 1030.0 L1839.0 1029.4 L1840.0 1029.3 L1841.0 1029.5 L1842.0 1029.0 L1843.0 1029.9 L1844.0 1029.9 L1845.0 1029.9 L1846.0 1029.8 L1847.0 1029.2 L1848.0 1029.3 L1849.0 1029.1 L1850.0 1029.5 L1851.0 1030.2 L1852.0 1029.0 L1853.0 1029.6 L1854.0 1029.8 L1855.0 1028.8 L1856.0 1030.0 L1857.0 1028.9 L1858.0 1029.1 L1859.0 1029.2 L1860.0 1029.3 L1861.0 1029.2 L1862.0 1028.7 L1863.0 1028.5 L1864.0 1027.7 L1865.0 1028.3 L1866.0 1028.8 L1867.0 1027.9 L1868.0 1028.2 L1869.0 1028.0 L1870.0 1027.5 L1871.0 1026.8 L1872.0 1026.4 L1873.0 1026.0 L1874.0 1024.7 L1875.0 1025.1 L1876.0 1023.2 L1877.0 1022.3 L1878.0 1021.3 L1879.0 1020.4 L1880.0 1019.9 L1881.0 1019.8 L1882.0 1019.4 L1883.0 1020.3 L1884.0 1020.0 L1885.0 1020.9 L1886.0 1021.3 L1887.0 1021.3 L1888.0 1021.6 L1889.0 1020.9 L1890.0 1021.8 L1891.0 1021.5 L1892.0 1021.1 L1893.0 1020.6 L1894.0 1020.8 L1895.0 1019.8 L1896.0 1020.3 L1897.0 1020.3 L1898.0 1021.1 L1899.0 1020.4 L1900.0 1021.5 L1901.0 1021.9 L1902.0 1021.7 L1903.0 1022.6 L1904.0 1023.6 L1905.0 1024.8 L1906.0 1025.5 L1907.0 1025.3 L1908.0 1026.0 L1909.0 1026.2 L1910.0 1025.4 L1911.0 1027.0 L1912.0 1027.2 L1913.0 1025.9 L1914.0 1026.4 L1915.0 1026.7 L1916.0 1026.6 L1917.0 1026.9 L1918.0 1026.9 L1919.0 1026.2 L1920.0 1026.7 L1921.0 1026.2 L1922.0 1026.5 L1923.0 1026.9 L1924.0 1027.3 L1925.0 1027.0 L1926.0 1028.3 L1927.0 1027.8 L1928.0 1028.0 L1929.0 1028.5 L1930.0 1028.1 L1931.0 1028.6 L1932.0 1027.7 L1933.0 1028.1 L1934.0 1028.7 L1935.0 1028.7 L1936.0 1028.8 L1937.0 1028.8 L1938.0 1029.3 L1939.0 1029.6 L1940.0 1029.0 L1941.0 1029.6 L1942.0 1029.4 L1943.0 1028.8 L1944.0 1028.8 L1945.0 1029.3 L1946.0 1029.7 L1947.0 1029.0 L1948.0 1028.6 L1949.0 1029.7 L1950.0 1029.8 L1951.0 1029.3 L1952.0 1029.8 L1953.0 1030.2 L1954.0 1029.1 L1955.0 1029.2 L1956.0 1029.2 L1957.0 1029.8 L1958.0 1029.0 L1959.0 1029.2 L1960.0 1029.8 L1961.0 1029.7 L1962.0 1029.7 L1963.0 1028.9 L1964.0 1029.4 L1965.0 1029.0 L1966.0 1029.5 L1967.0 1029.3 L1968.0 1029.3 L1969.0 1028.9 L1970.0 1028.9 L1971.0 1028.8 L1972.0 1028.4 L1973.0 1028.4 L1974.0 1027.7 L1975.0 1027.3 L1976.0 1026.8 L1977.0 1027.0 L1978.0 1027.0 L1979.0 1026.5 L1980.0 1025.2 L1981.0 1025.9 L1982.0 1025.7 L1983.0 1025.8 L1984.0 1026.2 L1985.0 1026.7 L1986.0 1027.4 L1987.0 1027.7 L1988.0 1028.3 L1989.0 1028.1 L1990.0 1028.0 L1991.0 1028.9 L1992.0 1028.2 L1993.0 1029.1 L1994.0 1028.5 L1995.0 1028.8 L1996.0 1029.6 L1997.0 1029.0 L1998.0 1029.7 L1999.0 1029.6 L2000.0 1029.3 L2001.0 1029.7 L2002.0 1029.7 L2003.0 1029.5 L2004.0 1029.3 L2005.0 1029.8 L2006.0 1029.4 L2007.0 1029.5 L2008.0 1029.7 L2009.0 1029.6 L2010.0 1029.7 L2011.0 1029.7 L2012.0 1029.7 L2013.0 1029.7 L2014.0 1030.2 L2015.0 1029.5 L2016.0 1029.5 L2017.0 1029.2 L2018.0 1028.8 L2019.0 1029.9 L2020.0 1029.9 L2021.0 1030.2 L2022.0 1029.2 L2023.0 1029.4 L2024.0 1029.5 L2025.0 1030.4 L2026.0 1030.1 L2027.0 1029.6 L2028.0 1029.7 L2029.0 1029.8 L2030.0 1029.3 L2031.0 1029.8 L2032.0 1029.3 L2033.0 1029.8 L2034.0 1030.0 L2035.0 1029.8 L2036.0 1029.5 L2037.0 1029.6 L2038.0 1030.0 L2039.0 1029.5 L2040.0 1029.2 L2041.0 1029.6 L2042.0 1029.5 L2043.0 1029.6 L2044.0 1029.7 L2045.0 1029.6 L2046.0 1029.6 L2047.0 1030.1 L2048.0 1029.9 L2049.0 1030.1 L2050.0 1029.7 L2051.0 1029.6 L2052.0 1029.8 L2053.0 1029.2 L2054.0 1029.3 L2055.0 1030.0 L2056.0 1029.5 L2057.0 1029.5 L2058.0 1029.3 L2059.0 1029.9 L2060.0 1029.3 L2061.0 1030.2 L2062.0 1029.8 L2063.0 1029.0 L2064.0 1029.5 L2065.0 1029.3 L2066.0 1029.9 L2067.0 1029.9 L2068.0 1029.5 L2069.0 1029.4 L2070.0 1029.8 L2071.0 1029.4 L2072.0 1030.1 L2073.0 1029.4 L2074.0 1029.8 L2075.0 1028.9 L2076.0 1029.7 L2077.0 1029.4 L2078.0 1029.7 L2079.0 1030.0 L2080.0 1029.5 L2081.0 1028.6 L2082.0 1028.7 L2083.0 1029.5 L2084.0 1029.1 L2085.0 1029.0 L2086.0 1029.7 L2087.0 1029.2 L2088.0 1029.5 L2089.0 1029.4 L2090.0 1028.8 L2091.0 1028.9 L2092.0 1028.3 L2093.0 1028.7 L2094.0 1028.4 L2095.0 1028.8 L2096.0 1028.4 L2097.0 1028.0 L2098.0 1027.8 L2099.0 1028.0 L2100.0 1028.2 L2101.0 1028.6 L2102.0 1028.9 L2103.0 1028.2 L2104.0 1028.4 L2105.0 1029.1 L2106.0 1028.6 L2107.0 1029.1 L2108.0 1028.6 L2109.0 1029.2 L2110.0 1029.2 L2111.0 1029.3 L2112.0 1029.2 L2113.0 1029.6 L2114.0 1029.8 L2115.0 1029.7 L2116.0 1029.4 L2117.0 1029.4 L2118.0 1029.3 L2119.0 1029.2 L2120.0 1029.5 L2121.0 1029.5 L2122.0 1029.4 L2123.0 1029.6 L2124.0 1029.8 L2125.0 1029.3 L2126.0 1029.4 L2127.0 1029.7 L2128.0 1029.6 L2129.0 1029.2 L2130.0 1029.1 L2131.0 1029.8 L2132.0 1029.1 L2133.0 1029.6 L2134.0 1029.1 L2135.0 1030.1 L2136.0 1029.1 L2137.0 1030.1 L2138.0 1029.7 L2139.0 1029.9 L2140.0 1029.8 L2141.0 1029.6 L2142.0 1029.2 L2143.0 1030.2 L2144.0 1029.1 L2145.0 1029.2 L2146.0 1028.6 L2147.0 1029.0 L2148.0 1029.1 L2149.0 1028.5 L2150.0 1028.7 L2151.0 1028.3 L2152.0 1028.1 L2153.0 1028.2 L2154.0 1028.1 L2155.0 1027.3 L2156.0 1026.8 L2157.0 1027.5 L2158.0 1026.9 L2159.0 1027.2 L2160.0 1027.2 L2161.0 1028.1 L2162.0 1028.8 L2163.0 1028.0 L2164.0 1029.2 L2165.0 1028.6 L2166.0 1028.6 L2167.0 1029.2 L2168.0 1029.6 L2169.0 1028.9 L2170.0 1028.9 L2171.0 1029.8 L2172.0 1029.4 L2173.0 1028.1 L2174.0 1029.1 L2175.0 1028.8 L2176.0 1028.9 L2177.0 1029.1 L2178.0 1028.8 L2179.0 1028.8 L2180.0 1029.6 L2181.0 1028.2 L2182.0 1028.7 L2183.0 1028.8 L2184.0 1027.9 L2185.0 1027.9 L2186.0 1027.7 L2187.0 1028.4 L2188.0 1027.6 L2189.0 1028.2 L2190.0 1027.6 L2191.0 1027.7 L2192.0 1028.4 L2193.0 1028.7 L2194.0 1028.1 L2195.0 1028.3 L2196.0 1028.9 L2197.0 1028.5 L2198.0 1028.5 L2199.0 1028.6 L2200.0 1029.2 L2201.0 1028.2 L2202.0 1029.8 L2203.0 1029.8 L2204.0 1029.7 L2205.0 1029.1 L2206.0 1028.9 L2207.0 1029.4 L2208.0 1028.8 L2209.0 1029.9 L2210.0 1028.9 L2211.0 1029.5 L2212.0 1029.3 L2213.0 1028.8 L2214.0 1028.8 L2215.0 1028.5 L2216.0 1028.7 L2217.0 1028.8 L2218.0 1028.4 L2219.0 1028.1 L2220.0 1028.1 L2221.0 1028.5 L2222.0 1028.3 L2223.0 1028.1 L2224.0 1027.8 L2225.0 1027.9 L2226.0 1028.4 L2227.0 1028.2 L2228.0 1028.2 L2229.0 1029.1 L2230.0 1028.8 L2231.0 1028.9 L2232.0 1028.7 L2233.0 1029.0 L2234.0 1029.3 L2235.0 1029.1 L2236.0 1028.5 L2237.0 1028.9 L2238.0 1029.3 L2239.0 1029.2 L2240.0 1029.5 L2241.0 1029.0 L2242.0 1029.1 L2243.0 1029.4 L2244.0 1029.0 L2245.0 1029.4 L2246.0 1028.4 L2247.0 1028.6 L2248.0 1029.3 L2249.0 1029.2 L2250.0 1029.2 L2251.0 1029.2 L2252.0 1029.2 L2253.0 1028.4 L2254.0 1029.3 L2255.0 1029.0 L2256.0 1028.1 L2257.0 1028.0 L2258.0 1028.6 L2259.0 1028.1 L2260.0 1028.4 L2261.0 1028.0 L2262.0 1027.3 L2263.0 1027.4 L2264.0 1027.4 L2265.0 1027.3 L2266.0 1027.3 L2267.0 1026.4 L2268.0 1026.5 L2269.0 1025.8 L2270.0 1025.3 L2271.0 1023.9 L2272.0 1024.0 L2273.0 1023.0 L2274.0 1023.1 L2275.0 1022.5 L2276.0 1021.6 L2277.0 1021.6 L2278.0 1020.5 L2279.0 1020.4 L2280.0 1019.8 L2281.0 1020.0 L2282.0 1019.6 L2283.0 1019.9 L2284.0 1020.4 L2285.0 1020.0 L2286.0 1019.8 L2287.0 1019.9 L2288.0 1020.1 L2289.0 1020.5 L2290.0 1019.6 L2291.0 1020.6 L2292.0 1021.1 L2293.0 1021.6 L2294.0 1022.4 L2295.0 1023.3 L2296.0 1024.3 L2297.0 1023.8 L2298.0 1024.6 L2299.0 1025.6 L2300.0 1025.5 L2301.0 1026.6 L2302.0 1026.5 L2303.0 1027.1 L2304.0 1027.0 L2305.0 1027.3 L2306.0 1028.8 L2307.0 1027.9 L2308.0 1028.7 L2309.0 1028.3 L2310.0 1028.6 L2311.0 1028.2 L2312.0 1028.7 L2313.0 1028.4 L2314.0 1027.6 L2315.0 1027.8 L2316.0 1028.8 L2317.0 1029.1 L2318.0 1028.6 L2319.0 1028.6 L2320.0 1028.8 L2321.0 1029.6 L2322.0 1028.4 L2323.0 1029.3 L2324.0 1029.5 L2325.0 1028.6 L2326.0 1028.8 L2327.0 1029.0 L2328.0 1028.9 L2329.0 1029.6 L2330.0 1029.3 L2331.0 1029.1 L2332.0 1029.4 L2333.0 1029.7 L2334.0 1029.2 L2335.0 1029.0 L2336.0 1029.7 L2337.0 1030.0 L2338.0 1029.9 L2339.0 1029.7 L2340.0 1029.3 L2341.0 1029.4 L2342.0 1029.4 L2343.0 1029.4 L2344.0 1029.4" fill="none" stroke="#1FBFBF" stroke-width="10.8" stroke-linejoin="round" stroke-linecap="butt"/>
<path d="M198.0 815.8 L199.0 815.8 L200.0 815.8 L201.0 815.8 L202.0 815.6 L203.0 815.6 L204.0 815.6 L205.0 816.0 L206.0 815.3 L207.0 815.1 L208.0 815.7 L209.0 815.6 L210.0 815.9 L211.0 815.6 L212.0 815.5 L213.0 815.8 L214.0 815.9 L215.0 816.1 L216.0 815.7 L217.0 815.0 L218.0 815.7 L219.0 815.7 L220.0 815.6 L221.0 815.9 L222.0 815.6 L223.0 816.1 L224.0 815.6 L225.0 816.2 L226.0 815.2 L227.0 814.8 L228.0 815.3 L229.0 816.7 L230.0 815.6 L231.0 815.6 L232.0 815.8 L233.0 815.5 L234.0 815.7 L235.0 815.7 L236.0 816.4 L237.0 816.1 L238.0 815.7 L239.0 815.9 L240.0 815.9 L241.0 815.2 L242.0 816.1 L243.0 815.4 L244.0 815.9 L245.0 815.7 L246.0 816.0 L247.0 816.2 L248.0 815.8 L249.0 815.4 L250.0 815.5 L251.0 815.8 L252.0 815.5 L253.0 815.5 L254.0 815.6 L255.0 815.5 L256.0 815.8 L257.0 815.4 L258.0 815.6 L259.0 815.3 L260.0 814.9 L261.0 815.9 L262.0 816.0 L263.0 815.4 L264.0 815.9 L265.0 815.7 L266.0 815.1 L267.0 816.0 L268.0 814.8 L269.0 815.5 L270.0 815.8 L271.0 815.1 L272.0 816.2 L273.0 815.3 L274.0 816.0 L275.0 815.5 L276.0 815.8 L277.0 815.5 L278.0 816.4 L279.0 815.7 L280.0 815.9 L281.0 815.8 L282.0 815.6 L283.0 815.4 L284.0 815.7 L285.0 815.9 L286.0 815.9 L287.0 815.7 L288.0 815.4 L289.0 815.8 L290.0 815.1 L291.0 815.5 L292.0 814.7 L293.0 815.2 L294.0 815.4 L295.0 814.9 L296.0 815.0 L297.0 815.8 L298.0 815.6 L299.0 815.8 L300.0 815.9 L301.0 815.7 L302.0 815.7 L303.0 815.5 L304.0 815.9 L305.0 814.8 L306.0 815.3 L307.0 815.7 L308.0 815.6 L309.0 815.3 L310.0 815.1 L311.0 815.5 L312.0 815.1 L313.0 814.7 L314.0 815.5 L315.0 814.9 L316.0 815.0 L317.0 814.3 L318.0 813.8 L319.0 814.8 L320.0 815.1 L321.0 813.4 L322.0 813.8 L323.0 813.8 L324.0 813.1 L325.0 812.3 L326.0 811.3 L327.0 809.7 L328.0 809.0 L329.0 807.5 L330.0 806.4 L331.0 805.6 L332.0 808.3 L333.0 809.1 L334.0 810.7 L335.0 812.4 L336.0 813.1 L337.0 813.2 L338.0 814.1 L339.0 814.2 L340.0 814.0 L341.0 814.4 L342.0 813.8 L343.0 814.0 L344.0 814.7 L345.0 815.2 L346.0 814.3 L347.0 815.2 L348.0 814.7 L349.0 815.3 L350.0 814.4 L351.0 815.5 L352.0 814.4 L353.0 814.0 L354.0 814.0 L355.0 813.0 L356.0 813.7 L357.0 813.4 L358.0 813.8 L359.0 813.6 L360.0 812.9 L361.0 813.2 L362.0 814.1 L363.0 814.0 L364.0 815.0 L365.0 814.4 L366.0 815.0 L367.0 814.9 L368.0 815.6 L369.0 815.1 L370.0 815.2 L371.0 814.7 L372.0 815.3 L373.0 815.4 L374.0 815.1 L375.0 815.4 L376.0 814.7 L377.0 815.0 L378.0 815.2 L379.0 814.9 L380.0 815.5 L381.0 815.2 L382.0 814.7 L383.0 814.6 L384.0 814.9 L385.0 814.7 L386.0 814.9 L387.0 814.6 L388.0 815.4 L389.0 815.2 L390.0 815.3 L391.0 815.5 L392.0 814.3 L393.0 815.2 L394.0 815.2 L395.0 815.5 L396.0 815.5 L397.0 815.5 L398.0 815.8 L399.0 814.6 L400.0 814.9 L401.0 815.7 L402.0 815.8 L403.0 815.0 L404.0 815.7 L405.0 815.6 L406.0 814.8 L407.0 815.1 L408.0 815.4 L409.0 815.3 L410.0 816.0 L411.0 815.5 L412.0 815.6 L413.0 815.0 L414.0 814.8 L415.0 815.0 L416.0 815.8 L417.0 816.0 L418.0 815.0 L419.0 815.2 L420.0 814.3 L421.0 815.8 L422.0 814.8 L423.0 815.6 L424.0 815.8 L425.0 814.8 L426.0 814.9 L427.0 815.5 L428.0 815.8 L429.0 815.1 L430.0 814.9 L431.0 815.4 L432.0 815.7 L433.0 814.8 L434.0 814.9 L435.0 815.7 L436.0 815.3 L437.0 814.9 L438.0 815.2 L439.0 815.4 L440.0 815.6 L441.0 815.3 L442.0 815.2 L443.0 814.6 L444.0 815.4 L445.0 815.4 L446.0 815.3 L447.0 815.2 L448.0 815.3 L449.0 815.6 L450.0 815.1 L451.0 814.7 L452.0 815.5 L453.0 815.0 L454.0 815.1 L455.0 815.3 L456.0 815.1 L457.0 815.1 L458.0 814.7 L459.0 815.7 L460.0 814.6 L461.0 815.7 L462.0 814.7 L463.0 814.9 L464.0 815.0 L465.0 815.5 L466.0 815.2 L467.0 814.9 L468.0 814.6 L469.0 815.5 L470.0 815.1 L471.0 815.2 L472.0 815.0 L473.0 814.9 L474.0 815.3 L475.0 815.2 L476.0 815.5 L477.0 815.1 L478.0 814.5 L479.0 815.3 L480.0 815.0 L481.0 814.9 L482.0 813.8 L483.0 814.6 L484.0 814.9 L485.0 814.6 L486.0 814.9 L487.0 815.0 L488.0 814.7 L489.0 814.3 L490.0 814.8 L491.0 814.7 L492.0 814.3 L493.0 813.6 L494.0 813.7 L495.0 814.2 L496.0 813.6 L497.0 812.6 L498.0 812.7 L499.0 812.1 L500.0 811.3 L501.0 810.0 L502.0 808.6 L503.0 806.7 L504.0 805.4 L505.0 805.8 L506.0 807.5 L507.0 807.8 L508.0 810.2 L509.0 810.5 L510.0 811.5 L511.0 812.8 L512.0 812.9 L513.0 813.5 L514.0 813.4 L515.0 814.1 L516.0 814.6 L517.0 813.8 L518.0 814.7 L519.0 814.7 L520.0 814.9 L521.0 813.8 L522.0 815.0 L523.0 814.3 L524.0 814.7 L525.0 814.6 L526.0 814.4 L527.0 814.5 L528.0 814.6 L529.0 814.9 L530.0 815.1 L531.0 814.8 L532.0 815.2 L533.0 815.0 L534.0 815.3 L535.0 814.4 L536.0 815.0 L537.0 814.9 L538.0 815.0 L539.0 815.1 L540.0 815.2 L541.0 815.0 L542.0 815.1 L543.0 814.8 L544.0 814.9 L545.0 814.7 L546.0 815.4 L547.0 815.2 L548.0 815.4 L549.0 814.8 L550.0 814.9 L551.0 815.9 L552.0 815.4 L553.0 814.4 L554.0 815.2 L555.0 815.1 L556.0 814.8 L557.0 814.8 L558.0 814.6 L559.0 814.7 L560.0 814.7 L561.0 814.5 L562.0 814.8 L563.0 814.6 L564.0 815.2 L565.0 815.3 L566.0 814.9 L567.0 814.8 L568.0 815.2 L569.0 814.9 L570.0 815.7 L571.0 813.9 L572.0 814.0 L573.0 814.5 L574.0 815.1 L575.0 815.2 L576.0 814.7 L577.0 814.9 L578.0 814.8 L579.0 815.1 L580.0 815.7 L581.0 814.0 L582.0 815.7 L583.0 815.3 L584.0 814.8 L585.0 815.1 L586.0 814.9 L587.0 815.1 L588.0 815.1 L589.0 815.2 L590.0 814.5 L591.0 815.1 L592.0 814.6 L593.0 814.8 L594.0 815.2 L595.0 814.7 L596.0 815.0 L597.0 815.0 L598.0 814.9 L599.0 814.4 L600.0 815.0 L601.0 814.9 L602.0 815.7 L603.0 814.4 L604.0 815.2 L605.0 814.7 L606.0 814.7 L607.0 815.5 L608.0 814.8 L609.0 815.1 L610.0 814.9 L611.0 814.5 L612.0 814.7 L613.0 814.6 L614.0 814.7 L615.0 815.5 L616.0 815.0 L617.0 814.1 L618.0 815.5 L619.0 814.9 L620.0 815.1 L621.0 815.3 L622.0 814.4 L623.0 814.9 L624.0 814.7 L625.0 814.6 L626.0 814.6 L627.0 814.8 L628.0 815.2 L629.0 815.0 L630.0 814.8 L631.0 815.1 L632.0 813.8 L633.0 814.7 L634.0 814.8 L635.0 814.8 L636.0 815.2 L637.0 814.7 L638.0 815.1 L639.0 814.5 L640.0 814.9 L641.0 814.6 L642.0 814.5 L643.0 814.8 L644.0 814.8 L645.0 814.2 L646.0 814.9 L647.0 814.4 L648.0 814.5 L649.0 813.4 L650.0 814.4 L651.0 813.7 L652.0 814.7 L653.0 814.1 L654.0 814.2 L655.0 814.3 L656.0 813.8 L657.0 814.3 L658.0 813.8 L659.0 814.1 L660.0 814.5 L661.0 814.6 L662.0 814.6 L663.0 814.0 L664.0 813.6 L665.0 814.1 L666.0 814.5 L667.0 813.5 L668.0 814.3 L669.0 813.6 L670.0 812.6 L671.0 813.5 L672.0 814.1 L673.0 813.5 L674.0 813.5 L675.0 813.1 L676.0 812.1 L677.0 811.7 L678.0 811.9 L679.0 811.9 L680.0 811.3 L681.0 811.0 L682.0 811.1 L683.0 810.8 L684.0 808.9 L685.0 808.2 L686.0 807.3 L687.0 805.6 L688.0 802.6 L689.0 801.6 L690.0 796.6 L691.0 791.0 L692.0 783.3 L693.0 776.1 L694.0 767.4 L695.0 762.4 L696.0 761.7 L697.0 766.4 L698.0 774.4 L699.0 782.2 L700.0 789.7 L701.0 794.4 L702.0 799.9 L703.0 802.8 L704.0 806.2 L705.0 807.0 L706.0 807.3 L707.0 809.8 L708.0 809.7 L709.0 810.1 L710.0 811.0 L711.0 811.9 L712.0 812.5 L713.0 811.9 L714.0 812.4 L715.0 812.6 L716.0 812.4 L717.0 812.6 L718.0 812.9 L719.0 813.0 L720.0 813.6 L721.0 812.5 L722.0 813.5 L723.0 813.5 L724.0 813.9 L725.0 813.3 L726.0 813.4 L727.0 813.6 L728.0 813.4 L729.0 813.4 L730.0 813.4 L731.0 813.4 L732.0 813.3 L733.0 813.4 L734.0 813.4 L735.0 813.4 L736.0 813.2 L737.0 814.0 L738.0 813.8 L739.0 813.6 L740.0 813.2 L741.0 813.9 L742.0 813.5 L743.0 813.6 L744.0 813.6 L745.0 813.5 L746.0 813.9 L747.0 813.2 L748.0 813.2 L749.0 813.5 L750.0 813.3 L751.0 813.5 L752.0 813.6 L753.0 813.7 L754.0 813.5 L755.0 812.9 L756.0 812.9 L757.0 812.7 L758.0 813.2 L759.0 812.5 L760.0 812.1 L761.0 811.8 L762.0 812.3 L763.0 811.4 L764.0 810.4 L765.0 811.3 L766.0 810.7 L767.0 810.2 L768.0 809.4 L769.0 808.1 L770.0 806.5 L771.0 804.3 L772.0 801.3 L773.0 797.4 L774.0 793.5 L775.0 790.5 L776.0 787.9 L777.0 787.2 L778.0 789.1 L779.0 793.3 L780.0 796.8 L781.0 800.2 L782.0 802.7 L783.0 804.4 L784.0 805.9 L785.0 807.4 L786.0 808.5 L787.0 809.0 L788.0 808.5 L789.0 808.8 L790.0 808.6 L791.0 808.6 L792.0 808.5 L793.0 808.4 L794.0 807.2 L795.0 807.8 L796.0 806.4 L797.0 805.3 L798.0 805.6 L799.0 803.2 L800.0 802.1 L801.0 800.0 L802.0 798.3 L803.0 793.8 L804.0 790.7 L805.0 784.2 L806.0 777.1 L807.0 765.3 L808.0 747.7 L809.0 723.2 L810.0 692.9 L811.0 658.1 L812.0 628.9 L813.0 623.0 L814.0 644.7 L815.0 677.9 L816.0 711.7 L817.0 738.6 L818.0 758.4 L819.0 772.6 L820.0 781.8 L821.0 788.1 L822.0 792.7 L823.0 796.7 L824.0 799.5 L825.0 801.8 L826.0 803.3 L827.0 803.8 L828.0 805.6 L829.0 806.0 L830.0 807.5 L831.0 807.5 L832.0 808.0 L833.0 808.3 L834.0 809.3 L835.0 809.2 L836.0 810.5 L837.0 810.1 L838.0 809.3 L839.0 809.9 L840.0 810.4 L841.0 810.3 L842.0 810.3 L843.0 810.1 L844.0 809.4 L845.0 809.4 L846.0 810.1 L847.0 809.4 L848.0 809.5 L849.0 809.5 L850.0 808.2 L851.0 807.8 L852.0 808.3 L853.0 807.3 L854.0 806.7 L855.0 806.5 L856.0 804.9 L857.0 803.8 L858.0 802.4 L859.0 799.6 L860.0 798.3 L861.0 794.3 L862.0 788.9 L863.0 782.5 L864.0 771.4 L865.0 756.8 L866.0 736.3 L867.0 710.5 L868.0 681.3 L869.0 659.5 L870.0 656.8 L871.0 676.3 L872.0 705.1 L873.0 732.3 L874.0 753.8 L875.0 769.5 L876.0 780.2 L877.0 787.5 L878.0 793.7 L879.0 796.9 L880.0 800.3 L881.0 802.3 L882.0 804.0 L883.0 805.4 L884.0 806.7 L885.0 807.0 L886.0 808.3 L887.0 809.2 L888.0 809.6 L889.0 810.2 L890.0 810.1 L891.0 810.5 L892.0 811.6 L893.0 811.3 L894.0 811.4 L895.0 811.9 L896.0 811.4 L897.0 811.9 L898.0 812.2 L899.0 812.2 L900.0 812.9 L901.0 812.6 L902.0 812.8 L903.0 812.3 L904.0 812.7 L905.0 812.7 L906.0 813.0 L907.0 813.1 L908.0 812.9 L909.0 813.2 L910.0 813.8 L911.0 813.1 L912.0 812.9 L913.0 813.6 L914.0 813.7 L915.0 813.3 L916.0 813.6 L917.0 812.5 L918.0 813.4 L919.0 813.2 L920.0 814.1 L921.0 813.4 L922.0 814.0 L923.0 813.2 L924.0 813.2 L925.0 813.1 L926.0 812.9 L927.0 813.1 L928.0 813.7 L929.0 812.7 L930.0 813.3 L931.0 813.7 L932.0 813.3 L933.0 813.4 L934.0 813.3 L935.0 813.4 L936.0 812.4 L937.0 813.6 L938.0 813.2 L939.0 812.8 L940.0 812.8 L941.0 812.8 L942.0 813.1 L943.0 812.3 L944.0 812.2 L945.0 812.0 L946.0 812.8 L947.0 812.0 L948.0 812.2 L949.0 811.6 L950.0 811.8 L951.0 811.4 L952.0 811.1 L953.0 811.5 L954.0 810.8 L955.0 810.0 L956.0 810.8 L957.0 809.0 L958.0 808.3 L959.0 807.3 L960.0 807.6 L961.0 805.8 L962.0 804.3 L963.0 802.4 L964.0 799.2 L965.0 795.6 L966.0 790.8 L967.0 783.5 L968.0 775.0 L969.0 764.4 L970.0 753.2 L971.0 744.1 L972.0 739.4 L973.0 742.2 L974.0 750.2 L975.0 761.8 L976.0 772.5 L977.0 781.8 L978.0 789.1 L979.0 794.5 L980.0 798.5 L981.0 801.7 L982.0 803.9 L983.0 805.8 L984.0 806.1 L985.0 808.2 L986.0 809.4 L987.0 809.8 L988.0 809.7 L989.0 810.0 L990.0 810.7 L991.0 811.6 L992.0 811.5 L993.0 810.9 L994.0 810.6 L995.0 812.1 L996.0 813.1 L997.0 811.8 L998.0 812.3 L999.0 812.7 L1000.0 812.9 L1001.0 813.2 L1002.0 812.3 L1003.0 813.1 L1004.0 812.8 L1005.0 813.5 L1006.0 813.4 L1007.0 813.7 L1008.0 812.8 L1009.0 812.9 L1010.0 813.1 L1011.0 813.3 L1012.0 813.2 L1013.0 813.0 L1014.0 813.3 L1015.0 812.9 L1016.0 814.0 L1017.0 813.4 L1018.0 813.1 L1019.0 813.7 L1020.0 813.1 L1021.0 813.8 L1022.0 813.6 L1023.0 814.4 L1024.0 813.9 L1025.0 813.4 L1026.0 814.1 L1027.0 813.8 L1028.0 814.0 L1029.0 812.6 L1030.0 813.6 L1031.0 813.6 L1032.0 814.3 L1033.0 813.4 L1034.0 813.9 L1035.0 813.7 L1036.0 813.3 L1037.0 813.6 L1038.0 814.0 L1039.0 813.7 L1040.0 813.8 L1041.0 813.8 L1042.0 813.8 L1043.0 813.9 L1044.0 813.8 L1045.0 813.2 L1046.0 813.7 L1047.0 813.8 L1048.0 814.4 L1049.0 813.4 L1050.0 814.4 L1051.0 813.6 L1052.0 814.4 L1053.0 813.0 L1054.0 813.6 L1055.0 812.9 L1056.0 813.2 L1057.0 813.6 L1058.0 813.9 L1059.0 813.4 L1060.0 813.8 L1061.0 813.3 L1062.0 814.3 L1063.0 813.4 L1064.0 814.4 L1065.0 814.3 L1066.0 813.2 L1067.0 813.7 L1068.0 813.3 L1069.0 814.0 L1070.0 813.6 L1071.0 814.1 L1072.0 813.3 L1073.0 813.2 L1074.0 813.0 L1075.0 813.3 L1076.0 813.4 L1077.0 813.2 L1078.0 813.2 L1079.0 813.3 L1080.0 812.9 L1081.0 812.6 L1082.0 812.4 L1083.0 812.5 L1084.0 812.5 L1085.0 812.9 L1086.0 812.7 L1087.0 812.0 L1088.0 812.3 L1089.0 811.5 L1090.0 812.0 L1091.0 810.8 L1092.0 811.5 L1093.0 810.8 L1094.0 810.6 L1095.0 810.0 L1096.0 809.1 L1097.0 808.9 L1098.0 808.0 L1099.0 807.3 L1100.0 805.9 L1101.0 804.4 L1102.0 801.8 L1103.0 798.1 L1104.0 794.8 L1105.0 788.9 L1106.0 782.6 L1107.0 775.6 L1108.0 768.2 L1109.0 763.4 L1110.0 763.1 L1111.0 765.9 L1112.0 771.9 L1113.0 778.1 L1114.0 785.1 L1115.0 787.8 L1116.0 790.4 L1117.0 791.2 L1118.0 790.8 L1119.0 788.0 L1120.0 784.5 L1121.0 780.5 L1122.0 776.4 L1123.0 774.2 L1124.0 775.2 L1125.0 780.0 L1126.0 785.2 L1127.0 791.2 L1128.0 795.2 L1129.0 799.0 L1130.0 802.6 L1131.0 803.7 L1132.0 806.4 L1133.0 807.0 L1134.0 807.9 L1135.0 809.3 L1136.0 809.8 L1137.0 809.8 L1138.0 810.7 L1139.0 811.6 L1140.0 811.6 L1141.0 811.6 L1142.0 811.5 L1143.0 811.9 L1144.0 812.3 L1145.0 812.1 L1146.0 812.5 L1147.0 812.8 L1148.0 812.0 L1149.0 812.7 L1150.0 812.9 L1151.0 812.7 L1152.0 812.6 L1153.0 813.5 L1154.0 812.9 L1155.0 813.0 L1156.0 812.8 L1157.0 813.0 L1158.0 813.0 L1159.0 813.1 L1160.0 812.6 L1161.0 812.6 L1162.0 813.0 L1163.0 813.1 L1164.0 813.0 L1165.0 813.5 L1166.0 813.2 L1167.0 813.5 L1168.0 813.3 L1169.0 812.4 L1170.0 813.4 L1171.0 813.8 L1172.0 813.3 L1173.0 813.2 L1174.0 812.7 L1175.0 813.2 L1176.0 812.7 L1177.0 812.4 L1178.0 813.0 L1179.0 813.2 L1180.0 812.7 L1181.0 812.6 L1182.0 812.3 L1183.0 813.1 L1184.0 812.6 L1185.0 812.3 L1186.0 812.3 L1187.0 812.5 L1188.0 812.9 L1189.0 812.4 L1190.0 812.3 L1191.0 812.8 L1192.0 812.6 L1193.0 812.1 L1194.0 812.6 L1195.0 812.6 L1196.0 812.5 L1197.0 812.7 L1198.0 812.7 L1199.0 813.1 L1200.0 812.7 L1201.0 812.7 L1202.0 812.1 L1203.0 812.2 L1204.0 811.8 L1205.0 811.7 L1206.0 812.1 L1207.0 812.4 L1208.0 811.7 L1209.0 811.3 L1210.0 811.1 L1211.0 811.0 L1212.0 810.3 L1213.0 809.9 L1214.0 809.7 L1215.0 809.6 L1216.0 808.3 L1217.0 806.9 L1218.0 806.9 L1219.0 805.4 L1220.0 803.5 L1221.0 801.4 L1222.0 797.9 L1223.0 795.1 L1224.0 790.5 L1225.0 784.6 L1226.0 776.5 L1227.0 766.8 L1228.0 757.0 L1229.0 748.4 L1230.0 744.2 L1231.0 746.0 L1232.0 753.4 L1233.0 762.1 L1234.0 772.6 L1235.0 781.0 L1236.0 787.3 L1237.0 793.0 L1238.0 796.6 L1239.0 799.2 L1240.0 801.3 L1241.0 803.6 L1242.0 804.7 L1243.0 805.7 L1244.0 806.2 L1245.0 806.5 L1246.0 806.1 L1247.0 806.5 L1248.0 806.4 L1249.0 807.0 L1250.0 805.5 L1251.0 804.7 L1252.0 803.8 L1253.0 803.2 L1254.0 800.7 L1255.0 798.5 L1256.0 794.5 L1257.0 790.5 L1258.0 783.9 L1259.0 777.9 L1260.0 771.9 L1261.0 767.1 L1262.0 766.0 L1263.0 770.1 L1264.0 774.9 L1265.0 781.6 L1266.0 788.4 L1267.0 793.5 L1268.0 796.7 L1269.0 799.1 L1270.0 801.2 L1271.0 802.8 L1272.0 804.0 L1273.0 805.0 L1274.0 805.1 L1275.0 805.1 L1276.0 804.4 L1277.0 804.6 L1278.0 804.3 L1279.0 804.2 L1280.0 803.9 L1281.0 804.1 L1282.0 805.2 L1283.0 806.1 L1284.0 806.2 L1285.0 807.3 L1286.0 808.4 L1287.0 809.2 L1288.0 809.9 L1289.0 809.8 L1290.0 810.7 L1291.0 810.2 L1292.0 810.1 L1293.0 811.1 L1294.0 811.6 L1295.0 811.0 L1296.0 811.7 L1297.0 812.0 L1298.0 812.0 L1299.0 812.2 L1300.0 812.6 L1301.0 812.1 L1302.0 812.1 L1303.0 812.5 L1304.0 812.7 L1305.0 812.2 L1306.0 812.9 L1307.0 812.6 L1308.0 812.2 L1309.0 812.3 L1310.0 812.0 L1311.0 812.5 L1312.0 812.3 L1313.0 812.9 L1314.0 811.1 L1315.0 811.6 L1316.0 811.8 L1317.0 812.0 L1318.0 811.6 L1319.0 811.3 L1320.0 811.5 L1321.0 811.0 L1322.0 811.0 L1323.0 811.0 L1324.0 810.7 L1325.0 809.3 L1326.0 809.1 L1327.0 808.9 L1328.0 807.8 L1329.0 806.5 L1330.0 805.6 L1331.0 803.6 L1332.0 801.3 L1333.0 798.3 L1334.0 794.1 L1335.0 790.2 L1336.0 785.4 L1337.0 781.9 L1338.0 780.6 L1339.0 780.3 L1340.0 782.6 L1341.0 785.4 L1342.0 788.3 L1343.0 789.4 L1344.0 790.0 L1345.0 790.4 L1346.0 790.7 L1347.0 792.2 L1348.0 792.8 L1349.0 793.6 L1350.0 794.3 L1351.0 794.6 L1352.0 795.6 L1353.0 795.9 L1354.0 798.0 L1355.0 799.3 L1356.0 800.8 L1357.0 802.8 L1358.0 805.2 L1359.0 805.3 L1360.0 806.8 L1361.0 807.8 L1362.0 808.9 L1363.0 809.5 L1364.0 810.7 L1365.0 810.4 L1366.0 811.1 L1367.0 810.9 L1368.0 811.0 L1369.0 811.5 L1370.0 811.7 L1371.0 812.2 L1372.0 812.6 L1373.0 812.0 L1374.0 812.7 L1375.0 812.0 L1376.0 813.1 L1377.0 812.0 L1378.0 812.4 L1379.0 812.7 L1380.0 812.5 L1381.0 812.3 L1382.0 813.0 L1383.0 812.4 L1384.0 813.1 L1385.0 812.3 L1386.0 813.2 L1387.0 813.1 L1388.0 813.0 L1389.0 813.2 L1390.0 812.7 L1391.0 812.8 L1392.0 813.2 L1393.0 812.3 L1394.0 812.6 L1395.0 812.6 L1396.0 812.5 L1397.0 812.4 L1398.0 811.5 L1399.0 812.3 L1400.0 812.3 L1401.0 812.5 L1402.0 812.2 L1403.0 811.5 L1404.0 811.4 L1405.0 810.9 L1406.0 810.7 L1407.0 810.3 L1408.0 810.4 L1409.0 809.6 L1410.0 809.1 L1411.0 808.0 L1412.0 807.4 L1413.0 806.8 L1414.0 805.4 L1415.0 805.1 L1416.0 804.4 L1417.0 803.4 L1418.0 803.3 L1419.0 803.0 L1420.0 804.3 L1421.0 804.4 L1422.0 805.4 L1423.0 805.8 L1424.0 806.4 L1425.0 807.6 L1426.0 808.9 L1427.0 809.6 L1428.0 809.9 L1429.0 810.1 L1430.0 810.8 L1431.0 811.4 L1432.0 810.9 L1433.0 811.9 L1434.0 811.5 L1435.0 812.1 L1436.0 812.4 L1437.0 812.4 L1438.0 812.4 L1439.0 813.0 L1440.0 812.4 L1441.0 812.5 L1442.0 812.4 L1443.0 812.8 L1444.0 813.1 L1445.0 812.8 L1446.0 812.2 L1447.0 813.1 L1448.0 813.2 L1449.0 812.6 L1450.0 812.9 L1451.0 813.0 L1452.0 812.7 L1453.0 813.1 L1454.0 813.0 L1455.0 812.5 L1456.0 811.9 L1457.0 812.6 L1458.0 813.4 L1459.0 813.3 L1460.0 812.7 L1461.0 812.4 L1462.0 813.3 L1463.0 812.9 L1464.0 813.1 L1465.0 813.3 L1466.0 812.7 L1467.0 812.5 L1468.0 812.1 L1469.0 812.3 L1470.0 811.7 L1471.0 812.4 L1472.0 811.8 L1473.0 812.2 L1474.0 811.3 L1475.0 811.4 L1476.0 810.7 L1477.0 811.0 L1478.0 810.0 L1479.0 810.3 L1480.0 809.5 L1481.0 807.9 L1482.0 807.3 L1483.0 806.9 L1484.0 805.7 L1485.0 805.1 L1486.0 802.5 L1487.0 801.0 L1488.0 799.3 L1489.0 797.5 L1490.0 796.3 L1491.0 794.3 L1492.0 792.9 L1493.0 793.7 L1494.0 793.2 L1495.0 792.5 L1496.0 792.8 L1497.0 792.8 L1498.0 792.6 L1499.0 792.4 L1500.0 791.4 L1501.0 790.8 L1502.0 790.5 L1503.0 791.2 L1504.0 792.3 L1505.0 794.2 L1506.0 795.2 L1507.0 797.8 L1508.0 800.4 L1509.0 802.8 L1510.0 804.1 L1511.0 804.4 L1512.0 805.7 L1513.0 807.7 L1514.0 808.3 L1515.0 809.0 L1516.0 810.3 L1517.0 809.6 L1518.0 810.9 L1519.0 810.8 L1520.0 810.8 L1521.0 810.5 L1522.0 811.0 L1523.0 812.2 L1524.0 811.8 L1525.0 812.1 L1526.0 812.2 L1527.0 812.0 L1528.0 812.4 L1529.0 812.3 L1530.0 812.1 L1531.0 812.1 L1532.0 811.9 L1533.0 812.3 L1534.0 812.2 L1535.0 812.6 L1536.0 812.1 L1537.0 811.9 L1538.0 811.5 L1539.0 812.5 L1540.0 813.1 L1541.0 812.1 L1542.0 811.2 L1543.0 812.3 L1544.0 811.6 L1545.0 812.0 L1546.0 811.7 L1547.0 811.6 L1548.0 811.1 L1549.0 810.6 L1550.0 810.7 L1551.0 809.7 L1552.0 809.7 L1553.0 808.3 L1554.0 807.8 L1555.0 806.6 L1556.0 806.3 L1557.0 804.7 L1558.0 803.7 L1559.0 803.5 L1560.0 802.7 L1561.0 802.2 L1562.0 802.0 L1563.0 802.8 L1564.0 803.7 L1565.0 804.7 L1566.0 805.2 L1567.0 806.6 L1568.0 806.7 L1569.0 808.3 L1570.0 808.7 L1571.0 809.9 L1572.0 810.0 L1573.0 811.5 L1574.0 811.1 L1575.0 811.5 L1576.0 810.9 L1577.0 811.4 L1578.0 812.5 L1579.0 812.1 L1580.0 812.9 L1581.0 812.3 L1582.0 812.9 L1583.0 812.5 L1584.0 813.0 L1585.0 813.1 L1586.0 813.3 L1587.0 812.7 L1588.0 812.5 L1589.0 813.2 L1590.0 813.1 L1591.0 813.2 L1592.0 812.5 L1593.0 813.2 L1594.0 812.8 L1595.0 812.4 L1596.0 812.5 L1597.0 812.9 L1598.0 812.5 L1599.0 812.4 L1600.0 812.3 L1601.0 812.1 L1602.0 812.7 L1603.0 812.4 L1604.0 812.0 L1605.0 812.1 L1606.0 812.6 L1607.0 812.8 L1608.0 813.4 L1609.0 812.2 L1610.0 813.6 L1611.0 813.8 L1612.0 813.2 L1613.0 813.9 L1614.0 813.3 L1615.0 813.5 L1616.0 813.4 L1617.0 814.2 L1618.0 814.0 L1619.0 814.0 L1620.0 813.2 L1621.0 813.7 L1622.0 813.2 L1623.0 813.7 L1624.0 813.8 L1625.0 814.1 L1626.0 813.5 L1627.0 813.7 L1628.0 813.5 L1629.0 813.1 L1630.0 814.1 L1631.0 813.5 L1632.0 813.8 L1633.0 813.5 L1634.0 812.6 L1635.0 812.7 L1636.0 813.0 L1637.0 812.9 L1638.0 812.7 L1639.0 812.3 L1640.0 812.6 L1641.0 811.9 L1642.0 812.2 L1643.0 812.0 L1644.0 813.0 L1645.0 812.9 L1646.0 813.2 L1647.0 813.0 L1648.0 812.3 L1649.0 813.1 L1650.0 813.5 L1651.0 813.5 L1652.0 813.9 L1653.0 814.1 L1654.0 813.5 L1655.0 814.0 L1656.0 813.1 L1657.0 814.0 L1658.0 813.0 L1659.0 814.0 L1660.0 812.9 L1661.0 814.0 L1662.0 814.4 L1663.0 813.8 L1664.0 814.1 L1665.0 814.3 L1666.0 812.8 L1667.0 813.1 L1668.0 813.9 L1669.0 813.4 L1670.0 813.7 L1671.0 814.9 L1672.0 814.6 L1673.0 814.1 L1674.0 813.6 L1675.0 814.1 L1676.0 814.0 L1677.0 813.8 L1678.0 814.5 L1679.0 813.1 L1680.0 814.5 L1681.0 813.7 L1682.0 814.3 L1683.0 813.8 L1684.0 813.6 L1685.0 813.5 L1686.0 813.9 L1687.0 813.9 L1688.0 814.9 L1689.0 814.3 L1690.0 813.7 L1691.0 813.2 L1692.0 813.7 L1693.0 813.8 L1694.0 812.9 L1695.0 813.5 L1696.0 814.0 L1697.0 813.2 L1698.0 812.7 L1699.0 813.6 L1700.0 813.8 L1701.0 813.0 L1702.0 813.0 L1703.0 813.2 L1704.0 812.7 L1705.0 812.0 L1706.0 811.8 L1707.0 811.6 L1708.0 811.1 L1709.0 811.0 L1710.0 809.6 L1711.0 809.5 L1712.0 808.6 L1713.0 807.2 L1714.0 807.8 L1715.0 807.3 L1716.0 806.8 L1717.0 807.0 L1718.0 808.6 L1719.0 809.6 L1720.0 809.6 L1721.0 810.2 L1722.0 811.1 L1723.0 811.1 L1724.0 811.6 L1725.0 812.5 L1726.0 812.0 L1727.0 813.1 L1728.0 813.0 L1729.0 813.5 L1730.0 812.4 L1731.0 813.7 L1732.0 813.3 L1733.0 813.7 L1734.0 813.2 L1735.0 813.1 L1736.0 814.0 L1737.0 813.8 L1738.0 813.9 L1739.0 814.0 L1740.0 814.0 L1741.0 813.1 L1742.0 813.7 L1743.0 813.7 L1744.0 814.6 L1745.0 814.4 L1746.0 813.5 L1747.0 813.3 L1748.0 814.2 L1749.0 814.1 L1750.0 814.4 L1751.0 813.5 L1752.0 814.6 L1753.0 814.0 L1754.0 814.4 L1755.0 814.0 L1756.0 813.8 L1757.0 813.6 L1758.0 814.5 L1759.0 812.7 L1760.0 814.4 L1761.0 814.2 L1762.0 813.7 L1763.0 814.3 L1764.0 813.9 L1765.0 813.4 L1766.0 813.8 L1767.0 814.2 L1768.0 814.0 L1769.0 813.6 L1770.0 814.2 L1771.0 814.2 L1772.0 814.4 L1773.0 814.0 L1774.0 814.5 L1775.0 813.6 L1776.0 813.7 L1777.0 813.3 L1778.0 813.8 L1779.0 813.9 L1780.0 813.8 L1781.0 813.3 L1782.0 814.1 L1783.0 813.0 L1784.0 813.3 L1785.0 812.4 L1786.0 813.9 L1787.0 813.7 L1788.0 813.2 L1789.0 813.3 L1790.0 812.5 L1791.0 812.4 L1792.0 812.2 L1793.0 812.6 L1794.0 812.2 L1795.0 812.3 L1796.0 811.8 L1797.0 811.8 L1798.0 812.6 L1799.0 812.7 L1800.0 813.0 L1801.0 812.7 L1802.0 813.2 L1803.0 812.7 L1804.0 813.0 L1805.0 813.6 L1806.0 813.2 L1807.0 813.1 L1808.0 813.3 L1809.0 814.4 L1810.0 813.6 L1811.0 813.9 L1812.0 813.7 L1813.0 814.8 L1814.0 813.8 L1815.0 814.3 L1816.0 814.2 L1817.0 814.1 L1818.0 813.9 L1819.0 813.3 L1820.0 814.1 L1821.0 814.8 L1822.0 814.1 L1823.0 814.7 L1824.0 814.2 L1825.0 814.3 L1826.0 813.7 L1827.0 813.9 L1828.0 814.1 L1829.0 814.4 L1830.0 813.5 L1831.0 813.4 L1832.0 813.9 L1833.0 813.9 L1834.0 814.1 L1835.0 814.6 L1836.0 813.7 L1837.0 814.6 L1838.0 814.1 L1839.0 813.9 L1840.0 813.2 L1841.0 814.4 L1842.0 814.5 L1843.0 814.0 L1844.0 814.0 L1845.0 813.6 L1846.0 813.0 L1847.0 813.4 L1848.0 813.2 L1849.0 813.2 L1850.0 813.4 L1851.0 813.4 L1852.0 813.8 L1853.0 814.1 L1854.0 813.5 L1855.0 813.8 L1856.0 813.3 L1857.0 813.3 L1858.0 813.5 L1859.0 813.1 L1860.0 813.4 L1861.0 813.0 L1862.0 812.8 L1863.0 812.7 L1864.0 813.5 L1865.0 812.9 L1866.0 812.4 L1867.0 812.5 L1868.0 811.9 L1869.0 811.8 L1870.0 811.5 L1871.0 810.5 L1872.0 810.6 L1873.0 810.2 L1874.0 809.4 L1875.0 808.3 L1876.0 807.7 L1877.0 805.8 L1878.0 805.3 L1879.0 804.2 L1880.0 803.0 L1881.0 803.2 L1882.0 802.5 L1883.0 803.4 L1884.0 804.0 L1885.0 804.6 L1886.0 805.4 L1887.0 806.2 L1888.0 806.6 L1889.0 807.0 L1890.0 806.8 L1891.0 807.3 L1892.0 807.4 L1893.0 807.3 L1894.0 807.6 L1895.0 806.9 L1896.0 807.3 L1897.0 807.6 L1898.0 807.8 L1899.0 808.5 L1900.0 808.4 L1901.0 809.7 L1902.0 808.9 L1903.0 810.6 L1904.0 809.9 L1905.0 810.1 L1906.0 810.6 L1907.0 810.9 L1908.0 811.2 L1909.0 811.3 L1910.0 811.7 L1911.0 811.9 L1912.0 811.2 L1913.0 812.0 L1914.0 811.5 L1915.0 811.3 L1916.0 811.5 L1917.0 811.0 L1918.0 811.4 L1919.0 810.3 L1920.0 811.2 L1921.0 810.6 L1922.0 811.2 L1923.0 810.9 L1924.0 812.0 L1925.0 811.7 L1926.0 812.1 L1927.0 811.7 L1928.0 811.7 L1929.0 812.6 L1930.0 813.3 L1931.0 812.9 L1932.0 812.4 L1933.0 813.7 L1934.0 813.0 L1935.0 813.6 L1936.0 813.0 L1937.0 813.2 L1938.0 813.6 L1939.0 812.5 L1940.0 813.2 L1941.0 813.4 L1942.0 813.5 L1943.0 813.0 L1944.0 814.1 L1945.0 813.6 L1946.0 813.6 L1947.0 813.0 L1948.0 813.7 L1949.0 814.0 L1950.0 814.1 L1951.0 814.0 L1952.0 813.7 L1953.0 813.7 L1954.0 813.8 L1955.0 814.0 L1956.0 813.7 L1957.0 813.7 L1958.0 813.9 L1959.0 813.6 L1960.0 813.8 L1961.0 813.8 L1962.0 813.3 L1963.0 814.2 L1964.0 813.9 L1965.0 813.3 L1966.0 813.2 L1967.0 813.3 L1968.0 813.2 L1969.0 813.0 L1970.0 813.4 L1971.0 813.1 L1972.0 812.7 L1973.0 813.4 L1974.0 812.5 L1975.0 812.5 L1976.0 811.6 L1977.0 811.4 L1978.0 811.1 L1979.0 811.6 L1980.0 811.2 L1981.0 810.7 L1982.0 810.6 L1983.0 811.0 L1984.0 810.7 L1985.0 811.3 L1986.0 812.0 L1987.0 811.7 L1988.0 812.5 L1989.0 812.5 L1990.0 812.9 L1991.0 812.9 L1992.0 813.5 L1993.0 813.6 L1994.0 813.6 L1995.0 812.9 L1996.0 813.6 L1997.0 814.1 L1998.0 813.3 L1999.0 813.1 L2000.0 813.7 L2001.0 814.1 L2002.0 813.3 L2003.0 814.0 L2004.0 813.8 L2005.0 813.9 L2006.0 814.1 L2007.0 813.9 L2008.0 813.7 L2009.0 814.0 L2010.0 814.5 L2011.0 814.2 L2012.0 814.2 L2013.0 813.6 L2014.0 813.8 L2015.0 813.5 L2016.0 814.4 L2017.0 814.4 L2018.0 814.2 L2019.0 814.3 L2020.0 813.9 L2021.0 813.9 L2022.0 814.5 L2023.0 813.9 L2024.0 814.4 L2025.0 814.7 L2026.0 813.6 L2027.0 813.7 L2028.0 814.7 L2029.0 814.4 L2030.0 814.7 L2031.0 814.7 L2032.0 814.0 L2033.0 814.8 L2034.0 814.6 L2035.0 814.5 L2036.0 814.2 L2037.0 814.0 L2038.0 813.8 L2039.0 813.6 L2040.0 813.8 L2041.0 813.8 L2042.0 814.2 L2043.0 813.8 L2044.0 813.4 L2045.0 814.2 L2046.0 813.3 L2047.0 814.0 L2048.0 814.4 L2049.0 813.5 L2050.0 813.6 L2051.0 814.1 L2052.0 814.6 L2053.0 814.0 L2054.0 813.9 L2055.0 814.2 L2056.0 813.4 L2057.0 813.5 L2058.0 814.3 L2059.0 814.4 L2060.0 814.3 L2061.0 814.1 L2062.0 814.2 L2063.0 813.4 L2064.0 813.6 L2065.0 813.9 L2066.0 814.4 L2067.0 814.1 L2068.0 814.0 L2069.0 813.6 L2070.0 814.1 L2071.0 814.1 L2072.0 814.2 L2073.0 813.9 L2074.0 814.7 L2075.0 813.5 L2076.0 814.3 L2077.0 813.4 L2078.0 813.4 L2079.0 814.1 L2080.0 813.7 L2081.0 813.5 L2082.0 813.7 L2083.0 814.6 L2084.0 813.4 L2085.0 813.4 L2086.0 813.9 L2087.0 813.1 L2088.0 814.0 L2089.0 812.4 L2090.0 812.6 L2091.0 812.8 L2092.0 812.1 L2093.0 811.7 L2094.0 811.0 L2095.0 811.2 L2096.0 811.3 L2097.0 810.7 L2098.0 810.5 L2099.0 811.5 L2100.0 811.5 L2101.0 811.7 L2102.0 811.7 L2103.0 811.8 L2104.0 812.9 L2105.0 812.7 L2106.0 812.8 L2107.0 813.0 L2108.0 813.4 L2109.0 813.7 L2110.0 813.5 L2111.0 813.4 L2112.0 813.2 L2113.0 813.6 L2114.0 813.7 L2115.0 813.9 L2116.0 813.8 L2117.0 813.6 L2118.0 813.8 L2119.0 814.1 L2120.0 813.9 L2121.0 813.9 L2122.0 813.8 L2123.0 813.8 L2124.0 814.1 L2125.0 814.2 L2126.0 813.9 L2127.0 813.9 L2128.0 814.1 L2129.0 814.3 L2130.0 814.5 L2131.0 813.5 L2132.0 814.3 L2133.0 813.8 L2134.0 814.2 L2135.0 814.3 L2136.0 814.6 L2137.0 813.7 L2138.0 814.3 L2139.0 813.0 L2140.0 813.9 L2141.0 813.0 L2142.0 813.5 L2143.0 813.3 L2144.0 813.1 L2145.0 813.6 L2146.0 813.1 L2147.0 813.0 L2148.0 813.0 L2149.0 813.0 L2150.0 813.2 L2151.0 812.6 L2152.0 812.2 L2153.0 811.7 L2154.0 812.3 L2155.0 812.0 L2156.0 811.9 L2157.0 811.3 L2158.0 812.0 L2159.0 811.9 L2160.0 812.7 L2161.0 811.9 L2162.0 812.6 L2163.0 813.1 L2164.0 812.6 L2165.0 812.9 L2166.0 812.9 L2167.0 813.1 L2168.0 813.6 L2169.0 813.4 L2170.0 813.0 L2171.0 814.4 L2172.0 813.2 L2173.0 813.9 L2174.0 813.5 L2175.0 813.7 L2176.0 813.6 L2177.0 813.7 L2178.0 813.6 L2179.0 813.8 L2180.0 812.8 L2181.0 812.4 L2182.0 812.1 L2183.0 811.8 L2184.0 812.5 L2185.0 811.4 L2186.0 811.2 L2187.0 811.8 L2188.0 811.5 L2189.0 811.6 L2190.0 810.7 L2191.0 811.4 L2192.0 811.5 L2193.0 812.3 L2194.0 812.5 L2195.0 812.9 L2196.0 813.4 L2197.0 814.4 L2198.0 813.0 L2199.0 813.6 L2200.0 813.7 L2201.0 813.4 L2202.0 813.1 L2203.0 813.9 L2204.0 813.9 L2205.0 813.8 L2206.0 813.3 L2207.0 812.7 L2208.0 813.1 L2209.0 813.9 L2210.0 813.9 L2211.0 813.0 L2212.0 813.4 L2213.0 813.7 L2214.0 813.6 L2215.0 812.6 L2216.0 812.7 L2217.0 812.5 L2218.0 811.9 L2219.0 812.7 L2220.0 811.2 L2221.0 811.8 L2222.0 812.0 L2223.0 811.8 L2224.0 812.0 L2225.0 811.0 L2226.0 812.1 L2227.0 812.4 L2228.0 812.6 L2229.0 812.2 L2230.0 812.8 L2231.0 812.7 L2232.0 813.7 L2233.0 813.0 L2234.0 813.3 L2235.0 813.4 L2236.0 813.4 L2237.0 814.2 L2238.0 814.1 L2239.0 813.7 L2240.0 813.5 L2241.0 813.5 L2242.0 812.9 L2243.0 813.7 L2244.0 813.7 L2245.0 813.5 L2246.0 813.2 L2247.0 814.0 L2248.0 813.9 L2249.0 813.6 L2250.0 814.1 L2251.0 813.6 L2252.0 814.1 L2253.0 813.3 L2254.0 813.4 L2255.0 813.0 L2256.0 813.5 L2257.0 812.9 L2258.0 813.2 L2259.0 813.0 L2260.0 812.5 L2261.0 813.5 L2262.0 812.9 L2263.0 812.3 L2264.0 812.4 L2265.0 812.0 L2266.0 811.4 L2267.0 811.9 L2268.0 811.2 L2269.0 810.6 L2270.0 810.1 L2271.0 809.6 L2272.0 809.0 L2273.0 808.1 L2274.0 807.3 L2275.0 806.6 L2276.0 805.2 L2277.0 805.1 L2278.0 805.2 L2279.0 805.0 L2280.0 804.3 L2281.0 803.9 L2282.0 804.7 L2283.0 804.0 L2284.0 804.0 L2285.0 803.8 L2286.0 803.5 L2287.0 805.0 L2288.0 804.3 L2289.0 803.3 L2290.0 804.3 L2291.0 804.3 L2292.0 805.8 L2293.0 805.9 L2294.0 806.6 L2295.0 807.9 L2296.0 809.0 L2297.0 808.7 L2298.0 809.6 L2299.0 809.8 L2300.0 811.0 L2301.0 811.2 L2302.0 811.5 L2303.0 811.5 L2304.0 812.6 L2305.0 812.2 L2306.0 813.0 L2307.0 813.2 L2308.0 812.4 L2309.0 812.9 L2310.0 813.2 L2311.0 812.8 L2312.0 813.3 L2313.0 813.5 L2314.0 812.8 L2315.0 813.4 L2316.0 813.7 L2317.0 813.5 L2318.0 813.5 L2319.0 813.2 L2320.0 813.8 L2321.0 813.9 L2322.0 813.8 L2323.0 814.4 L2324.0 813.9 L2325.0 813.8 L2326.0 814.6 L2327.0 814.2 L2328.0 814.4 L2329.0 814.5 L2330.0 813.8 L2331.0 813.7 L2332.0 814.7 L2333.0 813.4 L2334.0 813.9 L2335.0 814.7 L2336.0 813.9 L2337.0 814.4 L2338.0 813.9 L2339.0 815.1 L2340.0 814.2 L2341.0 814.2 L2342.0 814.2 L2343.0 814.2 L2344.0 814.2" fill="none" stroke="#FF7A7A" stroke-width="11.0" stroke-linejoin="round" stroke-linecap="butt"/>
<path d="M198.0 613.0 L199.0 613.0 L200.0 613.0 L201.0 613.0 L202.0 613.5 L203.0 612.8 L204.0 612.0 L205.0 613.5 L206.0 613.1 L207.0 612.8 L208.0 613.2 L209.0 612.6 L210.0 612.5 L211.0 613.3 L212.0 612.7 L213.0 613.1 L214.0 612.9 L215.0 613.2 L216.0 613.0 L217.0 612.1 L218.0 613.2 L219.0 612.7 L220.0 613.3 L221.0 613.0 L222.0 613.5 L223.0 612.8 L224.0 612.1 L225.0 612.8 L226.0 613.1 L227.0 612.8 L228.0 612.7 L229.0 613.4 L230.0 612.8 L231.0 613.3 L232.0 612.9 L233.0 612.3 L234.0 612.5 L235.0 612.7 L236.0 613.0 L237.0 612.5 L238.0 612.3 L239.0 612.5 L240.0 612.6 L241.0 612.5 L242.0 612.6 L243.0 613.5 L244.0 612.9 L245.0 612.5 L246.0 612.8 L247.0 613.4 L248.0 613.1 L249.0 612.8 L250.0 612.3 L251.0 612.2 L252.0 612.7 L253.0 612.8 L254.0 612.2 L255.0 612.3 L256.0 612.8 L257.0 611.9 L258.0 612.1 L259.0 612.8 L260.0 613.0 L261.0 612.9 L262.0 613.1 L263.0 613.4 L264.0 613.1 L265.0 612.7 L266.0 613.6 L267.0 613.4 L268.0 613.1 L269.0 612.4 L270.0 612.9 L271.0 611.9 L272.0 612.6 L273.0 611.8 L274.0 612.6 L275.0 613.1 L276.0 612.7 L277.0 613.3 L278.0 612.7 L279.0 612.7 L280.0 612.6 L281.0 612.9 L282.0 612.7 L283.0 613.1 L284.0 613.3 L285.0 612.8 L286.0 612.2 L287.0 612.9 L288.0 613.2 L289.0 612.9 L290.0 612.7 L291.0 613.0 L292.0 613.1 L293.0 611.6 L294.0 613.2 L295.0 612.9 L296.0 612.8 L297.0 612.4 L298.0 612.7 L299.0 612.8 L300.0 612.0 L301.0 612.8 L302.0 612.5 L303.0 613.1 L304.0 612.7 L305.0 612.4 L306.0 612.5 L307.0 612.7 L308.0 612.5 L309.0 612.6 L310.0 612.1 L311.0 611.8 L312.0 612.1 L313.0 611.7 L314.0 611.9 L315.0 612.3 L316.0 611.4 L317.0 611.5 L318.0 612.1 L319.0 611.5 L320.0 611.6 L321.0 610.9 L322.0 610.7 L323.0 610.5 L324.0 610.7 L325.0 609.5 L326.0 607.7 L327.0 607.1 L328.0 605.8 L329.0 604.2 L330.0 602.6 L331.0 603.3 L332.0 605.3 L333.0 605.7 L334.0 607.6 L335.0 608.4 L336.0 609.1 L337.0 610.1 L338.0 611.1 L339.0 611.5 L340.0 611.0 L341.0 611.3 L342.0 611.3 L343.0 610.9 L344.0 612.0 L345.0 612.4 L346.0 612.4 L347.0 611.7 L348.0 612.4 L349.0 612.2 L350.0 611.6 L351.0 611.7 L352.0 611.5 L353.0 611.6 L354.0 612.0 L355.0 610.8 L356.0 610.6 L357.0 611.4 L358.0 611.1 L359.0 610.5 L360.0 611.0 L361.0 611.2 L362.0 611.5 L363.0 611.9 L364.0 612.3 L365.0 611.9 L366.0 612.1 L367.0 611.8 L368.0 612.5 L369.0 612.7 L370.0 612.1 L371.0 611.9 L372.0 613.0 L373.0 612.6 L374.0 611.9 L375.0 611.6 L376.0 612.1 L377.0 612.6 L378.0 611.9 L379.0 612.0 L380.0 611.9 L381.0 612.3 L382.0 612.5 L383.0 611.5 L384.0 611.9 L385.0 612.0 L386.0 611.9 L387.0 611.7 L388.0 612.5 L389.0 612.3 L390.0 612.5 L391.0 612.8 L392.0 612.1 L393.0 612.5 L394.0 612.2 L395.0 612.3 L396.0 612.5 L397.0 612.3 L398.0 611.8 L399.0 612.9 L400.0 612.4 L401.0 611.9 L402.0 611.5 L403.0 612.3 L404.0 612.6 L405.0 612.7 L406.0 612.8 L407.0 612.2 L408.0 612.6 L409.0 611.8 L410.0 612.4 L411.0 612.7 L412.0 612.1 L413.0 612.3 L414.0 612.4 L415.0 612.4 L416.0 612.9 L417.0 611.9 L418.0 612.8 L419.0 611.8 L420.0 612.1 L421.0 612.0 L422.0 612.3 L423.0 612.1 L424.0 612.5 L425.0 612.3 L426.0 613.1 L427.0 612.4 L428.0 612.2 L429.0 612.4 L430.0 612.5 L431.0 612.2 L432.0 611.9 L433.0 612.0 L434.0 612.4 L435.0 612.6 L436.0 612.5 L437.0 612.2 L438.0 612.5 L439.0 612.1 L440.0 612.4 L441.0 612.8 L442.0 612.7 L443.0 612.8 L444.0 612.1 L445.0 612.3 L446.0 611.9 L447.0 612.6 L448.0 612.1 L449.0 611.7 L450.0 612.0 L451.0 612.3 L452.0 611.4 L453.0 611.7 L454.0 612.6 L455.0 612.2 L456.0 612.2 L457.0 611.6 L458.0 612.8 L459.0 612.6 L460.0 612.5 L461.0 611.8 L462.0 612.4 L463.0 612.6 L464.0 612.0 L465.0 612.1 L466.0 612.0 L467.0 612.4 L468.0 612.0 L469.0 612.0 L470.0 611.6 L471.0 611.5 L472.0 612.5 L473.0 612.7 L474.0 612.4 L475.0 612.6 L476.0 611.9 L477.0 612.0 L478.0 612.2 L479.0 612.0 L480.0 612.6 L481.0 611.5 L482.0 611.7 L483.0 611.8 L484.0 611.6 L485.0 612.2 L486.0 611.1 L487.0 612.2 L488.0 612.1 L489.0 611.8 L490.0 612.2 L491.0 612.5 L492.0 611.6 L493.0 611.6 L494.0 611.4 L495.0 611.2 L496.0 610.6 L497.0 610.2 L498.0 610.2 L499.0 609.1 L500.0 608.8 L501.0 607.6 L502.0 605.8 L503.0 604.8 L504.0 603.9 L505.0 603.8 L506.0 605.1 L507.0 606.0 L508.0 607.4 L509.0 607.7 L510.0 609.5 L511.0 609.4 L512.0 610.2 L513.0 611.3 L514.0 611.7 L515.0 611.0 L516.0 610.8 L517.0 611.6 L518.0 611.4 L519.0 611.7 L520.0 611.1 L521.0 612.1 L522.0 612.3 L523.0 611.2 L524.0 611.5 L525.0 611.5 L526.0 612.1 L527.0 611.1 L528.0 611.9 L529.0 611.8 L530.0 611.6 L531.0 612.2 L532.0 611.2 L533.0 611.4 L534.0 611.6 L535.0 612.2 L536.0 611.8 L537.0 611.6 L538.0 612.1 L539.0 611.8 L540.0 611.7 L541.0 611.8 L542.0 612.1 L543.0 613.0 L544.0 611.5 L545.0 612.1 L546.0 611.9 L547.0 611.9 L548.0 612.5 L549.0 612.2 L550.0 612.2 L551.0 611.8 L552.0 611.6 L553.0 612.1 L554.0 611.8 L555.0 611.7 L556.0 612.2 L557.0 611.5 L558.0 611.7 L559.0 612.2 L560.0 611.9 L561.0 612.2 L562.0 611.6 L563.0 612.2 L564.0 611.7 L565.0 612.5 L566.0 612.2 L567.0 612.1 L568.0 612.5 L569.0 612.1 L570.0 611.7 L571.0 612.5 L572.0 612.1 L573.0 612.4 L574.0 612.0 L575.0 612.4 L576.0 611.6 L577.0 611.4 L578.0 611.4 L579.0 612.2 L580.0 611.2 L581.0 611.2 L582.0 611.4 L583.0 612.0 L584.0 612.1 L585.0 611.6 L586.0 612.2 L587.0 612.0 L588.0 612.3 L589.0 612.2 L590.0 611.6 L591.0 611.9 L592.0 611.8 L593.0 612.0 L594.0 611.9 L595.0 611.9 L596.0 612.1 L597.0 611.9 L598.0 612.1 L599.0 611.9 L600.0 611.8 L601.0 612.2 L602.0 612.2 L603.0 612.3 L604.0 612.1 L605.0 611.7 L606.0 611.9 L607.0 611.9 L608.0 611.1 L609.0 611.4 L610.0 612.4 L611.0 611.8 L612.0 610.7 L613.0 611.7 L614.0 611.8 L615.0 611.3 L616.0 612.6 L617.0 612.2 L618.0 612.1 L619.0 611.7 L620.0 611.9 L621.0 612.1 L622.0 611.9 L623.0 611.5 L624.0 611.8 L625.0 611.8 L626.0 611.8 L627.0 611.3 L628.0 611.8 L629.0 611.7 L630.0 611.8 L631.0 611.8 L632.0 611.1 L633.0 612.0 L634.0 611.9 L635.0 611.1 L636.0 611.6 L637.0 611.3 L638.0 611.5 L639.0 612.0 L640.0 611.8 L641.0 612.3 L642.0 611.6 L643.0 611.2 L644.0 611.6 L645.0 610.6 L646.0 612.2 L647.0 611.6 L648.0 611.7 L649.0 611.6 L650.0 611.2 L651.0 611.4 L652.0 611.2 L653.0 611.2 L654.0 611.5 L655.0 610.9 L656.0 612.0 L657.0 610.9 L658.0 611.6 L659.0 611.1 L660.0 610.8 L661.0 611.4 L662.0 611.3 L663.0 611.1 L664.0 611.1 L665.0 610.9 L666.0 611.2 L667.0 610.8 L668.0 611.0 L669.0 611.3 L670.0 610.3 L671.0 610.6 L672.0 610.4 L673.0 610.3 L674.0 610.0 L675.0 610.3 L676.0 610.3 L677.0 610.1 L678.0 609.3 L679.0 610.0 L680.0 609.8 L681.0 609.3 L682.0 608.5 L683.0 608.2 L684.0 608.7 L685.0 608.0 L686.0 606.7 L687.0 605.0 L688.0 604.3 L689.0 601.8 L690.0 599.5 L691.0 595.0 L692.0 590.6 L693.0 584.8 L694.0 579.6 L695.0 575.1 L696.0 575.3 L697.0 578.1 L698.0 583.3 L699.0 589.5 L700.0 594.3 L701.0 597.4 L702.0 601.2 L703.0 603.4 L704.0 605.1 L705.0 607.0 L706.0 606.8 L707.0 607.7 L708.0 607.6 L709.0 608.1 L710.0 608.8 L711.0 609.2 L712.0 609.4 L713.0 609.9 L714.0 610.1 L715.0 610.4 L716.0 610.0 L717.0 610.4 L718.0 610.0 L719.0 610.5 L720.0 610.6 L721.0 610.3 L722.0 609.3 L723.0 610.3 L724.0 611.6 L725.0 610.6 L726.0 610.4 L727.0 610.7 L728.0 611.1 L729.0 610.8 L730.0 610.6 L731.0 610.2 L732.0 610.6 L733.0 610.3 L734.0 610.9 L735.0 611.3 L736.0 611.1 L737.0 610.5 L738.0 610.3 L739.0 610.2 L740.0 610.8 L741.0 610.9 L742.0 610.9 L743.0 610.7 L744.0 610.1 L745.0 609.8 L746.0 611.0 L747.0 610.2 L748.0 611.2 L749.0 609.6 L750.0 610.0 L751.0 610.0 L752.0 610.4 L753.0 610.5 L754.0 609.9 L755.0 610.3 L756.0 609.5 L757.0 609.7 L758.0 609.3 L759.0 609.4 L760.0 609.2 L761.0 609.4 L762.0 610.3 L763.0 608.3 L764.0 608.4 L765.0 608.3 L766.0 607.6 L767.0 607.5 L768.0 605.7 L769.0 605.3 L770.0 603.2 L771.0 601.8 L772.0 598.9 L773.0 595.6 L774.0 591.4 L775.0 587.0 L776.0 584.6 L777.0 585.0 L778.0 586.8 L779.0 590.7 L780.0 593.7 L781.0 597.8 L782.0 600.6 L783.0 601.3 L784.0 603.7 L785.0 605.3 L786.0 605.0 L787.0 606.1 L788.0 606.0 L789.0 606.4 L790.0 606.0 L791.0 605.8 L792.0 605.8 L793.0 605.6 L794.0 605.2 L795.0 604.7 L796.0 604.9 L797.0 603.6 L798.0 602.6 L799.0 601.7 L800.0 601.1 L801.0 598.5 L802.0 597.6 L803.0 595.1 L804.0 591.8 L805.0 586.4 L806.0 579.3 L807.0 569.7 L808.0 555.4 L809.0 536.0 L810.0 509.7 L811.0 480.2 L812.0 456.2 L813.0 451.9 L814.0 469.5 L815.0 498.5 L816.0 525.8 L817.0 548.6 L818.0 565.0 L819.0 575.8 L820.0 583.6 L821.0 589.4 L822.0 593.5 L823.0 596.2 L824.0 598.9 L825.0 600.6 L826.0 602.2 L827.0 602.9 L828.0 603.5 L829.0 604.6 L830.0 604.7 L831.0 605.6 L832.0 605.7 L833.0 606.7 L834.0 605.6 L835.0 607.2 L836.0 607.4 L837.0 607.2 L838.0 607.5 L839.0 607.5 L840.0 608.0 L841.0 608.2 L842.0 607.5 L843.0 608.1 L844.0 607.2 L845.0 607.6 L846.0 607.5 L847.0 606.7 L848.0 607.1 L849.0 606.5 L850.0 606.8 L851.0 605.9 L852.0 605.1 L853.0 604.8 L854.0 604.8 L855.0 604.2 L856.0 603.3 L857.0 601.8 L858.0 601.1 L859.0 598.8 L860.0 596.7 L861.0 594.1 L862.0 589.4 L863.0 582.7 L864.0 574.8 L865.0 561.9 L866.0 544.3 L867.0 522.4 L868.0 496.7 L869.0 478.1 L870.0 475.9 L871.0 493.3 L872.0 516.3 L873.0 540.5 L874.0 559.1 L875.0 573.0 L876.0 581.9 L877.0 588.4 L878.0 593.8 L879.0 596.4 L880.0 599.1 L881.0 600.8 L882.0 602.5 L883.0 603.0 L884.0 604.2 L885.0 605.2 L886.0 605.9 L887.0 606.8 L888.0 607.0 L889.0 607.5 L890.0 607.6 L891.0 608.4 L892.0 607.9 L893.0 608.3 L894.0 608.0 L895.0 608.4 L896.0 609.2 L897.0 609.0 L898.0 608.5 L899.0 609.3 L900.0 609.3 L901.0 609.1 L902.0 609.7 L903.0 609.5 L904.0 609.7 L905.0 610.1 L906.0 609.6 L907.0 610.3 L908.0 609.8 L909.0 609.9 L910.0 610.5 L911.0 610.2 L912.0 609.9 L913.0 610.1 L914.0 610.2 L915.0 609.6 L916.0 610.4 L917.0 610.2 L918.0 609.7 L919.0 609.9 L920.0 610.6 L921.0 609.8 L922.0 611.1 L923.0 609.9 L924.0 610.3 L925.0 609.3 L926.0 610.2 L927.0 610.1 L928.0 610.4 L929.0 610.3 L930.0 610.1 L931.0 611.0 L932.0 610.5 L933.0 609.9 L934.0 610.3 L935.0 609.0 L936.0 609.9 L937.0 610.6 L938.0 609.8 L939.0 610.1 L940.0 609.5 L941.0 610.2 L942.0 609.9 L943.0 609.8 L944.0 610.1 L945.0 610.3 L946.0 609.9 L947.0 608.8 L948.0 609.5 L949.0 609.3 L950.0 608.6 L951.0 608.3 L952.0 608.5 L953.0 608.4 L954.0 608.2 L955.0 607.6 L956.0 607.6 L957.0 607.2 L958.0 606.5 L959.0 606.1 L960.0 605.0 L961.0 603.6 L962.0 603.0 L963.0 601.6 L964.0 600.1 L965.0 595.2 L966.0 591.7 L967.0 586.2 L968.0 579.7 L969.0 571.0 L970.0 562.5 L971.0 555.2 L972.0 551.0 L973.0 553.7 L974.0 561.3 L975.0 569.9 L976.0 577.4 L977.0 586.0 L978.0 590.7 L979.0 595.4 L980.0 598.4 L981.0 600.7 L982.0 602.4 L983.0 604.3 L984.0 604.8 L985.0 605.4 L986.0 606.3 L987.0 607.1 L988.0 606.8 L989.0 608.2 L990.0 607.9 L991.0 608.8 L992.0 609.2 L993.0 609.0 L994.0 609.3 L995.0 609.1 L996.0 609.1 L997.0 608.8 L998.0 609.6 L999.0 609.5 L1000.0 608.9 L1001.0 610.0 L1002.0 610.5 L1003.0 610.2 L1004.0 610.5 L1005.0 610.0 L1006.0 609.8 L1007.0 610.2 L1008.0 610.1 L1009.0 609.9 L1010.0 610.7 L1011.0 610.4 L1012.0 610.1 L1013.0 610.5 L1014.0 610.4 L1015.0 610.7 L1016.0 611.1 L1017.0 610.3 L1018.0 610.1 L1019.0 611.1 L1020.0 611.5 L1021.0 610.3 L1022.0 610.2 L1023.0 610.1 L1024.0 610.6 L1025.0 610.6 L1026.0 610.5 L1027.0 610.9 L1028.0 610.3 L1029.0 610.4 L1030.0 610.2 L1031.0 611.2 L1032.0 611.1 L1033.0 611.2 L1034.0 610.3 L1035.0 611.2 L1036.0 610.8 L1037.0 610.9 L1038.0 610.9 L1039.0 610.6 L1040.0 610.6 L1041.0 610.1 L1042.0 610.5 L1043.0 610.6 L1044.0 610.2 L1045.0 610.7 L1046.0 611.2 L1047.0 610.5 L1048.0 610.3 L1049.0 610.3 L1050.0 610.7 L1051.0 611.3 L1052.0 610.7 L1053.0 610.7 L1054.0 610.2 L1055.0 610.8 L1056.0 610.9 L1057.0 610.5 L1058.0 610.6 L1059.0 610.3 L1060.0 610.9 L1061.0 611.1 L1062.0 610.7 L1063.0 610.7 L1064.0 610.5 L1065.0 610.3 L1066.0 610.2 L1067.0 610.3 L1068.0 610.5 L1069.0 610.4 L1070.0 610.8 L1071.0 610.7 L1072.0 610.9 L1073.0 610.6 L1074.0 610.2 L1075.0 610.3 L1076.0 609.6 L1077.0 610.8 L1078.0 609.9 L1079.0 609.9 L1080.0 610.7 L1081.0 609.6 L1082.0 609.7 L1083.0 609.8 L1084.0 609.6 L1085.0 609.7 L1086.0 609.7 L1087.0 609.7 L1088.0 609.3 L1089.0 609.5 L1090.0 608.9 L1091.0 609.1 L1092.0 609.1 L1093.0 607.8 L1094.0 608.1 L1095.0 607.9 L1096.0 606.7 L1097.0 605.8 L1098.0 606.5 L1099.0 605.3 L1100.0 604.9 L1101.0 603.3 L1102.0 601.5 L1103.0 599.1 L1104.0 596.2 L1105.0 592.0 L1106.0 587.3 L1107.0 582.3 L1108.0 576.6 L1109.0 573.1 L1110.0 572.3 L1111.0 574.8 L1112.0 579.1 L1113.0 584.6 L1114.0 588.1 L1115.0 591.5 L1116.0 592.6 L1117.0 593.9 L1118.0 593.5 L1119.0 591.5 L1120.0 588.6 L1121.0 586.1 L1122.0 583.3 L1123.0 581.6 L1124.0 582.5 L1125.0 586.0 L1126.0 589.6 L1127.0 593.5 L1128.0 597.4 L1129.0 599.8 L1130.0 601.8 L1131.0 604.0 L1132.0 604.8 L1133.0 606.2 L1134.0 606.4 L1135.0 607.3 L1136.0 608.1 L1137.0 608.2 L1138.0 608.5 L1139.0 608.7 L1140.0 609.1 L1141.0 609.0 L1142.0 609.3 L1143.0 609.2 L1144.0 610.1 L1145.0 609.1 L1146.0 609.9 L1147.0 609.3 L1148.0 609.9 L1149.0 610.3 L1150.0 609.4 L1151.0 610.6 L1152.0 609.6 L1153.0 609.7 L1154.0 610.1 L1155.0 609.6 L1156.0 610.4 L1157.0 610.3 L1158.0 609.1 L1159.0 609.6 L1160.0 609.9 L1161.0 610.3 L1162.0 609.8 L1163.0 609.9 L1164.0 610.4 L1165.0 609.8 L1166.0 610.3 L1167.0 609.7 L1168.0 610.6 L1169.0 610.8 L1170.0 609.8 L1171.0 609.3 L1172.0 609.6 L1173.0 610.5 L1174.0 609.9 L1175.0 610.5 L1176.0 609.6 L1177.0 609.7 L1178.0 609.9 L1179.0 610.3 L1180.0 609.8 L1181.0 609.4 L1182.0 609.8 L1183.0 609.7 L1184.0 609.8 L1185.0 609.5 L1186.0 609.4 L1187.0 609.6 L1188.0 608.7 L1189.0 609.8 L1190.0 610.2 L1191.0 610.0 L1192.0 609.4 L1193.0 609.2 L1194.0 610.3 L1195.0 609.6 L1196.0 609.7 L1197.0 609.8 L1198.0 609.5 L1199.0 609.6 L1200.0 610.1 L1201.0 609.3 L1202.0 610.2 L1203.0 609.5 L1204.0 609.4 L1205.0 609.5 L1206.0 609.4 L1207.0 609.3 L1208.0 609.0 L1209.0 608.4 L1210.0 609.0 L1211.0 608.1 L1212.0 607.6 L1213.0 608.0 L1214.0 607.5 L1215.0 606.8 L1216.0 606.4 L1217.0 606.0 L1218.0 605.7 L1219.0 604.0 L1220.0 602.4 L1221.0 601.0 L1222.0 599.3 L1223.0 596.2 L1224.0 592.2 L1225.0 587.9 L1226.0 581.7 L1227.0 574.0 L1228.0 566.3 L1229.0 559.1 L1230.0 555.6 L1231.0 557.2 L1232.0 562.5 L1233.0 570.8 L1234.0 578.3 L1235.0 584.7 L1236.0 590.3 L1237.0 594.4 L1238.0 597.2 L1239.0 599.5 L1240.0 601.1 L1241.0 603.2 L1242.0 603.0 L1243.0 604.2 L1244.0 605.1 L1245.0 604.7 L1246.0 605.0 L1247.0 605.1 L1248.0 604.8 L1249.0 605.8 L1250.0 605.1 L1251.0 604.3 L1252.0 603.9 L1253.0 603.4 L1254.0 602.0 L1255.0 600.2 L1256.0 598.5 L1257.0 595.2 L1258.0 591.9 L1259.0 588.1 L1260.0 583.8 L1261.0 581.3 L1262.0 580.5 L1263.0 583.7 L1264.0 586.2 L1265.0 590.6 L1266.0 593.8 L1267.0 596.7 L1268.0 599.5 L1269.0 601.1 L1270.0 602.4 L1271.0 603.3 L1272.0 604.1 L1273.0 604.8 L1274.0 604.8 L1275.0 604.0 L1276.0 604.4 L1277.0 604.1 L1278.0 602.9 L1279.0 602.8 L1280.0 602.9 L1281.0 603.9 L1282.0 603.5 L1283.0 604.0 L1284.0 605.3 L1285.0 605.3 L1286.0 606.0 L1287.0 606.8 L1288.0 607.1 L1289.0 606.5 L1290.0 607.3 L1291.0 608.4 L1292.0 607.8 L1293.0 609.0 L1294.0 608.7 L1295.0 608.9 L1296.0 609.1 L1297.0 608.4 L1298.0 608.9 L1299.0 608.8 L1300.0 609.3 L1301.0 609.9 L1302.0 609.2 L1303.0 609.4 L1304.0 608.6 L1305.0 609.2 L1306.0 609.3 L1307.0 609.3 L1308.0 609.6 L1309.0 609.9 L1310.0 609.3 L1311.0 609.4 L1312.0 608.7 L1313.0 609.4 L1314.0 609.2 L1315.0 608.4 L1316.0 609.1 L1317.0 608.7 L1318.0 609.2 L1319.0 608.9 L1320.0 608.6 L1321.0 609.0 L1322.0 608.1 L1323.0 607.9 L1324.0 607.7 L1325.0 607.4 L1326.0 606.6 L1327.0 606.7 L1328.0 606.0 L1329.0 604.7 L1330.0 603.3 L1331.0 602.8 L1332.0 601.0 L1333.0 598.4 L1334.0 595.5 L1335.0 592.4 L1336.0 588.4 L1337.0 586.1 L1338.0 584.1 L1339.0 584.2 L1340.0 586.1 L1341.0 587.8 L1342.0 589.5 L1343.0 590.8 L1344.0 590.6 L1345.0 591.1 L1346.0 591.7 L1347.0 592.0 L1348.0 591.8 L1349.0 591.9 L1350.0 593.2 L1351.0 592.2 L1352.0 592.4 L1353.0 593.1 L1354.0 595.6 L1355.0 596.2 L1356.0 598.4 L1357.0 600.1 L1358.0 602.2 L1359.0 602.5 L1360.0 604.2 L1361.0 605.2 L1362.0 606.4 L1363.0 606.4 L1364.0 607.1 L1365.0 607.3 L1366.0 608.2 L1367.0 608.4 L1368.0 608.1 L1369.0 608.7 L1370.0 608.1 L1371.0 608.8 L1372.0 608.6 L1373.0 608.9 L1374.0 609.5 L1375.0 610.0 L1376.0 609.3 L1377.0 609.3 L1378.0 609.3 L1379.0 609.7 L1380.0 609.4 L1381.0 609.9 L1382.0 610.1 L1383.0 609.8 L1384.0 609.4 L1385.0 609.8 L1386.0 609.3 L1387.0 608.9 L1388.0 610.0 L1389.0 610.2 L1390.0 610.0 L1391.0 609.3 L1392.0 608.1 L1393.0 609.1 L1394.0 609.6 L1395.0 609.1 L1396.0 609.7 L1397.0 608.8 L1398.0 609.2 L1399.0 609.0 L1400.0 608.8 L1401.0 608.0 L1402.0 608.3 L1403.0 608.2 L1404.0 607.7 L1405.0 607.0 L1406.0 606.9 L1407.0 606.3 L1408.0 606.2 L1409.0 605.8 L1410.0 604.8 L1411.0 604.0 L1412.0 602.9 L1413.0 602.0 L1414.0 600.2 L1415.0 599.9 L1416.0 599.3 L1417.0 598.1 L1418.0 598.2 L1419.0 597.5 L1420.0 598.5 L1421.0 599.1 L1422.0 600.3 L1423.0 601.2 L1424.0 603.0 L1425.0 601.9 L1426.0 603.5 L1427.0 604.6 L1428.0 605.6 L1429.0 606.0 L1430.0 606.5 L1431.0 606.6 L1432.0 607.1 L1433.0 607.6 L1434.0 608.8 L1435.0 608.1 L1436.0 609.7 L1437.0 609.2 L1438.0 608.8 L1439.0 609.4 L1440.0 609.5 L1441.0 608.8 L1442.0 608.7 L1443.0 609.9 L1444.0 609.1 L1445.0 609.8 L1446.0 609.8 L1447.0 608.9 L1448.0 609.8 L1449.0 609.8 L1450.0 610.1 L1451.0 609.6 L1452.0 609.8 L1453.0 609.8 L1454.0 609.5 L1455.0 610.3 L1456.0 610.0 L1457.0 610.2 L1458.0 609.7 L1459.0 610.0 L1460.0 609.2 L1461.0 609.3 L1462.0 609.9 L1463.0 609.3 L1464.0 609.2 L1465.0 609.4 L1466.0 608.6 L1467.0 609.2 L1468.0 609.3 L1469.0 608.9 L1470.0 608.5 L1471.0 609.4 L1472.0 608.8 L1473.0 608.1 L1474.0 608.0 L1475.0 607.4 L1476.0 607.1 L1477.0 606.7 L1478.0 606.8 L1479.0 606.8 L1480.0 606.4 L1481.0 605.4 L1482.0 605.0 L1483.0 603.9 L1484.0 602.1 L1485.0 600.9 L1486.0 599.8 L1487.0 598.3 L1488.0 596.6 L1489.0 593.8 L1490.0 591.9 L1491.0 592.2 L1492.0 590.5 L1493.0 590.7 L1494.0 590.4 L1495.0 590.1 L1496.0 591.3 L1497.0 590.9 L1498.0 591.2 L1499.0 590.5 L1500.0 589.5 L1501.0 589.5 L1502.0 589.9 L1503.0 589.7 L1504.0 591.1 L1505.0 593.0 L1506.0 593.9 L1507.0 596.2 L1508.0 598.3 L1509.0 600.3 L1510.0 601.4 L1511.0 602.5 L1512.0 604.1 L1513.0 604.6 L1514.0 605.7 L1515.0 606.4 L1516.0 606.7 L1517.0 607.5 L1518.0 608.0 L1519.0 607.3 L1520.0 608.3 L1521.0 608.2 L1522.0 608.4 L1523.0 608.7 L1524.0 609.2 L1525.0 608.9 L1526.0 608.9 L1527.0 608.6 L1528.0 609.1 L1529.0 609.3 L1530.0 608.9 L1531.0 609.2 L1532.0 609.6 L1533.0 610.0 L1534.0 609.3 L1535.0 610.2 L1536.0 609.9 L1537.0 609.8 L1538.0 609.7 L1539.0 609.5 L1540.0 609.3 L1541.0 609.4 L1542.0 609.5 L1543.0 609.4 L1544.0 609.9 L1545.0 610.0 L1546.0 609.3 L1547.0 609.4 L1548.0 608.6 L1549.0 607.9 L1550.0 608.4 L1551.0 608.2 L1552.0 608.3 L1553.0 608.3 L1554.0 607.0 L1555.0 606.9 L1556.0 606.3 L1557.0 605.3 L1558.0 605.0 L1559.0 604.3 L1560.0 604.4 L1561.0 603.2 L1562.0 602.8 L1563.0 604.0 L1564.0 604.8 L1565.0 605.4 L1566.0 605.4 L1567.0 606.4 L1568.0 606.5 L1569.0 607.5 L1570.0 607.4 L1571.0 607.7 L1572.0 608.8 L1573.0 608.3 L1574.0 608.4 L1575.0 609.5 L1576.0 609.4 L1577.0 608.7 L1578.0 610.1 L1579.0 609.3 L1580.0 609.7 L1581.0 609.9 L1582.0 610.8 L1583.0 610.0 L1584.0 610.4 L1585.0 610.1 L1586.0 610.4 L1587.0 609.7 L1588.0 610.2 L1589.0 610.0 L1590.0 609.9 L1591.0 610.4 L1592.0 610.6 L1593.0 610.4 L1594.0 610.1 L1595.0 610.5 L1596.0 609.7 L1597.0 610.2 L1598.0 610.3 L1599.0 610.0 L1600.0 609.9 L1601.0 610.1 L1602.0 609.8 L1603.0 610.0 L1604.0 610.4 L1605.0 609.5 L1606.0 610.7 L1607.0 610.5 L1608.0 610.5 L1609.0 610.0 L1610.0 610.3 L1611.0 610.3 L1612.0 610.8 L1613.0 610.8 L1614.0 611.0 L1615.0 610.6 L1616.0 609.8 L1617.0 610.2 L1618.0 610.5 L1619.0 610.7 L1620.0 610.0 L1621.0 610.5 L1622.0 610.6 L1623.0 610.4 L1624.0 610.5 L1625.0 611.4 L1626.0 610.5 L1627.0 611.3 L1628.0 610.6 L1629.0 610.2 L1630.0 610.6 L1631.0 610.2 L1632.0 610.3 L1633.0 609.4 L1634.0 610.3 L1635.0 609.8 L1636.0 610.3 L1637.0 609.8 L1638.0 609.5 L1639.0 609.2 L1640.0 609.5 L1641.0 609.4 L1642.0 609.3 L1643.0 610.4 L1644.0 609.7 L1645.0 610.3 L1646.0 610.6 L1647.0 610.3 L1648.0 610.5 L1649.0 610.5 L1650.0 610.8 L1651.0 610.7 L1652.0 610.7 L1653.0 610.6 L1654.0 610.4 L1655.0 610.4 L1656.0 610.4 L1657.0 610.7 L1658.0 611.1 L1659.0 610.3 L1660.0 610.4 L1661.0 610.3 L1662.0 610.7 L1663.0 611.1 L1664.0 610.6 L1665.0 610.8 L1666.0 609.8 L1667.0 610.7 L1668.0 610.9 L1669.0 610.5 L1670.0 610.1 L1671.0 610.9 L1672.0 610.7 L1673.0 611.4 L1674.0 610.5 L1675.0 610.6 L1676.0 610.6 L1677.0 610.7 L1678.0 610.0 L1679.0 611.2 L1680.0 610.9 L1681.0 610.6 L1682.0 610.5 L1683.0 610.8 L1684.0 610.8 L1685.0 610.5 L1686.0 610.5 L1687.0 610.7 L1688.0 610.4 L1689.0 610.4 L1690.0 610.4 L1691.0 610.4 L1692.0 610.0 L1693.0 610.1 L1694.0 610.5 L1695.0 610.7 L1696.0 610.3 L1697.0 608.9 L1698.0 609.6 L1699.0 610.3 L1700.0 610.6 L1701.0 610.3 L1702.0 609.7 L1703.0 609.4 L1704.0 609.2 L1705.0 609.7 L1706.0 608.9 L1707.0 608.0 L1708.0 608.3 L1709.0 607.7 L1710.0 606.0 L1711.0 605.9 L1712.0 605.8 L1713.0 605.1 L1714.0 603.8 L1715.0 604.0 L1716.0 604.4 L1717.0 604.6 L1718.0 604.6 L1719.0 605.6 L1720.0 606.6 L1721.0 607.2 L1722.0 607.3 L1723.0 609.0 L1724.0 608.7 L1725.0 608.4 L1726.0 609.1 L1727.0 608.4 L1728.0 609.4 L1729.0 609.8 L1730.0 610.9 L1731.0 610.2 L1732.0 610.3 L1733.0 610.5 L1734.0 610.4 L1735.0 610.2 L1736.0 610.9 L1737.0 610.7 L1738.0 611.1 L1739.0 610.9 L1740.0 610.2 L1741.0 610.4 L1742.0 610.5 L1743.0 610.5 L1744.0 610.8 L1745.0 610.6 L1746.0 610.4 L1747.0 611.3 L1748.0 611.2 L1749.0 610.8 L1750.0 610.4 L1751.0 610.5 L1752.0 610.5 L1753.0 610.5 L1754.0 610.4 L1755.0 610.9 L1756.0 610.9 L1757.0 611.0 L1758.0 610.5 L1759.0 610.9 L1760.0 611.6 L1761.0 610.9 L1762.0 610.7 L1763.0 611.9 L1764.0 611.0 L1765.0 610.6 L1766.0 611.2 L1767.0 610.6 L1768.0 610.7 L1769.0 611.2 L1770.0 610.6 L1771.0 610.3 L1772.0 611.1 L1773.0 611.2 L1774.0 610.3 L1775.0 610.7 L1776.0 611.2 L1777.0 610.9 L1778.0 611.1 L1779.0 610.8 L1780.0 610.6 L1781.0 610.6 L1782.0 610.7 L1783.0 610.8 L1784.0 609.7 L1785.0 610.0 L1786.0 610.7 L1787.0 610.9 L1788.0 610.3 L1789.0 610.5 L1790.0 610.0 L1791.0 609.9 L1792.0 610.3 L1793.0 610.2 L1794.0 610.0 L1795.0 609.6 L1796.0 610.1 L1797.0 610.1 L1798.0 610.1 L1799.0 610.2 L1800.0 610.2 L1801.0 610.6 L1802.0 610.7 L1803.0 611.2 L1804.0 611.2 L1805.0 610.7 L1806.0 610.3 L1807.0 611.0 L1808.0 610.6 L1809.0 611.4 L1810.0 610.3 L1811.0 610.7 L1812.0 611.4 L1813.0 610.8 L1814.0 611.1 L1815.0 611.1 L1816.0 610.7 L1817.0 611.2 L1818.0 610.6 L1819.0 610.8 L1820.0 611.7 L1821.0 610.8 L1822.0 611.0 L1823.0 610.5 L1824.0 611.4 L1825.0 610.5 L1826.0 610.6 L1827.0 610.7 L1828.0 610.5 L1829.0 610.3 L1830.0 610.8 L1831.0 610.7 L1832.0 610.8 L1833.0 610.5 L1834.0 610.5 L1835.0 610.7 L1836.0 610.8 L1837.0 610.5 L1838.0 610.8 L1839.0 610.7 L1840.0 611.2 L1841.0 611.0 L1842.0 611.0 L1843.0 611.2 L1844.0 610.6 L1845.0 611.3 L1846.0 610.8 L1847.0 610.6 L1848.0 610.9 L1849.0 610.3 L1850.0 611.4 L1851.0 610.8 L1852.0 610.1 L1853.0 610.2 L1854.0 610.4 L1855.0 610.4 L1856.0 610.7 L1857.0 610.9 L1858.0 610.9 L1859.0 610.7 L1860.0 610.1 L1861.0 610.8 L1862.0 610.8 L1863.0 609.5 L1864.0 610.0 L1865.0 609.9 L1866.0 609.7 L1867.0 610.2 L1868.0 609.9 L1869.0 609.5 L1870.0 608.8 L1871.0 608.2 L1872.0 608.3 L1873.0 607.9 L1874.0 607.3 L1875.0 606.2 L1876.0 605.7 L1877.0 605.3 L1878.0 604.7 L1879.0 603.6 L1880.0 603.2 L1881.0 603.0 L1882.0 603.1 L1883.0 604.0 L1884.0 603.8 L1885.0 604.7 L1886.0 604.7 L1887.0 606.0 L1888.0 606.1 L1889.0 606.4 L1890.0 606.2 L1891.0 606.1 L1892.0 605.7 L1893.0 606.2 L1894.0 606.5 L1895.0 604.9 L1896.0 606.5 L1897.0 605.5 L1898.0 606.1 L1899.0 605.8 L1900.0 606.3 L1901.0 607.0 L1902.0 607.0 L1903.0 608.1 L1904.0 607.8 L1905.0 608.3 L1906.0 608.1 L1907.0 608.4 L1908.0 608.6 L1909.0 609.0 L1910.0 609.5 L1911.0 609.0 L1912.0 608.5 L1913.0 608.7 L1914.0 608.4 L1915.0 609.0 L1916.0 608.7 L1917.0 608.2 L1918.0 608.3 L1919.0 608.7 L1920.0 608.5 L1921.0 608.2 L1922.0 608.8 L1923.0 608.8 L1924.0 608.6 L1925.0 609.1 L1926.0 609.9 L1927.0 609.0 L1928.0 610.0 L1929.0 609.7 L1930.0 610.2 L1931.0 610.2 L1932.0 610.3 L1933.0 610.2 L1934.0 610.4 L1935.0 610.7 L1936.0 610.7 L1937.0 610.0 L1938.0 610.7 L1939.0 611.1 L1940.0 611.0 L1941.0 610.8 L1942.0 610.0 L1943.0 610.9 L1944.0 611.0 L1945.0 611.3 L1946.0 610.4 L1947.0 610.7 L1948.0 610.6 L1949.0 610.7 L1950.0 610.2 L1951.0 610.6 L1952.0 610.7 L1953.0 610.7 L1954.0 611.4 L1955.0 610.6 L1956.0 610.7 L1957.0 611.2 L1958.0 610.6 L1959.0 611.3 L1960.0 611.0 L1961.0 610.6 L1962.0 610.5 L1963.0 610.8 L1964.0 610.7 L1965.0 610.8 L1966.0 610.5 L1967.0 610.9 L1968.0 610.4 L1969.0 610.4 L1970.0 610.4 L1971.0 609.9 L1972.0 610.2 L1973.0 610.1 L1974.0 609.4 L1975.0 609.1 L1976.0 610.0 L1977.0 609.2 L1978.0 609.0 L1979.0 608.6 L1980.0 609.2 L1981.0 608.4 L1982.0 607.8 L1983.0 608.7 L1984.0 608.3 L1985.0 609.1 L1986.0 609.1 L1987.0 609.9 L1988.0 609.9 L1989.0 609.8 L1990.0 610.6 L1991.0 611.3 L1992.0 610.2 L1993.0 610.9 L1994.0 610.7 L1995.0 610.8 L1996.0 610.3 L1997.0 610.4 L1998.0 611.3 L1999.0 610.9 L2000.0 610.7 L2001.0 611.6 L2002.0 611.4 L2003.0 611.2 L2004.0 610.6 L2005.0 611.0 L2006.0 611.6 L2007.0 610.3 L2008.0 610.4 L2009.0 610.7 L2010.0 611.4 L2011.0 611.2 L2012.0 611.3 L2013.0 611.2 L2014.0 611.1 L2015.0 611.6 L2016.0 612.5 L2017.0 611.3 L2018.0 611.6 L2019.0 611.0 L2020.0 611.7 L2021.0 611.2 L2022.0 611.2 L2023.0 611.0 L2024.0 610.9 L2025.0 610.9 L2026.0 610.8 L2027.0 610.7 L2028.0 611.9 L2029.0 611.3 L2030.0 611.5 L2031.0 611.4 L2032.0 610.6 L2033.0 611.2 L2034.0 610.8 L2035.0 610.9 L2036.0 611.1 L2037.0 611.2 L2038.0 611.2 L2039.0 611.2 L2040.0 611.1 L2041.0 611.2 L2042.0 611.7 L2043.0 612.0 L2044.0 611.6 L2045.0 611.1 L2046.0 611.3 L2047.0 611.6 L2048.0 611.6 L2049.0 611.7 L2050.0 611.7 L2051.0 611.4 L2052.0 611.1 L2053.0 610.6 L2054.0 611.6 L2055.0 611.4 L2056.0 610.9 L2057.0 611.2 L2058.0 611.1 L2059.0 611.0 L2060.0 611.9 L2061.0 611.1 L2062.0 612.1 L2063.0 611.1 L2064.0 610.9 L2065.0 611.2 L2066.0 612.1 L2067.0 611.1 L2068.0 611.4 L2069.0 610.3 L2070.0 611.4 L2071.0 610.7 L2072.0 611.1 L2073.0 611.7 L2074.0 611.1 L2075.0 611.4 L2076.0 611.1 L2077.0 611.0 L2078.0 611.2 L2079.0 611.5 L2080.0 611.1 L2081.0 611.1 L2082.0 610.7 L2083.0 610.4 L2084.0 611.0 L2085.0 610.9 L2086.0 611.0 L2087.0 611.2 L2088.0 611.0 L2089.0 610.3 L2090.0 610.6 L2091.0 610.5 L2092.0 610.2 L2093.0 609.2 L2094.0 609.6 L2095.0 609.7 L2096.0 609.9 L2097.0 609.5 L2098.0 609.1 L2099.0 610.2 L2100.0 609.8 L2101.0 609.8 L2102.0 610.3 L2103.0 610.5 L2104.0 610.4 L2105.0 610.3 L2106.0 610.4 L2107.0 611.0 L2108.0 610.8 L2109.0 611.1 L2110.0 610.2 L2111.0 610.8 L2112.0 610.9 L2113.0 610.9 L2114.0 610.3 L2115.0 610.9 L2116.0 611.7 L2117.0 611.2 L2118.0 610.9 L2119.0 610.9 L2120.0 610.6 L2121.0 611.2 L2122.0 610.9 L2123.0 611.0 L2124.0 611.5 L2125.0 611.5 L2126.0 611.4 L2127.0 610.6 L2128.0 611.0 L2129.0 611.6 L2130.0 610.7 L2131.0 611.7 L2132.0 611.2 L2133.0 611.5 L2134.0 611.0 L2135.0 610.7 L2136.0 610.8 L2137.0 611.7 L2138.0 611.0 L2139.0 610.6 L2140.0 611.4 L2141.0 610.5 L2142.0 611.0 L2143.0 611.1 L2144.0 611.1 L2145.0 611.1 L2146.0 610.8 L2147.0 609.9 L2148.0 610.8 L2149.0 610.6 L2150.0 610.4 L2151.0 610.5 L2152.0 610.5 L2153.0 610.1 L2154.0 610.4 L2155.0 610.5 L2156.0 609.6 L2157.0 609.3 L2158.0 609.0 L2159.0 609.8 L2160.0 609.0 L2161.0 610.5 L2162.0 610.4 L2163.0 609.9 L2164.0 610.6 L2165.0 610.1 L2166.0 610.1 L2167.0 610.9 L2168.0 610.3 L2169.0 610.8 L2170.0 610.7 L2171.0 611.4 L2172.0 611.0 L2173.0 611.4 L2174.0 611.2 L2175.0 610.5 L2176.0 610.4 L2177.0 610.0 L2178.0 610.7 L2179.0 609.6 L2180.0 610.2 L2181.0 609.5 L2182.0 610.1 L2183.0 610.4 L2184.0 609.7 L2185.0 609.6 L2186.0 609.5 L2187.0 609.7 L2188.0 608.9 L2189.0 609.6 L2190.0 609.5 L2191.0 609.3 L2192.0 609.5 L2193.0 610.5 L2194.0 610.5 L2195.0 610.5 L2196.0 610.1 L2197.0 610.4 L2198.0 610.2 L2199.0 610.1 L2200.0 610.6 L2201.0 610.6 L2202.0 610.4 L2203.0 610.4 L2204.0 611.1 L2205.0 610.7 L2206.0 610.3 L2207.0 611.7 L2208.0 610.2 L2209.0 611.0 L2210.0 610.5 L2211.0 611.1 L2212.0 610.8 L2213.0 611.1 L2214.0 610.5 L2215.0 610.2 L2216.0 610.9 L2217.0 610.2 L2218.0 610.0 L2219.0 609.8 L2220.0 609.5 L2221.0 609.8 L2222.0 610.2 L2223.0 610.1 L2224.0 609.7 L2225.0 610.0 L2226.0 610.2 L2227.0 609.8 L2228.0 610.8 L2229.0 610.4 L2230.0 609.8 L2231.0 610.8 L2232.0 610.3 L2233.0 610.8 L2234.0 611.0 L2235.0 610.7 L2236.0 611.0 L2237.0 611.4 L2238.0 610.4 L2239.0 610.2 L2240.0 610.9 L2241.0 610.8 L2242.0 611.7 L2243.0 611.3 L2244.0 611.1 L2245.0 610.8 L2246.0 610.1 L2247.0 610.3 L2248.0 610.7 L2249.0 610.9 L2250.0 610.6 L2251.0 610.8 L2252.0 611.0 L2253.0 610.4 L2254.0 610.4 L2255.0 610.2 L2256.0 610.9 L2257.0 609.6 L2258.0 610.5 L2259.0 610.5 L2260.0 609.3 L2261.0 609.8 L2262.0 610.2 L2263.0 609.3 L2264.0 609.2 L2265.0 609.2 L2266.0 609.4 L2267.0 608.8 L2268.0 607.9 L2269.0 607.2 L2270.0 606.7 L2271.0 606.8 L2272.0 605.3 L2273.0 605.2 L2274.0 604.9 L2275.0 603.6 L2276.0 603.2 L2277.0 602.7 L2278.0 602.6 L2279.0 601.5 L2280.0 601.9 L2281.0 601.8 L2282.0 601.9 L2283.0 601.3 L2284.0 602.2 L2285.0 601.6 L2286.0 601.9 L2287.0 601.5 L2288.0 602.6 L2289.0 602.0 L2290.0 603.0 L2291.0 602.3 L2292.0 603.0 L2293.0 604.3 L2294.0 604.3 L2295.0 605.3 L2296.0 606.3 L2297.0 606.3 L2298.0 606.8 L2299.0 607.5 L2300.0 608.4 L2301.0 608.6 L2302.0 609.3 L2303.0 609.0 L2304.0 609.2 L2305.0 609.2 L2306.0 609.7 L2307.0 609.8 L2308.0 610.1 L2309.0 609.9 L2310.0 610.1 L2311.0 610.4 L2312.0 611.0 L2313.0 610.5 L2314.0 610.5 L2315.0 611.2 L2316.0 611.4 L2317.0 610.8 L2318.0 610.9 L2319.0 610.3 L2320.0 610.4 L2321.0 611.1 L2322.0 611.6 L2323.0 611.8 L2324.0 611.5 L2325.0 611.0 L2326.0 611.4 L2327.0 610.7 L2328.0 611.2 L2329.0 610.8 L2330.0 611.3 L2331.0 611.9 L2332.0 612.2 L2333.0 611.5 L2334.0 611.5 L2335.0 610.8 L2336.0 611.2 L2337.0 612.0 L2338.0 611.9 L2339.0 611.8 L2340.0 611.6 L2341.0 611.5 L2342.0 611.5 L2343.0 611.5 L2344.0 611.5" fill="none" stroke="#FFC914" stroke-width="10.8" stroke-linejoin="round" stroke-linecap="butt"/>
<path d="M198.0 443.8 L199.0 443.8 L200.0 443.8 L201.0 443.8 L202.0 443.5 L203.0 443.8 L204.0 443.7 L205.0 443.1 L206.0 444.1 L207.0 444.0 L208.0 443.5 L209.0 443.7 L210.0 443.9 L211.0 443.6 L212.0 443.6 L213.0 443.2 L214.0 443.9 L215.0 443.8 L216.0 443.8 L217.0 443.1 L218.0 444.3 L219.0 443.8 L220.0 443.5 L221.0 444.5 L222.0 443.7 L223.0 443.1 L224.0 443.5 L225.0 442.8 L226.0 444.1 L227.0 443.5 L228.0 443.4 L229.0 444.1 L230.0 443.0 L231.0 443.9 L232.0 442.9 L233.0 443.4 L234.0 443.2 L235.0 444.2 L236.0 444.3 L237.0 443.5 L238.0 443.9 L239.0 443.6 L240.0 443.8 L241.0 443.3 L242.0 443.0 L243.0 442.9 L244.0 443.8 L245.0 444.5 L246.0 443.7 L247.0 443.4 L248.0 444.3 L249.0 443.7 L250.0 443.6 L251.0 443.7 L252.0 443.5 L253.0 443.5 L254.0 443.0 L255.0 443.8 L256.0 443.5 L257.0 444.0 L258.0 443.4 L259.0 442.8 L260.0 443.5 L261.0 444.2 L262.0 443.4 L263.0 443.2 L264.0 443.1 L265.0 443.1 L266.0 443.4 L267.0 443.1 L268.0 444.1 L269.0 443.4 L270.0 443.5 L271.0 444.0 L272.0 444.1 L273.0 443.4 L274.0 443.6 L275.0 443.8 L276.0 443.4 L277.0 442.8 L278.0 443.7 L279.0 443.8 L280.0 443.6 L281.0 443.1 L282.0 443.4 L283.0 443.2 L284.0 443.3 L285.0 443.9 L286.0 444.0 L287.0 443.7 L288.0 443.6 L289.0 443.7 L290.0 443.4 L291.0 443.4 L292.0 443.1 L293.0 443.3 L294.0 444.2 L295.0 443.7 L296.0 443.2 L297.0 443.1 L298.0 443.0 L299.0 443.4 L300.0 443.4 L301.0 442.7 L302.0 443.5 L303.0 443.0 L304.0 443.8 L305.0 443.3 L306.0 443.8 L307.0 443.0 L308.0 443.0 L309.0 443.2 L310.0 443.5 L311.0 443.3 L312.0 442.5 L313.0 443.0 L314.0 442.9 L315.0 442.7 L316.0 442.5 L317.0 443.3 L318.0 442.4 L319.0 442.1 L320.0 442.5 L321.0 442.1 L322.0 441.7 L323.0 441.6 L324.0 440.8 L325.0 440.0 L326.0 439.1 L327.0 437.4 L328.0 435.4 L329.0 433.9 L330.0 432.9 L331.0 433.5 L332.0 434.2 L333.0 435.6 L334.0 437.9 L335.0 438.6 L336.0 439.4 L337.0 441.0 L338.0 441.1 L339.0 441.9 L340.0 441.8 L341.0 441.7 L342.0 441.8 L343.0 442.2 L344.0 442.4 L345.0 442.2 L346.0 442.5 L347.0 442.0 L348.0 442.6 L349.0 441.9 L350.0 442.4 L351.0 442.7 L352.0 442.7 L353.0 442.9 L354.0 441.5 L355.0 442.2 L356.0 442.3 L357.0 442.2 L358.0 441.5 L359.0 442.1 L360.0 442.8 L361.0 441.7 L362.0 442.6 L363.0 443.0 L364.0 442.4 L365.0 443.0 L366.0 442.4 L367.0 442.5 L368.0 442.6 L369.0 443.0 L370.0 442.9 L371.0 443.3 L372.0 442.6 L373.0 442.9 L374.0 443.3 L375.0 443.2 L376.0 442.4 L377.0 443.2 L378.0 442.7 L379.0 443.0 L380.0 442.9 L381.0 443.2 L382.0 442.8 L383.0 442.0 L384.0 442.2 L385.0 443.1 L386.0 442.7 L387.0 443.3 L388.0 443.0 L389.0 442.7 L390.0 443.4 L391.0 442.7 L392.0 442.2 L393.0 443.8 L394.0 442.3 L395.0 443.3 L396.0 443.4 L397.0 443.1 L398.0 442.4 L399.0 443.4 L400.0 442.5 L401.0 442.5 L402.0 442.9 L403.0 443.4 L404.0 443.2 L405.0 443.4 L406.0 442.9 L407.0 443.0 L408.0 442.6 L409.0 442.9 L410.0 443.3 L411.0 442.9 L412.0 443.2 L413.0 442.8 L414.0 442.8 L415.0 443.1 L416.0 443.0 L417.0 443.3 L418.0 443.1 L419.0 443.7 L420.0 442.9 L421.0 442.9 L422.0 442.6 L423.0 443.0 L424.0 443.3 L425.0 442.7 L426.0 443.0 L427.0 443.3 L428.0 443.0 L429.0 442.8 L430.0 443.4 L431.0 443.0 L432.0 443.1 L433.0 443.4 L434.0 443.4 L435.0 442.9 L436.0 442.8 L437.0 443.1 L438.0 442.9 L439.0 442.3 L440.0 443.5 L441.0 443.0 L442.0 443.2 L443.0 442.5 L444.0 443.4 L445.0 442.7 L446.0 442.9 L447.0 442.4 L448.0 442.9 L449.0 442.8 L450.0 442.9 L451.0 443.1 L452.0 442.9 L453.0 443.3 L454.0 442.7 L455.0 442.5 L456.0 442.9 L457.0 443.1 L458.0 443.4 L459.0 443.2 L460.0 442.2 L461.0 443.0 L462.0 443.4 L463.0 442.9 L464.0 442.7 L465.0 443.0 L466.0 442.6 L467.0 443.1 L468.0 442.8 L469.0 443.3 L470.0 443.0 L471.0 442.5 L472.0 443.0 L473.0 443.1 L474.0 442.5 L475.0 442.6 L476.0 441.9 L477.0 443.1 L478.0 442.5 L479.0 441.9 L480.0 442.0 L481.0 442.6 L482.0 442.9 L483.0 442.6 L484.0 442.7 L485.0 442.1 L486.0 442.0 L487.0 442.8 L488.0 442.6 L489.0 442.3 L490.0 442.7 L491.0 441.8 L492.0 441.9 L493.0 442.3 L494.0 442.4 L495.0 441.5 L496.0 441.8 L497.0 440.5 L498.0 440.3 L499.0 439.3 L500.0 437.7 L501.0 437.1 L502.0 435.7 L503.0 433.7 L504.0 432.7 L505.0 433.3 L506.0 433.3 L507.0 434.8 L508.0 436.7 L509.0 437.8 L510.0 439.9 L511.0 440.3 L512.0 440.4 L513.0 440.9 L514.0 442.5 L515.0 441.4 L516.0 441.5 L517.0 442.1 L518.0 442.3 L519.0 442.2 L520.0 441.9 L521.0 441.8 L522.0 442.6 L523.0 442.3 L524.0 441.8 L525.0 442.9 L526.0 442.8 L527.0 442.4 L528.0 442.4 L529.0 442.6 L530.0 442.3 L531.0 442.0 L532.0 442.7 L533.0 442.0 L534.0 442.7 L535.0 442.0 L536.0 442.5 L537.0 442.5 L538.0 443.3 L539.0 442.2 L540.0 442.1 L541.0 442.4 L542.0 442.2 L543.0 442.4 L544.0 442.8 L545.0 442.9 L546.0 443.2 L547.0 442.3 L548.0 443.6 L549.0 443.4 L550.0 442.5 L551.0 441.7 L552.0 442.6 L553.0 442.6 L554.0 441.7 L555.0 442.6 L556.0 442.5 L557.0 442.3 L558.0 442.8 L559.0 443.0 L560.0 442.4 L561.0 442.7 L562.0 442.3 L563.0 442.3 L564.0 442.6 L565.0 442.8 L566.0 442.4 L567.0 441.7 L568.0 442.8 L569.0 442.0 L570.0 442.6 L571.0 443.2 L572.0 442.6 L573.0 442.1 L574.0 442.0 L575.0 443.0 L576.0 442.5 L577.0 442.8 L578.0 442.9 L579.0 442.5 L580.0 442.4 L581.0 442.2 L582.0 441.4 L583.0 441.9 L584.0 442.5 L585.0 442.5 L586.0 442.7 L587.0 442.5 L588.0 442.6 L589.0 442.8 L590.0 442.2 L591.0 442.4 L592.0 441.9 L593.0 442.9 L594.0 442.5 L595.0 442.7 L596.0 443.1 L597.0 442.9 L598.0 442.4 L599.0 442.8 L600.0 441.9 L601.0 442.6 L602.0 442.5 L603.0 441.8 L604.0 442.9 L605.0 442.2 L606.0 442.7 L607.0 442.3 L608.0 442.8 L609.0 442.9 L610.0 442.1 L611.0 441.8 L612.0 442.4 L613.0 442.7 L614.0 442.2 L615.0 442.2 L616.0 442.6 L617.0 441.3 L618.0 442.1 L619.0 441.8 L620.0 442.5 L621.0 442.1 L622.0 441.9 L623.0 442.2 L624.0 441.8 L625.0 442.3 L626.0 442.1 L627.0 442.2 L628.0 442.0 L629.0 442.6 L630.0 442.2 L631.0 442.5 L632.0 442.4 L633.0 442.0 L634.0 442.5 L635.0 442.4 L636.0 442.3 L637.0 442.1 L638.0 442.0 L639.0 442.5 L640.0 443.0 L641.0 441.9 L642.0 442.4 L643.0 442.0 L644.0 442.4 L645.0 442.3 L646.0 442.5 L647.0 441.0 L648.0 441.9 L649.0 441.7 L650.0 442.0 L651.0 441.8 L652.0 441.8 L653.0 442.2 L654.0 442.7 L655.0 440.9 L656.0 441.8 L657.0 442.0 L658.0 441.9 L659.0 441.7 L660.0 441.3 L661.0 441.4 L662.0 442.0 L663.0 442.1 L664.0 441.7 L665.0 441.3 L666.0 441.6 L667.0 441.4 L668.0 441.6 L669.0 441.4 L670.0 441.1 L671.0 441.3 L672.0 440.7 L673.0 441.3 L674.0 441.3 L675.0 440.3 L676.0 440.8 L677.0 440.0 L678.0 440.6 L679.0 440.3 L680.0 439.6 L681.0 439.7 L682.0 438.8 L683.0 438.2 L684.0 437.6 L685.0 437.0 L686.0 435.9 L687.0 434.7 L688.0 432.5 L689.0 430.4 L690.0 427.0 L691.0 421.9 L692.0 415.7 L693.0 409.7 L694.0 403.0 L695.0 397.7 L696.0 396.7 L697.0 401.4 L698.0 408.5 L699.0 414.2 L700.0 421.1 L701.0 425.6 L702.0 429.1 L703.0 432.3 L704.0 433.7 L705.0 435.7 L706.0 437.2 L707.0 437.6 L708.0 437.8 L709.0 438.0 L710.0 438.6 L711.0 438.7 L712.0 440.3 L713.0 439.8 L714.0 439.7 L715.0 439.8 L716.0 440.0 L717.0 440.4 L718.0 440.1 L719.0 441.4 L720.0 440.5 L721.0 440.6 L722.0 441.0 L723.0 441.5 L724.0 441.5 L725.0 440.9 L726.0 441.2 L727.0 441.2 L728.0 441.3 L729.0 441.3 L730.0 440.8 L731.0 440.7 L732.0 441.3 L733.0 440.7 L734.0 441.7 L735.0 441.2 L736.0 440.8 L737.0 441.1 L738.0 441.0 L739.0 441.1 L740.0 441.5 L741.0 440.6 L742.0 440.4 L743.0 441.2 L744.0 441.0 L745.0 441.1 L746.0 441.1 L747.0 440.9 L748.0 441.2 L749.0 440.5 L750.0 440.8 L751.0 440.4 L752.0 440.2 L753.0 440.8 L754.0 440.7 L755.0 439.6 L756.0 439.8 L757.0 440.2 L758.0 440.4 L759.0 439.6 L760.0 439.6 L761.0 438.9 L762.0 440.1 L763.0 439.0 L764.0 438.8 L765.0 438.2 L766.0 437.7 L767.0 436.8 L768.0 435.4 L769.0 434.5 L770.0 432.3 L771.0 430.3 L772.0 426.3 L773.0 422.2 L774.0 417.9 L775.0 413.3 L776.0 409.6 L777.0 408.8 L778.0 411.7 L779.0 416.0 L780.0 421.6 L781.0 425.4 L782.0 428.8 L783.0 430.8 L784.0 432.3 L785.0 434.2 L786.0 435.2 L787.0 435.4 L788.0 435.5 L789.0 436.1 L790.0 435.6 L791.0 436.0 L792.0 435.3 L793.0 435.0 L794.0 435.2 L795.0 434.7 L796.0 434.7 L797.0 433.2 L798.0 432.4 L799.0 430.8 L800.0 429.1 L801.0 427.4 L802.0 426.0 L803.0 422.5 L804.0 419.4 L805.0 414.0 L806.0 405.4 L807.0 394.8 L808.0 377.8 L809.0 355.4 L810.0 325.4 L811.0 292.4 L812.0 264.6 L813.0 259.7 L814.0 279.4 L815.0 312.1 L816.0 344.2 L817.0 369.5 L818.0 388.2 L819.0 401.7 L820.0 410.9 L821.0 416.4 L822.0 421.7 L823.0 425.0 L824.0 427.0 L825.0 429.3 L826.0 430.2 L827.0 432.5 L828.0 432.9 L829.0 433.8 L830.0 434.9 L831.0 435.0 L832.0 435.7 L833.0 435.5 L834.0 436.0 L835.0 435.9 L836.0 436.6 L837.0 437.2 L838.0 437.1 L839.0 437.4 L840.0 436.7 L841.0 436.8 L842.0 436.9 L843.0 437.3 L844.0 437.1 L845.0 436.8 L846.0 436.9 L847.0 436.4 L848.0 436.2 L849.0 436.3 L850.0 435.2 L851.0 435.0 L852.0 435.0 L853.0 433.7 L854.0 433.1 L855.0 431.6 L856.0 431.4 L857.0 428.3 L858.0 426.8 L859.0 424.3 L860.0 422.1 L861.0 417.3 L862.0 411.0 L863.0 402.0 L864.0 390.0 L865.0 372.0 L866.0 346.8 L867.0 314.5 L868.0 279.3 L869.0 252.6 L870.0 249.8 L871.0 273.1 L872.0 308.1 L873.0 340.7 L874.0 367.7 L875.0 386.6 L876.0 400.6 L877.0 410.1 L878.0 416.2 L879.0 420.7 L880.0 425.0 L881.0 427.3 L882.0 429.0 L883.0 429.8 L884.0 432.2 L885.0 433.6 L886.0 434.7 L887.0 434.8 L888.0 435.5 L889.0 436.1 L890.0 437.1 L891.0 436.7 L892.0 437.5 L893.0 437.5 L894.0 438.3 L895.0 437.8 L896.0 438.8 L897.0 438.7 L898.0 438.9 L899.0 439.4 L900.0 439.8 L901.0 438.8 L902.0 440.0 L903.0 439.9 L904.0 439.7 L905.0 440.4 L906.0 440.0 L907.0 440.5 L908.0 439.9 L909.0 439.8 L910.0 440.7 L911.0 441.1 L912.0 440.6 L913.0 440.7 L914.0 440.2 L915.0 440.0 L916.0 440.4 L917.0 441.1 L918.0 439.8 L919.0 440.4 L920.0 439.9 L921.0 440.6 L922.0 441.0 L923.0 440.2 L924.0 440.5 L925.0 441.2 L926.0 440.6 L927.0 440.2 L928.0 440.2 L929.0 439.9 L930.0 441.0 L931.0 440.4 L932.0 441.0 L933.0 441.0 L934.0 440.4 L935.0 440.4 L936.0 440.9 L937.0 440.6 L938.0 440.6 L939.0 439.9 L940.0 440.8 L941.0 440.1 L942.0 439.5 L943.0 440.1 L944.0 440.4 L945.0 441.0 L946.0 439.9 L947.0 439.5 L948.0 440.7 L949.0 439.8 L950.0 439.5 L951.0 439.0 L952.0 438.9 L953.0 439.6 L954.0 438.7 L955.0 438.3 L956.0 438.0 L957.0 438.4 L958.0 437.0 L959.0 436.9 L960.0 436.0 L961.0 435.1 L962.0 433.4 L963.0 432.4 L964.0 430.6 L965.0 427.0 L966.0 422.7 L967.0 417.4 L968.0 411.3 L969.0 403.1 L970.0 394.6 L971.0 387.3 L972.0 383.4 L973.0 386.5 L974.0 393.1 L975.0 401.5 L976.0 409.8 L977.0 417.0 L978.0 422.2 L979.0 426.0 L980.0 429.9 L981.0 431.6 L982.0 433.2 L983.0 434.2 L984.0 435.8 L985.0 436.2 L986.0 437.0 L987.0 437.9 L988.0 438.2 L989.0 438.9 L990.0 439.0 L991.0 438.9 L992.0 439.2 L993.0 439.3 L994.0 439.9 L995.0 439.8 L996.0 439.8 L997.0 440.4 L998.0 440.2 L999.0 440.1 L1000.0 439.8 L1001.0 440.6 L1002.0 440.6 L1003.0 440.6 L1004.0 440.5 L1005.0 440.4 L1006.0 440.6 L1007.0 440.8 L1008.0 440.8 L1009.0 440.8 L1010.0 440.7 L1011.0 441.0 L1012.0 441.0 L1013.0 440.7 L1014.0 441.3 L1015.0 441.3 L1016.0 441.3 L1017.0 441.0 L1018.0 441.0 L1019.0 440.6 L1020.0 441.4 L1021.0 440.3 L1022.0 440.9 L1023.0 441.0 L1024.0 441.4 L1025.0 441.1 L1026.0 440.8 L1027.0 440.6 L1028.0 440.9 L1029.0 441.2 L1030.0 441.2 L1031.0 441.1 L1032.0 440.9 L1033.0 441.1 L1034.0 441.5 L1035.0 440.7 L1036.0 441.2 L1037.0 441.8 L1038.0 441.4 L1039.0 441.0 L1040.0 441.4 L1041.0 440.9 L1042.0 441.2 L1043.0 441.7 L1044.0 441.9 L1045.0 440.5 L1046.0 441.4 L1047.0 441.9 L1048.0 440.9 L1049.0 441.2 L1050.0 441.7 L1051.0 440.9 L1052.0 441.3 L1053.0 441.1 L1054.0 440.4 L1055.0 441.2 L1056.0 441.0 L1057.0 441.4 L1058.0 441.8 L1059.0 441.3 L1060.0 440.9 L1061.0 441.2 L1062.0 441.1 L1063.0 441.4 L1064.0 440.4 L1065.0 440.5 L1066.0 440.1 L1067.0 441.1 L1068.0 440.8 L1069.0 440.6 L1070.0 440.5 L1071.0 440.5 L1072.0 440.4 L1073.0 440.6 L1074.0 440.5 L1075.0 441.1 L1076.0 440.7 L1077.0 440.2 L1078.0 440.2 L1079.0 440.9 L1080.0 440.5 L1081.0 440.4 L1082.0 440.5 L1083.0 440.7 L1084.0 439.5 L1085.0 439.6 L1086.0 439.1 L1087.0 439.8 L1088.0 439.3 L1089.0 439.1 L1090.0 438.8 L1091.0 439.2 L1092.0 438.6 L1093.0 438.1 L1094.0 438.5 L1095.0 437.2 L1096.0 436.6 L1097.0 437.4 L1098.0 435.6 L1099.0 434.5 L1100.0 433.2 L1101.0 431.8 L1102.0 430.0 L1103.0 427.1 L1104.0 423.3 L1105.0 418.1 L1106.0 411.7 L1107.0 405.6 L1108.0 399.4 L1109.0 394.6 L1110.0 393.3 L1111.0 396.9 L1112.0 402.1 L1113.0 408.1 L1114.0 412.7 L1115.0 416.7 L1116.0 419.1 L1117.0 419.6 L1118.0 419.2 L1119.0 417.5 L1120.0 413.9 L1121.0 409.2 L1122.0 405.3 L1123.0 403.4 L1124.0 404.4 L1125.0 408.6 L1126.0 414.0 L1127.0 419.0 L1128.0 423.5 L1129.0 427.1 L1130.0 429.9 L1131.0 431.8 L1132.0 434.4 L1133.0 435.3 L1134.0 435.5 L1135.0 436.3 L1136.0 437.0 L1137.0 437.7 L1138.0 438.5 L1139.0 438.8 L1140.0 439.1 L1141.0 439.3 L1142.0 439.5 L1143.0 439.6 L1144.0 439.6 L1145.0 439.5 L1146.0 439.0 L1147.0 439.8 L1148.0 440.6 L1149.0 439.8 L1150.0 439.8 L1151.0 440.5 L1152.0 440.2 L1153.0 440.1 L1154.0 440.9 L1155.0 440.6 L1156.0 440.7 L1157.0 440.2 L1158.0 440.6 L1159.0 440.6 L1160.0 440.8 L1161.0 440.9 L1162.0 441.0 L1163.0 440.6 L1164.0 440.8 L1165.0 440.1 L1166.0 440.8 L1167.0 440.9 L1168.0 440.4 L1169.0 440.3 L1170.0 440.6 L1171.0 440.1 L1172.0 440.7 L1173.0 440.7 L1174.0 440.2 L1175.0 440.6 L1176.0 440.9 L1177.0 440.9 L1178.0 440.8 L1179.0 440.3 L1180.0 440.2 L1181.0 440.1 L1182.0 440.4 L1183.0 441.0 L1184.0 440.6 L1185.0 440.7 L1186.0 440.6 L1187.0 439.5 L1188.0 440.1 L1189.0 440.0 L1190.0 440.7 L1191.0 440.8 L1192.0 440.0 L1193.0 440.2 L1194.0 440.4 L1195.0 440.0 L1196.0 439.9 L1197.0 439.8 L1198.0 440.4 L1199.0 439.7 L1200.0 440.4 L1201.0 439.9 L1202.0 440.1 L1203.0 440.3 L1204.0 439.3 L1205.0 439.2 L1206.0 439.5 L1207.0 438.8 L1208.0 438.8 L1209.0 438.8 L1210.0 438.7 L1211.0 437.9 L1212.0 438.0 L1213.0 438.0 L1214.0 437.9 L1215.0 436.2 L1216.0 436.9 L1217.0 436.1 L1218.0 434.5 L1219.0 433.4 L1220.0 432.8 L1221.0 430.7 L1222.0 428.6 L1223.0 425.8 L1224.0 421.2 L1225.0 416.1 L1226.0 409.5 L1227.0 401.7 L1228.0 393.5 L1229.0 386.0 L1230.0 381.7 L1231.0 383.2 L1232.0 390.3 L1233.0 398.0 L1234.0 406.2 L1235.0 412.8 L1236.0 419.3 L1237.0 423.1 L1238.0 426.6 L1239.0 428.8 L1240.0 430.9 L1241.0 432.5 L1242.0 432.9 L1243.0 433.9 L1244.0 434.7 L1245.0 434.7 L1246.0 434.9 L1247.0 435.2 L1248.0 435.0 L1249.0 435.7 L1250.0 434.9 L1251.0 435.1 L1252.0 434.6 L1253.0 432.9 L1254.0 432.2 L1255.0 430.3 L1256.0 427.8 L1257.0 425.2 L1258.0 421.6 L1259.0 417.8 L1260.0 413.8 L1261.0 410.1 L1262.0 409.8 L1263.0 412.2 L1264.0 416.1 L1265.0 418.9 L1266.0 424.2 L1267.0 426.8 L1268.0 429.8 L1269.0 430.8 L1270.0 431.9 L1271.0 433.0 L1272.0 433.8 L1273.0 433.5 L1274.0 432.5 L1275.0 433.4 L1276.0 432.1 L1277.0 431.9 L1278.0 431.4 L1279.0 430.8 L1280.0 431.0 L1281.0 431.3 L1282.0 432.0 L1283.0 432.9 L1284.0 433.6 L1285.0 434.0 L1286.0 435.3 L1287.0 436.5 L1288.0 437.1 L1289.0 437.3 L1290.0 437.9 L1291.0 438.4 L1292.0 438.9 L1293.0 439.3 L1294.0 438.8 L1295.0 438.9 L1296.0 439.8 L1297.0 439.9 L1298.0 440.0 L1299.0 438.6 L1300.0 439.5 L1301.0 438.4 L1302.0 440.0 L1303.0 439.7 L1304.0 439.8 L1305.0 439.7 L1306.0 440.3 L1307.0 439.7 L1308.0 440.2 L1309.0 440.0 L1310.0 439.9 L1311.0 439.9 L1312.0 439.8 L1313.0 439.3 L1314.0 439.9 L1315.0 439.8 L1316.0 439.4 L1317.0 439.7 L1318.0 439.7 L1319.0 438.7 L1320.0 439.0 L1321.0 438.7 L1322.0 438.4 L1323.0 438.6 L1324.0 437.9 L1325.0 437.8 L1326.0 437.6 L1327.0 437.2 L1328.0 436.5 L1329.0 436.4 L1330.0 434.3 L1331.0 433.2 L1332.0 430.8 L1333.0 429.1 L1334.0 426.5 L1335.0 423.2 L1336.0 419.1 L1337.0 416.5 L1338.0 415.8 L1339.0 415.7 L1340.0 417.6 L1341.0 418.7 L1342.0 420.9 L1343.0 421.6 L1344.0 421.8 L1345.0 421.5 L1346.0 422.0 L1347.0 422.5 L1348.0 423.0 L1349.0 423.2 L1350.0 423.5 L1351.0 423.9 L1352.0 424.7 L1353.0 424.2 L1354.0 425.7 L1355.0 427.1 L1356.0 429.1 L1357.0 430.3 L1358.0 432.7 L1359.0 433.8 L1360.0 434.8 L1361.0 435.5 L1362.0 436.6 L1363.0 437.2 L1364.0 437.7 L1365.0 437.7 L1366.0 438.6 L1367.0 438.1 L1368.0 439.3 L1369.0 437.9 L1370.0 439.0 L1371.0 438.9 L1372.0 439.8 L1373.0 439.0 L1374.0 440.3 L1375.0 439.1 L1376.0 440.6 L1377.0 440.0 L1378.0 439.9 L1379.0 440.1 L1380.0 440.8 L1381.0 440.4 L1382.0 439.2 L1383.0 440.5 L1384.0 440.2 L1385.0 439.5 L1386.0 440.4 L1387.0 439.7 L1388.0 440.2 L1389.0 440.2 L1390.0 439.8 L1391.0 440.3 L1392.0 439.7 L1393.0 440.1 L1394.0 439.8 L1395.0 439.9 L1396.0 440.6 L1397.0 439.9 L1398.0 439.4 L1399.0 439.6 L1400.0 439.3 L1401.0 439.5 L1402.0 439.4 L1403.0 439.2 L1404.0 439.0 L1405.0 438.5 L1406.0 438.6 L1407.0 438.5 L1408.0 437.5 L1409.0 437.2 L1410.0 436.7 L1411.0 436.6 L1412.0 435.8 L1413.0 434.4 L1414.0 434.0 L1415.0 432.7 L1416.0 432.2 L1417.0 432.1 L1418.0 432.1 L1419.0 432.3 L1420.0 432.1 L1421.0 432.2 L1422.0 433.5 L1423.0 434.1 L1424.0 435.0 L1425.0 435.6 L1426.0 436.5 L1427.0 437.1 L1428.0 437.7 L1429.0 437.6 L1430.0 438.6 L1431.0 438.3 L1432.0 438.8 L1433.0 439.7 L1434.0 439.4 L1435.0 438.9 L1436.0 440.1 L1437.0 440.0 L1438.0 440.2 L1439.0 439.9 L1440.0 440.0 L1441.0 439.9 L1442.0 439.7 L1443.0 440.6 L1444.0 440.0 L1445.0 439.9 L1446.0 440.0 L1447.0 440.9 L1448.0 440.5 L1449.0 440.1 L1450.0 440.2 L1451.0 440.4 L1452.0 440.5 L1453.0 439.6 L1454.0 440.5 L1455.0 440.1 L1456.0 439.9 L1457.0 440.0 L1458.0 440.5 L1459.0 440.8 L1460.0 440.2 L1461.0 440.3 L1462.0 439.7 L1463.0 440.2 L1464.0 440.3 L1465.0 439.3 L1466.0 439.6 L1467.0 440.1 L1468.0 439.0 L1469.0 439.5 L1470.0 439.7 L1471.0 438.8 L1472.0 439.1 L1473.0 439.1 L1474.0 439.3 L1475.0 438.3 L1476.0 439.0 L1477.0 438.4 L1478.0 438.4 L1479.0 438.0 L1480.0 437.2 L1481.0 436.7 L1482.0 435.2 L1483.0 434.5 L1484.0 433.7 L1485.0 432.8 L1486.0 432.0 L1487.0 429.5 L1488.0 428.4 L1489.0 426.5 L1490.0 424.9 L1491.0 425.0 L1492.0 423.7 L1493.0 424.0 L1494.0 423.8 L1495.0 423.1 L1496.0 422.8 L1497.0 424.3 L1498.0 423.1 L1499.0 422.4 L1500.0 422.7 L1501.0 422.1 L1502.0 421.7 L1503.0 422.2 L1504.0 423.2 L1505.0 424.6 L1506.0 426.5 L1507.0 427.9 L1508.0 429.6 L1509.0 431.5 L1510.0 432.8 L1511.0 434.3 L1512.0 434.7 L1513.0 435.6 L1514.0 435.9 L1515.0 437.5 L1516.0 436.9 L1517.0 437.9 L1518.0 437.8 L1519.0 438.5 L1520.0 438.9 L1521.0 438.1 L1522.0 438.8 L1523.0 438.4 L1524.0 439.7 L1525.0 439.0 L1526.0 438.7 L1527.0 439.1 L1528.0 439.8 L1529.0 439.9 L1530.0 439.8 L1531.0 439.0 L1532.0 439.2 L1533.0 439.9 L1534.0 439.0 L1535.0 439.1 L1536.0 438.9 L1537.0 438.9 L1538.0 439.9 L1539.0 439.7 L1540.0 439.6 L1541.0 439.7 L1542.0 439.9 L1543.0 440.0 L1544.0 439.4 L1545.0 439.2 L1546.0 438.8 L1547.0 439.5 L1548.0 438.7 L1549.0 438.1 L1550.0 438.3 L1551.0 438.1 L1552.0 438.0 L1553.0 437.6 L1554.0 436.4 L1555.0 435.8 L1556.0 435.3 L1557.0 434.3 L1558.0 434.0 L1559.0 433.7 L1560.0 433.1 L1561.0 432.2 L1562.0 432.5 L1563.0 433.7 L1564.0 433.4 L1565.0 434.7 L1566.0 435.4 L1567.0 435.7 L1568.0 436.1 L1569.0 437.1 L1570.0 437.2 L1571.0 438.0 L1572.0 438.5 L1573.0 438.5 L1574.0 438.9 L1575.0 439.1 L1576.0 439.0 L1577.0 439.6 L1578.0 439.5 L1579.0 439.2 L1580.0 439.9 L1581.0 440.0 L1582.0 439.9 L1583.0 439.4 L1584.0 440.6 L1585.0 440.6 L1586.0 440.6 L1587.0 440.5 L1588.0 439.9 L1589.0 440.5 L1590.0 440.1 L1591.0 441.3 L1592.0 440.3 L1593.0 440.7 L1594.0 439.8 L1595.0 440.0 L1596.0 440.2 L1597.0 440.6 L1598.0 440.5 L1599.0 440.4 L1600.0 439.5 L1601.0 440.7 L1602.0 439.9 L1603.0 440.9 L1604.0 441.1 L1605.0 440.7 L1606.0 440.9 L1607.0 440.1 L1608.0 441.6 L1609.0 440.7 L1610.0 441.1 L1611.0 440.4 L1612.0 440.7 L1613.0 440.3 L1614.0 440.7 L1615.0 440.8 L1616.0 440.9 L1617.0 441.4 L1618.0 441.0 L1619.0 440.9 L1620.0 440.9 L1621.0 441.6 L1622.0 440.6 L1623.0 441.3 L1624.0 440.1 L1625.0 440.5 L1626.0 441.0 L1627.0 440.8 L1628.0 442.0 L1629.0 441.8 L1630.0 440.2 L1631.0 440.3 L1632.0 440.7 L1633.0 441.3 L1634.0 441.0 L1635.0 440.7 L1636.0 439.9 L1637.0 440.1 L1638.0 439.3 L1639.0 439.7 L1640.0 440.4 L1641.0 440.5 L1642.0 439.8 L1643.0 440.4 L1644.0 441.0 L1645.0 440.5 L1646.0 440.4 L1647.0 440.9 L1648.0 440.9 L1649.0 440.8 L1650.0 440.6 L1651.0 440.7 L1652.0 440.9 L1653.0 440.7 L1654.0 441.4 L1655.0 441.3 L1656.0 441.3 L1657.0 441.7 L1658.0 441.5 L1659.0 441.5 L1660.0 441.1 L1661.0 440.9 L1662.0 441.8 L1663.0 440.7 L1664.0 440.7 L1665.0 440.6 L1666.0 441.1 L1667.0 441.1 L1668.0 441.4 L1669.0 440.9 L1670.0 440.3 L1671.0 441.1 L1672.0 441.3 L1673.0 441.0 L1674.0 440.9 L1675.0 441.2 L1676.0 441.5 L1677.0 440.9 L1678.0 440.4 L1679.0 440.7 L1680.0 440.9 L1681.0 440.3 L1682.0 441.2 L1683.0 440.7 L1684.0 441.1 L1685.0 441.0 L1686.0 440.8 L1687.0 441.5 L1688.0 440.7 L1689.0 440.6 L1690.0 441.0 L1691.0 441.2 L1692.0 440.8 L1693.0 440.4 L1694.0 441.1 L1695.0 441.0 L1696.0 441.5 L1697.0 440.6 L1698.0 440.8 L1699.0 440.4 L1700.0 440.0 L1701.0 440.5 L1702.0 440.8 L1703.0 439.9 L1704.0 440.0 L1705.0 439.6 L1706.0 440.4 L1707.0 439.4 L1708.0 439.6 L1709.0 438.8 L1710.0 438.8 L1711.0 438.1 L1712.0 437.1 L1713.0 437.7 L1714.0 437.6 L1715.0 436.4 L1716.0 437.2 L1717.0 437.3 L1718.0 437.4 L1719.0 438.1 L1720.0 437.8 L1721.0 439.0 L1722.0 439.7 L1723.0 439.0 L1724.0 439.7 L1725.0 440.5 L1726.0 440.2 L1727.0 440.1 L1728.0 440.0 L1729.0 440.5 L1730.0 440.5 L1731.0 440.8 L1732.0 440.1 L1733.0 441.1 L1734.0 440.6 L1735.0 441.0 L1736.0 440.5 L1737.0 440.3 L1738.0 440.6 L1739.0 440.5 L1740.0 440.7 L1741.0 441.1 L1742.0 441.3 L1743.0 441.0 L1744.0 440.7 L1745.0 440.7 L1746.0 441.1 L1747.0 441.4 L1748.0 440.8 L1749.0 440.9 L1750.0 440.7 L1751.0 441.0 L1752.0 441.3 L1753.0 439.8 L1754.0 441.1 L1755.0 440.7 L1756.0 440.1 L1757.0 441.1 L1758.0 440.9 L1759.0 441.1 L1760.0 440.4 L1761.0 441.8 L1762.0 441.0 L1763.0 440.8 L1764.0 441.5 L1765.0 441.2 L1766.0 441.3 L1767.0 441.4 L1768.0 440.2 L1769.0 441.6 L1770.0 440.8 L1771.0 441.0 L1772.0 441.3 L1773.0 440.6 L1774.0 441.0 L1775.0 441.2 L1776.0 440.8 L1777.0 441.0 L1778.0 440.2 L1779.0 440.3 L1780.0 440.3 L1781.0 440.9 L1782.0 442.1 L1783.0 440.7 L1784.0 440.5 L1785.0 440.5 L1786.0 440.8 L1787.0 440.6 L1788.0 439.7 L1789.0 440.4 L1790.0 439.8 L1791.0 440.0 L1792.0 438.7 L1793.0 438.7 L1794.0 439.3 L1795.0 438.3 L1796.0 439.2 L1797.0 439.2 L1798.0 439.3 L1799.0 439.6 L1800.0 439.7 L1801.0 440.0 L1802.0 439.9 L1803.0 440.1 L1804.0 441.4 L1805.0 440.8 L1806.0 440.7 L1807.0 440.7 L1808.0 440.3 L1809.0 440.7 L1810.0 440.6 L1811.0 441.1 L1812.0 440.4 L1813.0 439.9 L1814.0 440.6 L1815.0 441.1 L1816.0 441.8 L1817.0 441.2 L1818.0 440.5 L1819.0 440.8 L1820.0 440.5 L1821.0 440.8 L1822.0 440.5 L1823.0 440.2 L1824.0 441.0 L1825.0 440.9 L1826.0 440.8 L1827.0 441.0 L1828.0 441.6 L1829.0 440.9 L1830.0 440.7 L1831.0 441.2 L1832.0 440.2 L1833.0 441.1 L1834.0 440.5 L1835.0 440.5 L1836.0 440.8 L1837.0 441.4 L1838.0 440.5 L1839.0 441.1 L1840.0 440.9 L1841.0 440.2 L1842.0 441.1 L1843.0 440.4 L1844.0 440.1 L1845.0 440.4 L1846.0 440.4 L1847.0 440.9 L1848.0 440.3 L1849.0 441.2 L1850.0 440.7 L1851.0 440.3 L1852.0 440.2 L1853.0 440.6 L1854.0 439.7 L1855.0 439.6 L1856.0 440.0 L1857.0 440.5 L1858.0 440.3 L1859.0 440.2 L1860.0 440.0 L1861.0 439.2 L1862.0 439.8 L1863.0 439.2 L1864.0 440.0 L1865.0 439.6 L1866.0 439.4 L1867.0 439.4 L1868.0 439.1 L1869.0 438.8 L1870.0 438.4 L1871.0 437.6 L1872.0 436.8 L1873.0 436.8 L1874.0 436.4 L1875.0 435.3 L1876.0 433.7 L1877.0 432.7 L1878.0 431.0 L1879.0 430.1 L1880.0 428.9 L1881.0 428.7 L1882.0 429.5 L1883.0 429.6 L1884.0 430.6 L1885.0 430.4 L1886.0 431.0 L1887.0 431.7 L1888.0 432.3 L1889.0 432.2 L1890.0 432.9 L1891.0 432.4 L1892.0 433.2 L1893.0 433.1 L1894.0 432.3 L1895.0 432.9 L1896.0 432.5 L1897.0 433.1 L1898.0 432.7 L1899.0 433.3 L1900.0 433.8 L1901.0 433.1 L1902.0 434.0 L1903.0 435.3 L1904.0 435.7 L1905.0 436.6 L1906.0 436.7 L1907.0 436.4 L1908.0 437.2 L1909.0 437.0 L1910.0 437.2 L1911.0 437.1 L1912.0 437.4 L1913.0 436.6 L1914.0 436.5 L1915.0 435.8 L1916.0 437.2 L1917.0 435.7 L1918.0 435.5 L1919.0 435.2 L1920.0 435.4 L1921.0 435.5 L1922.0 436.1 L1923.0 436.2 L1924.0 436.7 L1925.0 436.7 L1926.0 437.3 L1927.0 438.2 L1928.0 438.1 L1929.0 438.6 L1930.0 438.0 L1931.0 439.2 L1932.0 439.4 L1933.0 439.9 L1934.0 438.6 L1935.0 439.8 L1936.0 439.8 L1937.0 440.0 L1938.0 439.8 L1939.0 440.2 L1940.0 440.5 L1941.0 440.3 L1942.0 440.2 L1943.0 440.3 L1944.0 440.2 L1945.0 440.4 L1946.0 440.2 L1947.0 439.7 L1948.0 441.0 L1949.0 439.8 L1950.0 440.5 L1951.0 440.0 L1952.0 440.4 L1953.0 440.2 L1954.0 440.5 L1955.0 440.2 L1956.0 440.0 L1957.0 440.6 L1958.0 441.0 L1959.0 440.6 L1960.0 440.5 L1961.0 440.0 L1962.0 440.4 L1963.0 440.5 L1964.0 440.1 L1965.0 440.6 L1966.0 440.2 L1967.0 440.2 L1968.0 439.8 L1969.0 439.7 L1970.0 439.8 L1971.0 439.6 L1972.0 439.4 L1973.0 438.5 L1974.0 438.3 L1975.0 438.2 L1976.0 437.0 L1977.0 437.6 L1978.0 436.7 L1979.0 436.1 L1980.0 435.3 L1981.0 435.6 L1982.0 435.1 L1983.0 436.1 L1984.0 435.9 L1985.0 435.7 L1986.0 437.1 L1987.0 437.2 L1988.0 437.7 L1989.0 438.3 L1990.0 438.7 L1991.0 439.2 L1992.0 439.7 L1993.0 439.8 L1994.0 439.6 L1995.0 439.5 L1996.0 439.8 L1997.0 440.4 L1998.0 440.7 L1999.0 441.1 L2000.0 440.0 L2001.0 440.6 L2002.0 440.5 L2003.0 440.5 L2004.0 440.7 L2005.0 440.6 L2006.0 440.6 L2007.0 440.5 L2008.0 440.9 L2009.0 441.2 L2010.0 441.5 L2011.0 440.6 L2012.0 440.5 L2013.0 440.8 L2014.0 440.6 L2015.0 441.3 L2016.0 440.6 L2017.0 441.0 L2018.0 440.4 L2019.0 440.8 L2020.0 441.0 L2021.0 441.5 L2022.0 440.7 L2023.0 441.1 L2024.0 440.2 L2025.0 440.5 L2026.0 440.7 L2027.0 440.8 L2028.0 441.2 L2029.0 441.3 L2030.0 440.4 L2031.0 441.2 L2032.0 440.6 L2033.0 441.7 L2034.0 441.2 L2035.0 441.1 L2036.0 441.0 L2037.0 441.0 L2038.0 441.0 L2039.0 440.8 L2040.0 441.3 L2041.0 441.2 L2042.0 441.3 L2043.0 441.0 L2044.0 441.3 L2045.0 440.8 L2046.0 442.4 L2047.0 440.8 L2048.0 440.9 L2049.0 441.4 L2050.0 441.5 L2051.0 440.8 L2052.0 440.4 L2053.0 440.5 L2054.0 440.7 L2055.0 440.8 L2056.0 441.0 L2057.0 441.5 L2058.0 441.5 L2059.0 440.8 L2060.0 441.3 L2061.0 441.4 L2062.0 441.6 L2063.0 441.0 L2064.0 440.8 L2065.0 441.3 L2066.0 441.6 L2067.0 440.8 L2068.0 441.8 L2069.0 441.7 L2070.0 440.9 L2071.0 440.4 L2072.0 440.8 L2073.0 440.9 L2074.0 441.2 L2075.0 440.4 L2076.0 441.9 L2077.0 441.9 L2078.0 440.7 L2079.0 440.2 L2080.0 440.9 L2081.0 441.1 L2082.0 441.4 L2083.0 441.1 L2084.0 440.7 L2085.0 440.0 L2086.0 440.9 L2087.0 440.9 L2088.0 440.4 L2089.0 440.5 L2090.0 440.4 L2091.0 440.1 L2092.0 439.6 L2093.0 440.0 L2094.0 439.1 L2095.0 440.0 L2096.0 439.0 L2097.0 439.5 L2098.0 439.0 L2099.0 439.5 L2100.0 439.4 L2101.0 439.8 L2102.0 439.5 L2103.0 439.4 L2104.0 440.0 L2105.0 440.2 L2106.0 439.8 L2107.0 440.3 L2108.0 440.0 L2109.0 440.7 L2110.0 440.6 L2111.0 440.8 L2112.0 441.8 L2113.0 440.9 L2114.0 441.0 L2115.0 441.1 L2116.0 440.9 L2117.0 440.7 L2118.0 441.3 L2119.0 441.3 L2120.0 439.8 L2121.0 440.9 L2122.0 440.8 L2123.0 440.7 L2124.0 441.4 L2125.0 440.8 L2126.0 441.3 L2127.0 440.7 L2128.0 440.8 L2129.0 441.2 L2130.0 440.7 L2131.0 440.9 L2132.0 440.5 L2133.0 440.6 L2134.0 441.2 L2135.0 441.1 L2136.0 440.4 L2137.0 440.4 L2138.0 441.8 L2139.0 440.5 L2140.0 440.4 L2141.0 440.9 L2142.0 440.3 L2143.0 440.4 L2144.0 440.8 L2145.0 440.8 L2146.0 440.2 L2147.0 440.7 L2148.0 440.0 L2149.0 439.7 L2150.0 439.6 L2151.0 439.2 L2152.0 439.3 L2153.0 438.8 L2154.0 438.1 L2155.0 438.2 L2156.0 437.7 L2157.0 437.5 L2158.0 437.7 L2159.0 438.2 L2160.0 438.2 L2161.0 438.8 L2162.0 439.3 L2163.0 439.0 L2164.0 439.0 L2165.0 439.2 L2166.0 439.8 L2167.0 440.2 L2168.0 440.6 L2169.0 439.6 L2170.0 440.5 L2171.0 440.6 L2172.0 441.2 L2173.0 440.4 L2174.0 440.3 L2175.0 439.7 L2176.0 439.9 L2177.0 439.7 L2178.0 439.7 L2179.0 439.6 L2180.0 439.2 L2181.0 439.6 L2182.0 439.5 L2183.0 439.4 L2184.0 438.9 L2185.0 439.0 L2186.0 438.8 L2187.0 437.6 L2188.0 437.9 L2189.0 437.6 L2190.0 437.8 L2191.0 438.4 L2192.0 438.6 L2193.0 439.5 L2194.0 440.0 L2195.0 439.6 L2196.0 439.6 L2197.0 439.8 L2198.0 440.0 L2199.0 440.4 L2200.0 440.0 L2201.0 440.6 L2202.0 440.3 L2203.0 440.8 L2204.0 441.0 L2205.0 441.2 L2206.0 440.4 L2207.0 440.0 L2208.0 439.8 L2209.0 440.3 L2210.0 439.9 L2211.0 439.7 L2212.0 440.1 L2213.0 439.8 L2214.0 440.3 L2215.0 440.6 L2216.0 439.6 L2217.0 439.6 L2218.0 438.7 L2219.0 439.1 L2220.0 438.6 L2221.0 438.2 L2222.0 437.9 L2223.0 439.2 L2224.0 438.1 L2225.0 438.4 L2226.0 439.1 L2227.0 439.4 L2228.0 439.6 L2229.0 439.8 L2230.0 439.6 L2231.0 440.4 L2232.0 440.3 L2233.0 439.8 L2234.0 441.0 L2235.0 440.4 L2236.0 440.9 L2237.0 440.1 L2238.0 440.2 L2239.0 440.5 L2240.0 440.4 L2241.0 441.1 L2242.0 440.1 L2243.0 440.8 L2244.0 440.4 L2245.0 440.9 L2246.0 440.8 L2247.0 440.5 L2248.0 441.6 L2249.0 440.7 L2250.0 441.1 L2251.0 440.2 L2252.0 440.6 L2253.0 440.6 L2254.0 440.6 L2255.0 440.4 L2256.0 440.2 L2257.0 439.3 L2258.0 440.2 L2259.0 440.0 L2260.0 440.1 L2261.0 440.5 L2262.0 440.9 L2263.0 440.1 L2264.0 440.1 L2265.0 439.8 L2266.0 439.6 L2267.0 439.4 L2268.0 438.8 L2269.0 438.4 L2270.0 438.3 L2271.0 438.5 L2272.0 437.6 L2273.0 437.4 L2274.0 435.8 L2275.0 435.9 L2276.0 435.5 L2277.0 435.1 L2278.0 434.0 L2279.0 433.6 L2280.0 433.4 L2281.0 434.1 L2282.0 435.1 L2283.0 434.4 L2284.0 433.8 L2285.0 434.4 L2286.0 434.1 L2287.0 434.3 L2288.0 434.0 L2289.0 433.8 L2290.0 434.2 L2291.0 435.0 L2292.0 435.2 L2293.0 436.0 L2294.0 435.7 L2295.0 437.0 L2296.0 437.2 L2297.0 437.7 L2298.0 438.5 L2299.0 438.4 L2300.0 438.9 L2301.0 439.3 L2302.0 439.6 L2303.0 439.9 L2304.0 440.3 L2305.0 440.1 L2306.0 439.9 L2307.0 441.1 L2308.0 440.3 L2309.0 440.6 L2310.0 440.2 L2311.0 439.7 L2312.0 440.3 L2313.0 440.7 L2314.0 441.0 L2315.0 440.8 L2316.0 441.1 L2317.0 441.3 L2318.0 441.3 L2319.0 440.9 L2320.0 441.0 L2321.0 440.9 L2322.0 440.7 L2323.0 441.6 L2324.0 440.6 L2325.0 441.1 L2326.0 441.2 L2327.0 440.3 L2328.0 441.4 L2329.0 441.0 L2330.0 441.3 L2331.0 441.1 L2332.0 440.6 L2333.0 441.3 L2334.0 441.3 L2335.0 441.6 L2336.0 441.4 L2337.0 440.6 L2338.0 441.7 L2339.0 441.6 L2340.0 441.6 L2341.0 441.3 L2342.0 441.3 L2343.0 441.3 L2344.0 441.3" fill="none" stroke="#2E9BF0" stroke-width="11.6" stroke-linejoin="round" stroke-linecap="butt"/>
<text x="197.9" y="1721" font-size="90" text-anchor="middle" fill="#333333" font-family="Liberation Sans, Arial, Helvetica, sans-serif">20</text>
<text x="426.1" y="1721" font-size="90" text-anchor="middle" fill="#333333" font-family="Liberation Sans, Arial, Helvetica, sans-serif">25</text>
<text x="654.3" y="1721" font-size="90" text-anchor="middle" fill="#333333" font-family="Liberation Sans, Arial, Helvetica, sans-serif">30</text>
<text x="882.5" y="1721" font-size="90" text-anchor="middle" fill="#333333" font-family="Liberation Sans, Arial, Helvetica, sans-serif">35</text>
<text x="1110.7" y="1721" font-size="90" text-anchor="middle" fill="#333333" font-family="Liberation Sans, Arial, Helvetica, sans-serif">40</text>
<text x="1338.9" y="1721" font-size="90" text-anchor="middle" fill="#333333" font-family="Liberation Sans, Arial, Helvetica, sans-serif">45</text>
<text x="1567.1" y="1721" font-size="90" text-anchor="middle" fill="#333333" font-family="Liberation Sans, Arial, Helvetica, sans-serif">50</text>
<text x="1795.3" y="1721" font-size="90" text-anchor="middle" fill="#333333" font-family="Liberation Sans, Arial, Helvetica, sans-serif">55</text>
<text x="2023.5" y="1721" font-size="90" text-anchor="middle" fill="#333333" font-family="Liberation Sans, Arial, Helvetica, sans-serif">60</text>
<text x="2251.7" y="1721" font-size="90" text-anchor="middle" fill="#333333" font-family="Liberation Sans, Arial, Helvetica, sans-serif">65</text>
<text x="939" y="1870" font-size="131" fill="#333333" font-family="Liberation Sans, Arial, Helvetica, sans-serif">2</text>
<text transform="translate(1012 1870) scale(1.12 1)" font-size="130" fill="#333333" font-family="Liberation Serif, Times New Roman, serif">θ</text>
<text x="1116" y="1870" font-size="129" fill="#333333" font-family="Liberation Sans, Arial, Helvetica, sans-serif">(degree)</text>
<text transform="translate(112.6 795) rotate(-90)" font-size="130" text-anchor="middle" fill="#333333" font-family="Liberation Sans, Arial, Helvetica, sans-serif">Intensity (a.u.)</text>
<text transform="translate(355.3 411.0) rotate(-90)" font-size="71" style="font-kerning:none" fill="#333333" font-family="Liberation Sans, Arial, Helvetica, sans-serif">(002)</text>
<text transform="translate(523.8 403.5) rotate(-90)" font-size="71" style="font-kerning:none" fill="#333333" font-family="Liberation Sans, Arial, Helvetica, sans-serif">(111)</text>
<text transform="translate(720.8 370.1) rotate(-90)" font-size="71" style="font-kerning:none" fill="#333333" font-family="Liberation Sans, Arial, Helvetica, sans-serif">(120)</text>
<text transform="translate(828.4 234.0) rotate(-90)" font-size="71" style="font-kerning:none" fill="#333333" font-family="Liberation Sans, Arial, Helvetica, sans-serif">(112)</text>
<text transform="translate(907.1 238.4) rotate(-90)" font-size="71" style="font-kerning:none" fill="#333333" font-family="Liberation Sans, Arial, Helvetica, sans-serif">(121)</text>
<text transform="translate(996.1 370.1) rotate(-90)" font-size="71" style="font-kerning:none" fill="#333333" font-family="Liberation Sans, Arial, Helvetica, sans-serif">(013)</text>
<text transform="translate(1135.1 363.5) rotate(-90)" font-size="71" style="font-kerning:none" fill="#333333" font-family="Liberation Sans, Arial, Helvetica, sans-serif">(122)</text>
<text transform="translate(1249.9 363.5) rotate(-90)" font-size="71" style="font-kerning:none" fill="#333333" font-family="Liberation Sans, Arial, Helvetica, sans-serif">(113)</text>
<text transform="translate(1368.9 389.4) rotate(-90)" font-size="71" style="font-kerning:none" fill="#333333" font-family="Liberation Sans, Arial, Helvetica, sans-serif">(211)</text>
<text transform="translate(1525.4 391.5) rotate(-90)" font-size="71" style="font-kerning:none" fill="#333333" font-family="Liberation Sans, Arial, Helvetica, sans-serif">(123)</text>
<text transform="translate(1737.1 415.7) rotate(-90)" font-size="71" style="font-kerning:none" fill="#333333" font-family="Liberation Sans, Arial, Helvetica, sans-serif">(114)</text>
<text transform="translate(1904.0 410.3) rotate(-90)" font-size="71" style="font-kerning:none" fill="#333333" font-family="Liberation Sans, Arial, Helvetica, sans-serif">(042)</text>
<text x="2141.8" y="384.3" font-size="70" font-weight="bold" text-anchor="end" fill="#2E9BF0" font-family="Liberation Sans, Arial, Helvetica, sans-serif">1.0</text>
<text transform="translate(2310.8 384.3) scale(0.95 1)" font-size="70" font-weight="bold" text-anchor="end" fill="#2E9BF0" font-family="Liberation Sans, Arial, Helvetica, sans-serif">wt.%</text>
<text x="2143.4" y="564.1" font-size="70" font-weight="bold" text-anchor="end" fill="#FFC914" font-family="Liberation Sans, Arial, Helvetica, sans-serif">0.75</text>
<text transform="translate(2312.4 564.1) scale(0.95 1)" font-size="70" font-weight="bold" text-anchor="end" fill="#FFC914" font-family="Liberation Sans, Arial, Helvetica, sans-serif">wt.%</text>
<text x="2143.4" y="760.4" font-size="70" font-weight="bold" text-anchor="end" fill="#FF7A7A" font-family="Liberation Sans, Arial, Helvetica, sans-serif">0.5</text>
<text transform="translate(2312.4 760.4) scale(0.95 1)" font-size="70" font-weight="bold" text-anchor="end" fill="#FF7A7A" font-family="Liberation Sans, Arial, Helvetica, sans-serif">wt.%</text>
<text x="2143.2" y="969.3" font-size="70" font-weight="bold" text-anchor="end" fill="#1FBFBF" font-family="Liberation Sans, Arial, Helvetica, sans-serif">0.25</text>
<text transform="translate(2312.2 969.3) scale(0.95 1)" font-size="70" font-weight="bold" text-anchor="end" fill="#1FBFBF" font-family="Liberation Sans, Arial, Helvetica, sans-serif">wt.%</text>
<text x="2303" y="1166.7" font-size="70" font-weight="bold" text-anchor="end" fill="#333333" font-family="Liberation Sans, Arial, Helvetica, sans-serif">Ag<tspan font-size="42" dy="18">2</tspan><tspan dy="-18">Se</tspan></text>
<text x="2303.5" y="1363.2" font-size="70" font-weight="bold" text-anchor="end" fill="#808080" font-family="Liberation Sans, Arial, Helvetica, sans-serif">Ag<tspan font-size="42" dy="18">2</tspan><tspan dy="-18">Se</tspan> powder</text>
<text transform="translate(2312 1506.3) scale(0.992 1)" font-size="70" font-weight="bold" text-anchor="end" fill="#C88085" font-family="Liberation Sans, Arial, Helvetica, sans-serif">ICDD 00-024-1041</text>
</svg>
</body></html>
